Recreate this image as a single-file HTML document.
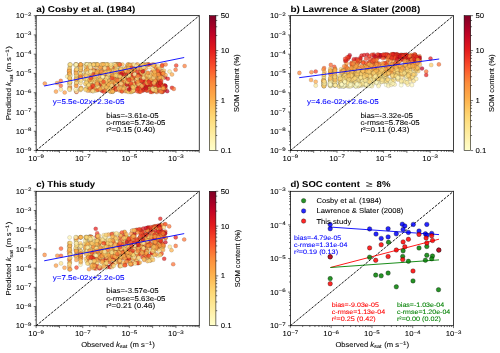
<!DOCTYPE html><html><head><meta charset="utf-8"><style>html,body{margin:0;padding:0;background:#fff;width:500px;height:353px;overflow:hidden}svg{display:block;will-change:transform}text{font-family:"Liberation Sans",sans-serif;text-rendering:geometricPrecision}</style></head><body><svg width="500" height="353" viewBox="0 0 500 353" font-family="Liberation Sans, sans-serif"><rect width="500" height="353" fill="#fff"/><defs><clipPath id="c0"><rect x="36.15" y="15.65" width="163.1" height="134.9"/></clipPath></defs><g clip-path="url(#c0)" stroke="#000" stroke-opacity="0.5" stroke-width="0.22" fill-opacity="0.72"><circle cx="80.5" cy="70.3" r="2.05" fill="rgb(254,187,86)"/><circle cx="147.9" cy="81.6" r="2.05" fill="rgb(244,62,37)"/><circle cx="157.6" cy="83.8" r="2.05" fill="rgb(220,21,29)"/><circle cx="111.6" cy="79.7" r="2.05" fill="rgb(255,241,170)"/><circle cx="119.6" cy="64.5" r="2.05" fill="rgb(254,209,109)"/><circle cx="105.2" cy="88.5" r="2.05" fill="rgb(232,37,31)"/><circle cx="113.1" cy="72.7" r="2.05" fill="rgb(254,208,108)"/><circle cx="80.5" cy="68.2" r="2.05" fill="rgb(255,247,184)"/><circle cx="119.6" cy="75.4" r="2.05" fill="rgb(254,215,116)"/><circle cx="106.9" cy="74.2" r="2.05" fill="rgb(254,186,84)"/><circle cx="165.3" cy="86.6" r="2.05" fill="rgb(252,84,43)"/><circle cx="110.1" cy="90.7" r="2.05" fill="rgb(253,149,63)"/><circle cx="69.8" cy="70.9" r="2.05" fill="rgb(254,223,130)"/><circle cx="150.4" cy="75.9" r="2.05" fill="rgb(237,47,33)"/><circle cx="88.1" cy="78.2" r="2.05" fill="rgb(254,192,91)"/><circle cx="92.8" cy="91.1" r="2.05" fill="rgb(253,155,66)"/><circle cx="134.3" cy="70.0" r="2.05" fill="rgb(252,82,43)"/><circle cx="143.1" cy="90.6" r="2.05" fill="rgb(241,55,36)"/><circle cx="91.5" cy="78.2" r="2.05" fill="rgb(253,171,73)"/><circle cx="105.5" cy="78.1" r="2.05" fill="rgb(254,208,108)"/><circle cx="154.1" cy="78.5" r="2.05" fill="rgb(254,182,80)"/><circle cx="155.6" cy="85.0" r="2.05" fill="rgb(254,233,151)"/><circle cx="132.2" cy="69.0" r="2.05" fill="rgb(252,106,50)"/><circle cx="108.9" cy="82.2" r="2.05" fill="rgb(254,216,117)"/><circle cx="159.5" cy="82.1" r="2.05" fill="rgb(254,216,117)"/><circle cx="109.4" cy="73.2" r="2.05" fill="rgb(254,184,83)"/><circle cx="101.7" cy="90.5" r="2.05" fill="rgb(255,239,166)"/><circle cx="139.7" cy="90.2" r="2.05" fill="rgb(233,39,31)"/><circle cx="80.7" cy="74.6" r="2.05" fill="rgb(254,193,92)"/><circle cx="154.8" cy="84.0" r="2.05" fill="rgb(252,80,42)"/><circle cx="118.1" cy="71.5" r="2.05" fill="rgb(253,169,72)"/><circle cx="100.4" cy="75.4" r="2.05" fill="rgb(253,171,73)"/><circle cx="85.5" cy="71.1" r="2.05" fill="rgb(254,206,107)"/><circle cx="148.4" cy="75.7" r="2.05" fill="rgb(221,22,29)"/><circle cx="121.9" cy="83.0" r="2.05" fill="rgb(253,172,73)"/><circle cx="152.3" cy="77.8" r="2.05" fill="rgb(254,182,80)"/><circle cx="108.5" cy="86.6" r="2.05" fill="rgb(253,153,65)"/><circle cx="155.4" cy="66.8" r="2.05" fill="rgb(253,172,73)"/><circle cx="136.9" cy="84.5" r="2.05" fill="rgb(254,204,104)"/><circle cx="142.3" cy="81.5" r="2.05" fill="rgb(253,147,62)"/><circle cx="147.5" cy="64.5" r="2.05" fill="rgb(254,187,86)"/><circle cx="121.7" cy="69.5" r="2.05" fill="rgb(253,172,73)"/><circle cx="69.8" cy="67.0" r="2.05" fill="rgb(254,221,128)"/><circle cx="102.1" cy="90.8" r="2.05" fill="rgb(218,20,30)"/><circle cx="80.5" cy="90.0" r="2.05" fill="rgb(254,204,104)"/><circle cx="93.2" cy="81.1" r="2.05" fill="rgb(254,234,154)"/><circle cx="128.4" cy="64.5" r="2.05" fill="rgb(254,183,82)"/><circle cx="100.3" cy="85.8" r="2.05" fill="rgb(253,141,60)"/><circle cx="118.2" cy="65.7" r="2.05" fill="rgb(255,246,183)"/><circle cx="93.2" cy="71.3" r="2.05" fill="rgb(254,203,103)"/><circle cx="104.0" cy="69.6" r="2.05" fill="rgb(254,213,113)"/><circle cx="119.6" cy="84.6" r="2.05" fill="rgb(254,222,129)"/><circle cx="153.3" cy="71.6" r="2.05" fill="rgb(252,118,53)"/><circle cx="138.3" cy="73.0" r="2.05" fill="rgb(253,156,66)"/><circle cx="163.9" cy="70.7" r="2.05" fill="rgb(254,189,88)"/><circle cx="137.5" cy="87.3" r="2.05" fill="rgb(235,44,32)"/><circle cx="126.4" cy="76.1" r="2.05" fill="rgb(254,208,108)"/><circle cx="127.2" cy="66.4" r="2.05" fill="rgb(253,157,67)"/><circle cx="129.5" cy="74.9" r="2.05" fill="rgb(254,189,88)"/><circle cx="110.0" cy="88.1" r="2.05" fill="rgb(253,154,65)"/><circle cx="89.9" cy="85.5" r="2.05" fill="rgb(254,221,126)"/><circle cx="97.5" cy="74.7" r="2.05" fill="rgb(255,247,184)"/><circle cx="69.8" cy="78.3" r="2.05" fill="rgb(253,175,74)"/><circle cx="161.1" cy="82.0" r="2.05" fill="rgb(252,130,56)"/><circle cx="147.8" cy="84.0" r="2.05" fill="rgb(242,59,36)"/><circle cx="155.0" cy="76.5" r="2.05" fill="rgb(253,156,66)"/><circle cx="164.7" cy="89.9" r="2.05" fill="rgb(252,100,48)"/><circle cx="125.5" cy="82.7" r="2.05" fill="rgb(254,188,87)"/><circle cx="110.0" cy="73.2" r="2.05" fill="rgb(254,216,117)"/><circle cx="94.6" cy="87.0" r="2.05" fill="rgb(254,199,99)"/><circle cx="88.2" cy="88.5" r="2.05" fill="rgb(254,191,90)"/><circle cx="128.4" cy="75.8" r="2.05" fill="rgb(253,174,74)"/><circle cx="80.9" cy="70.5" r="2.05" fill="rgb(253,170,72)"/><circle cx="105.2" cy="67.7" r="2.05" fill="rgb(253,146,62)"/><circle cx="98.7" cy="74.4" r="2.05" fill="rgb(254,211,112)"/><circle cx="80.7" cy="77.8" r="2.05" fill="rgb(253,163,69)"/><circle cx="113.8" cy="64.5" r="2.05" fill="rgb(254,229,144)"/><circle cx="156.4" cy="81.1" r="2.05" fill="rgb(232,37,31)"/><circle cx="109.9" cy="77.8" r="2.05" fill="rgb(254,230,146)"/><circle cx="91.4" cy="74.0" r="2.05" fill="rgb(255,247,184)"/><circle cx="86.1" cy="84.1" r="2.05" fill="rgb(254,200,100)"/><circle cx="115.2" cy="78.5" r="2.05" fill="rgb(253,165,70)"/><circle cx="109.7" cy="70.8" r="2.05" fill="rgb(254,179,78)"/><circle cx="94.0" cy="91.0" r="2.05" fill="rgb(255,245,180)"/><circle cx="147.3" cy="64.5" r="2.05" fill="rgb(255,238,163)"/><circle cx="80.3" cy="74.2" r="2.05" fill="rgb(254,228,142)"/><circle cx="108.7" cy="75.5" r="2.05" fill="rgb(254,181,79)"/><circle cx="86.6" cy="75.6" r="2.05" fill="rgb(254,225,134)"/><circle cx="138.3" cy="77.5" r="2.05" fill="rgb(253,174,74)"/><circle cx="150.8" cy="82.6" r="2.05" fill="rgb(239,52,35)"/><circle cx="101.4" cy="79.2" r="2.05" fill="rgb(253,154,65)"/><circle cx="137.9" cy="87.6" r="2.05" fill="rgb(162,0,38)"/><circle cx="163.6" cy="85.1" r="2.05" fill="rgb(253,141,60)"/><circle cx="144.0" cy="88.3" r="2.05" fill="rgb(244,62,37)"/><circle cx="94.6" cy="64.5" r="2.05" fill="rgb(254,216,117)"/><circle cx="150.7" cy="88.5" r="2.05" fill="rgb(254,215,116)"/><circle cx="134.8" cy="78.2" r="2.05" fill="rgb(253,167,71)"/><circle cx="124.7" cy="86.2" r="2.05" fill="rgb(207,12,33)"/><circle cx="80.4" cy="69.1" r="2.05" fill="rgb(255,239,165)"/><circle cx="124.7" cy="82.3" r="2.05" fill="rgb(255,242,173)"/><circle cx="98.1" cy="90.0" r="2.05" fill="rgb(252,130,56)"/><circle cx="103.8" cy="83.9" r="2.05" fill="rgb(254,215,116)"/><circle cx="145.8" cy="87.6" r="2.05" fill="rgb(204,10,33)"/><circle cx="127.6" cy="81.2" r="2.05" fill="rgb(253,169,72)"/><circle cx="109.5" cy="74.0" r="2.05" fill="rgb(254,222,129)"/><circle cx="75.9" cy="71.2" r="2.05" fill="rgb(255,244,179)"/><circle cx="155.8" cy="87.6" r="2.05" fill="rgb(253,157,67)"/><circle cx="137.6" cy="83.1" r="2.05" fill="rgb(254,235,157)"/><circle cx="126.7" cy="74.1" r="2.05" fill="rgb(254,228,142)"/><circle cx="112.8" cy="85.5" r="2.05" fill="rgb(254,226,137)"/><circle cx="161.0" cy="71.2" r="2.05" fill="rgb(246,67,39)"/><circle cx="111.4" cy="78.2" r="2.05" fill="rgb(252,136,58)"/><circle cx="91.9" cy="70.4" r="2.05" fill="rgb(255,240,168)"/><circle cx="113.9" cy="76.5" r="2.05" fill="rgb(254,197,96)"/><circle cx="80.8" cy="77.6" r="2.05" fill="rgb(254,178,76)"/><circle cx="108.7" cy="79.1" r="2.05" fill="rgb(254,234,154)"/><circle cx="147.0" cy="82.3" r="2.05" fill="rgb(254,189,88)"/><circle cx="97.1" cy="78.1" r="2.05" fill="rgb(253,177,75)"/><circle cx="119.6" cy="72.3" r="2.05" fill="rgb(254,208,108)"/><circle cx="80.2" cy="76.2" r="2.05" fill="rgb(252,112,51)"/><circle cx="70.3" cy="65.1" r="2.05" fill="rgb(254,219,122)"/><circle cx="69.7" cy="77.2" r="2.05" fill="rgb(254,218,120)"/><circle cx="118.7" cy="76.5" r="2.05" fill="rgb(253,169,72)"/><circle cx="152.5" cy="64.5" r="2.05" fill="rgb(252,118,53)"/><circle cx="119.4" cy="83.7" r="2.05" fill="rgb(253,142,60)"/><circle cx="86.1" cy="64.5" r="2.05" fill="rgb(254,232,150)"/><circle cx="89.0" cy="90.1" r="2.05" fill="rgb(253,157,67)"/><circle cx="111.2" cy="77.1" r="2.05" fill="rgb(254,193,92)"/><circle cx="116.9" cy="89.6" r="2.05" fill="rgb(252,94,46)"/><circle cx="113.6" cy="68.9" r="2.05" fill="rgb(252,100,48)"/><circle cx="149.0" cy="64.5" r="2.05" fill="rgb(254,187,86)"/><circle cx="121.2" cy="74.3" r="2.05" fill="rgb(254,203,103)"/><circle cx="140.6" cy="76.3" r="2.05" fill="rgb(227,28,28)"/><circle cx="143.1" cy="78.4" r="2.05" fill="rgb(253,177,75)"/><circle cx="157.7" cy="74.3" r="2.05" fill="rgb(255,239,165)"/><circle cx="70.1" cy="82.7" r="2.05" fill="rgb(254,218,121)"/><circle cx="101.6" cy="85.1" r="2.05" fill="rgb(255,247,184)"/><circle cx="127.8" cy="66.1" r="2.05" fill="rgb(253,168,71)"/><circle cx="76.0" cy="74.9" r="2.05" fill="rgb(255,247,184)"/><circle cx="133.0" cy="81.5" r="2.05" fill="rgb(252,88,45)"/><circle cx="136.0" cy="85.4" r="2.05" fill="rgb(254,218,120)"/><circle cx="130.5" cy="89.0" r="2.05" fill="rgb(228,29,28)"/><circle cx="102.5" cy="88.6" r="2.05" fill="rgb(253,162,69)"/><circle cx="136.9" cy="64.5" r="2.05" fill="rgb(252,122,54)"/><circle cx="152.2" cy="92.0" r="2.05" fill="rgb(252,122,54)"/><circle cx="85.9" cy="68.2" r="2.05" fill="rgb(255,240,168)"/><circle cx="86.3" cy="64.5" r="2.05" fill="rgb(255,247,184)"/><circle cx="160.7" cy="89.7" r="2.05" fill="rgb(253,174,74)"/><circle cx="93.9" cy="70.8" r="2.05" fill="rgb(254,235,157)"/><circle cx="107.3" cy="83.0" r="2.05" fill="rgb(227,26,28)"/><circle cx="153.3" cy="73.9" r="2.05" fill="rgb(253,176,75)"/><circle cx="94.7" cy="83.4" r="2.05" fill="rgb(254,181,79)"/><circle cx="128.8" cy="81.0" r="2.05" fill="rgb(254,226,137)"/><circle cx="113.1" cy="79.3" r="2.05" fill="rgb(254,231,147)"/><circle cx="114.0" cy="76.7" r="2.05" fill="rgb(254,192,91)"/><circle cx="122.0" cy="77.7" r="2.05" fill="rgb(252,126,55)"/><circle cx="152.6" cy="78.1" r="2.05" fill="rgb(254,179,78)"/><circle cx="76.0" cy="73.1" r="2.05" fill="rgb(255,247,184)"/><circle cx="151.1" cy="85.0" r="2.05" fill="rgb(252,126,55)"/><circle cx="105.6" cy="74.0" r="2.05" fill="rgb(253,145,61)"/><circle cx="141.6" cy="77.6" r="2.05" fill="rgb(253,163,69)"/><circle cx="160.7" cy="75.0" r="2.05" fill="rgb(254,179,78)"/><circle cx="104.4" cy="64.5" r="2.05" fill="rgb(253,153,65)"/><circle cx="90.9" cy="75.2" r="2.05" fill="rgb(255,247,184)"/><circle cx="85.6" cy="88.7" r="2.05" fill="rgb(254,191,90)"/><circle cx="99.0" cy="85.6" r="2.05" fill="rgb(254,208,108)"/><circle cx="109.4" cy="80.5" r="2.05" fill="rgb(252,128,56)"/><circle cx="162.4" cy="71.6" r="2.05" fill="rgb(254,206,107)"/><circle cx="149.2" cy="67.0" r="2.05" fill="rgb(254,228,141)"/><circle cx="133.7" cy="74.9" r="2.05" fill="rgb(254,193,92)"/><circle cx="96.6" cy="74.8" r="2.05" fill="rgb(252,130,56)"/><circle cx="138.0" cy="89.3" r="2.05" fill="rgb(254,204,104)"/><circle cx="152.2" cy="84.6" r="2.05" fill="rgb(255,237,161)"/><circle cx="124.0" cy="68.6" r="2.05" fill="rgb(254,229,144)"/><circle cx="161.2" cy="74.3" r="2.05" fill="rgb(247,68,39)"/><circle cx="123.1" cy="85.1" r="2.05" fill="rgb(253,168,71)"/><circle cx="105.8" cy="77.4" r="2.05" fill="rgb(254,222,129)"/><circle cx="87.3" cy="76.8" r="2.05" fill="rgb(254,214,115)"/><circle cx="109.1" cy="77.8" r="2.05" fill="rgb(254,235,157)"/><circle cx="91.6" cy="84.8" r="2.05" fill="rgb(252,136,58)"/><circle cx="131.9" cy="90.5" r="2.05" fill="rgb(254,200,100)"/><circle cx="76.6" cy="82.6" r="2.05" fill="rgb(254,213,113)"/><circle cx="97.1" cy="64.5" r="2.05" fill="rgb(253,158,67)"/><circle cx="114.9" cy="65.3" r="2.05" fill="rgb(254,189,88)"/><circle cx="80.5" cy="64.5" r="2.05" fill="rgb(254,194,93)"/><circle cx="124.9" cy="85.1" r="2.05" fill="rgb(252,80,42)"/><circle cx="152.5" cy="87.7" r="2.05" fill="rgb(240,54,35)"/><circle cx="88.2" cy="74.3" r="2.05" fill="rgb(253,156,66)"/><circle cx="101.3" cy="67.2" r="2.05" fill="rgb(253,169,72)"/><circle cx="156.9" cy="92.0" r="2.05" fill="rgb(252,116,52)"/><circle cx="106.3" cy="90.7" r="2.05" fill="rgb(254,187,86)"/><circle cx="143.8" cy="79.1" r="2.05" fill="rgb(254,197,96)"/><circle cx="120.1" cy="69.6" r="2.05" fill="rgb(253,163,69)"/><circle cx="76.5" cy="81.8" r="2.05" fill="rgb(255,247,184)"/><circle cx="147.2" cy="79.9" r="2.05" fill="rgb(254,215,116)"/><circle cx="125.1" cy="82.0" r="2.05" fill="rgb(254,192,91)"/><circle cx="127.9" cy="89.0" r="2.05" fill="rgb(253,143,61)"/><circle cx="98.6" cy="89.3" r="2.05" fill="rgb(253,175,74)"/><circle cx="130.1" cy="78.2" r="2.05" fill="rgb(232,37,31)"/><circle cx="64.7" cy="92.5" r="2.05" fill="rgb(253,157,67)"/><circle cx="137.6" cy="75.0" r="2.05" fill="rgb(254,182,80)"/><circle cx="114.7" cy="67.9" r="2.05" fill="rgb(252,102,48)"/><circle cx="130.1" cy="79.5" r="2.05" fill="rgb(254,218,121)"/><circle cx="131.6" cy="70.5" r="2.05" fill="rgb(253,171,73)"/><circle cx="88.9" cy="80.6" r="2.05" fill="rgb(253,145,61)"/><circle cx="131.0" cy="84.2" r="2.05" fill="rgb(254,225,134)"/><circle cx="95.9" cy="72.8" r="2.05" fill="rgb(253,158,67)"/><circle cx="141.0" cy="82.5" r="2.05" fill="rgb(254,181,79)"/><circle cx="76.5" cy="65.1" r="2.05" fill="rgb(254,192,91)"/><circle cx="110.0" cy="85.4" r="2.05" fill="rgb(223,23,28)"/><circle cx="97.8" cy="73.4" r="2.05" fill="rgb(252,104,49)"/><circle cx="91.0" cy="80.2" r="2.05" fill="rgb(254,191,90)"/><circle cx="106.1" cy="83.0" r="2.05" fill="rgb(223,23,28)"/><circle cx="69.6" cy="84.0" r="2.05" fill="rgb(255,247,184)"/><circle cx="127.8" cy="65.2" r="2.05" fill="rgb(254,223,130)"/><circle cx="184.6" cy="66.0" r="2.05" fill="rgb(252,122,54)"/><circle cx="95.4" cy="65.1" r="2.05" fill="rgb(253,164,70)"/><circle cx="96.7" cy="87.5" r="2.05" fill="rgb(254,193,92)"/><circle cx="114.8" cy="88.1" r="2.05" fill="rgb(253,176,75)"/><circle cx="101.0" cy="84.7" r="2.05" fill="rgb(255,238,163)"/><circle cx="75.9" cy="64.5" r="2.05" fill="rgb(254,213,113)"/><circle cx="104.0" cy="91.8" r="2.05" fill="rgb(242,57,36)"/><circle cx="97.0" cy="72.6" r="2.05" fill="rgb(252,118,53)"/><circle cx="158.0" cy="89.9" r="2.05" fill="rgb(253,169,72)"/><circle cx="81.0" cy="87.7" r="2.05" fill="rgb(253,162,69)"/><circle cx="125.1" cy="83.8" r="2.05" fill="rgb(255,237,161)"/><circle cx="155.8" cy="91.3" r="2.05" fill="rgb(254,186,84)"/><circle cx="143.8" cy="80.5" r="2.05" fill="rgb(253,162,69)"/><circle cx="125.1" cy="69.6" r="2.05" fill="rgb(253,157,67)"/><circle cx="133.0" cy="91.0" r="2.05" fill="rgb(250,75,41)"/><circle cx="76.1" cy="70.7" r="2.05" fill="rgb(253,161,68)"/><circle cx="124.6" cy="85.8" r="2.05" fill="rgb(254,203,103)"/><circle cx="127.7" cy="81.1" r="2.05" fill="rgb(254,204,104)"/><circle cx="135.8" cy="76.6" r="2.05" fill="rgb(253,170,72)"/><circle cx="147.0" cy="84.4" r="2.05" fill="rgb(255,247,184)"/><circle cx="100.3" cy="87.1" r="2.05" fill="rgb(253,146,62)"/><circle cx="80.5" cy="73.4" r="2.05" fill="rgb(254,230,145)"/><circle cx="153.0" cy="78.1" r="2.05" fill="rgb(254,205,105)"/><circle cx="69.8" cy="86.8" r="2.05" fill="rgb(252,80,42)"/><circle cx="169.6" cy="71.5" r="2.05" fill="rgb(254,227,140)"/><circle cx="113.2" cy="90.8" r="2.05" fill="rgb(255,247,184)"/><circle cx="150.1" cy="87.4" r="2.05" fill="rgb(253,154,65)"/><circle cx="109.0" cy="80.7" r="2.05" fill="rgb(254,217,118)"/><circle cx="89.9" cy="73.2" r="2.05" fill="rgb(255,245,181)"/><circle cx="91.4" cy="64.8" r="2.05" fill="rgb(254,228,141)"/><circle cx="94.2" cy="81.9" r="2.05" fill="rgb(253,176,75)"/><circle cx="80.6" cy="82.9" r="2.05" fill="rgb(254,219,124)"/><circle cx="129.1" cy="85.3" r="2.05" fill="rgb(253,176,75)"/><circle cx="69.8" cy="76.7" r="2.05" fill="rgb(254,225,136)"/><circle cx="75.8" cy="64.5" r="2.05" fill="rgb(254,189,88)"/><circle cx="95.9" cy="78.1" r="2.05" fill="rgb(254,199,99)"/><circle cx="107.6" cy="84.5" r="2.05" fill="rgb(253,162,69)"/><circle cx="120.1" cy="80.4" r="2.05" fill="rgb(252,114,52)"/><circle cx="159.1" cy="83.6" r="2.05" fill="rgb(254,182,80)"/><circle cx="146.1" cy="79.7" r="2.05" fill="rgb(240,54,35)"/><circle cx="113.7" cy="88.7" r="2.05" fill="rgb(254,230,146)"/><circle cx="96.5" cy="66.7" r="2.05" fill="rgb(253,177,75)"/><circle cx="157.0" cy="89.7" r="2.05" fill="rgb(211,15,32)"/><circle cx="94.3" cy="78.4" r="2.05" fill="rgb(254,222,129)"/><circle cx="121.7" cy="83.6" r="2.05" fill="rgb(254,209,109)"/><circle cx="104.0" cy="64.5" r="2.05" fill="rgb(254,220,125)"/><circle cx="161.9" cy="67.1" r="2.05" fill="rgb(254,229,144)"/><circle cx="98.9" cy="80.7" r="2.05" fill="rgb(255,241,170)"/><circle cx="157.1" cy="87.9" r="2.05" fill="rgb(252,134,58)"/><circle cx="101.3" cy="74.7" r="2.05" fill="rgb(253,145,61)"/><circle cx="146.0" cy="87.4" r="2.05" fill="rgb(253,157,67)"/><circle cx="97.8" cy="85.0" r="2.05" fill="rgb(252,138,59)"/><circle cx="85.1" cy="79.4" r="2.05" fill="rgb(254,210,111)"/><circle cx="109.2" cy="68.7" r="2.05" fill="rgb(253,153,65)"/><circle cx="152.2" cy="71.8" r="2.05" fill="rgb(249,73,40)"/><circle cx="122.8" cy="78.6" r="2.05" fill="rgb(252,78,42)"/><circle cx="80.3" cy="69.7" r="2.05" fill="rgb(254,188,87)"/><circle cx="89.9" cy="82.6" r="2.05" fill="rgb(254,226,138)"/><circle cx="154.5" cy="65.5" r="2.05" fill="rgb(253,164,70)"/><circle cx="69.5" cy="75.1" r="2.05" fill="rgb(254,206,107)"/><circle cx="93.2" cy="69.5" r="2.05" fill="rgb(253,158,67)"/><circle cx="69.2" cy="83.0" r="2.05" fill="rgb(254,223,130)"/><circle cx="115.1" cy="84.2" r="2.05" fill="rgb(254,182,80)"/><circle cx="139.8" cy="77.9" r="2.05" fill="rgb(252,120,54)"/><circle cx="107.1" cy="65.8" r="2.05" fill="rgb(254,230,146)"/><circle cx="95.6" cy="75.8" r="2.05" fill="rgb(254,199,99)"/><circle cx="101.9" cy="76.3" r="2.05" fill="rgb(253,157,67)"/><circle cx="87.2" cy="86.4" r="2.05" fill="rgb(254,226,138)"/><circle cx="124.3" cy="69.6" r="2.05" fill="rgb(254,236,159)"/><circle cx="125.8" cy="88.6" r="2.05" fill="rgb(187,0,38)"/><circle cx="146.1" cy="77.7" r="2.05" fill="rgb(254,184,83)"/><circle cx="160.4" cy="88.4" r="2.05" fill="rgb(233,39,31)"/><circle cx="140.9" cy="82.6" r="2.05" fill="rgb(253,162,69)"/><circle cx="139.0" cy="91.8" r="2.05" fill="rgb(252,106,50)"/><circle cx="129.5" cy="73.9" r="2.05" fill="rgb(252,102,48)"/><circle cx="130.9" cy="80.6" r="2.05" fill="rgb(254,192,91)"/><circle cx="105.2" cy="90.2" r="2.05" fill="rgb(252,112,51)"/><circle cx="91.2" cy="75.9" r="2.05" fill="rgb(255,247,184)"/><circle cx="121.2" cy="84.5" r="2.05" fill="rgb(254,193,92)"/><circle cx="144.9" cy="78.8" r="2.05" fill="rgb(252,82,43)"/><circle cx="117.3" cy="64.5" r="2.05" fill="rgb(254,233,151)"/><circle cx="158.1" cy="78.2" r="2.05" fill="rgb(253,156,66)"/><circle cx="89.4" cy="74.9" r="2.05" fill="rgb(254,199,99)"/><circle cx="138.6" cy="80.4" r="2.05" fill="rgb(252,104,49)"/><circle cx="130.8" cy="77.0" r="2.05" fill="rgb(254,193,92)"/><circle cx="97.6" cy="79.8" r="2.05" fill="rgb(255,242,172)"/><circle cx="122.1" cy="70.2" r="2.05" fill="rgb(254,233,153)"/><circle cx="100.8" cy="80.3" r="2.05" fill="rgb(254,224,133)"/><circle cx="175.6" cy="69.7" r="2.05" fill="rgb(252,112,51)"/><circle cx="98.4" cy="71.8" r="2.05" fill="rgb(254,187,86)"/><circle cx="97.4" cy="73.8" r="2.05" fill="rgb(254,219,122)"/><circle cx="60.8" cy="85.7" r="2.05" fill="rgb(252,94,46)"/><circle cx="76.5" cy="79.8" r="2.05" fill="rgb(253,168,71)"/><circle cx="156.2" cy="81.9" r="2.05" fill="rgb(253,167,71)"/><circle cx="116.3" cy="66.8" r="2.05" fill="rgb(254,219,122)"/><circle cx="75.8" cy="64.5" r="2.05" fill="rgb(254,218,120)"/><circle cx="80.1" cy="65.6" r="2.05" fill="rgb(252,80,42)"/><circle cx="138.4" cy="81.7" r="2.05" fill="rgb(253,172,73)"/><circle cx="105.9" cy="73.5" r="2.05" fill="rgb(254,186,84)"/><circle cx="93.7" cy="77.4" r="2.05" fill="rgb(254,221,128)"/><circle cx="129.6" cy="64.5" r="2.05" fill="rgb(255,242,172)"/><circle cx="101.7" cy="64.5" r="2.05" fill="rgb(253,146,62)"/><circle cx="125.0" cy="73.9" r="2.05" fill="rgb(253,157,67)"/><circle cx="84.8" cy="74.3" r="2.05" fill="rgb(254,226,137)"/><circle cx="101.3" cy="79.9" r="2.05" fill="rgb(254,231,147)"/><circle cx="131.3" cy="85.4" r="2.05" fill="rgb(253,157,67)"/><circle cx="116.4" cy="72.0" r="2.05" fill="rgb(254,193,92)"/><circle cx="134.3" cy="76.7" r="2.05" fill="rgb(208,13,32)"/><circle cx="76.6" cy="78.7" r="2.05" fill="rgb(253,156,66)"/><circle cx="109.2" cy="80.2" r="2.05" fill="rgb(252,80,42)"/><circle cx="69.5" cy="69.6" r="2.05" fill="rgb(253,171,73)"/><circle cx="76.5" cy="64.5" r="2.05" fill="rgb(253,152,64)"/><circle cx="112.0" cy="82.5" r="2.05" fill="rgb(254,225,136)"/><circle cx="115.0" cy="90.0" r="2.05" fill="rgb(254,216,117)"/><circle cx="134.0" cy="88.0" r="2.05" fill="rgb(254,220,125)"/><circle cx="161.1" cy="85.2" r="2.05" fill="rgb(246,65,38)"/><circle cx="91.1" cy="79.1" r="2.05" fill="rgb(254,189,88)"/><circle cx="102.6" cy="84.4" r="2.05" fill="rgb(253,175,74)"/><circle cx="139.3" cy="87.4" r="2.05" fill="rgb(253,145,61)"/><circle cx="117.3" cy="71.2" r="2.05" fill="rgb(254,197,96)"/><circle cx="90.6" cy="90.8" r="2.05" fill="rgb(254,188,87)"/><circle cx="76.1" cy="91.3" r="2.05" fill="rgb(254,208,108)"/><circle cx="161.0" cy="74.6" r="2.05" fill="rgb(252,130,56)"/><circle cx="107.1" cy="64.5" r="2.05" fill="rgb(254,234,154)"/><circle cx="129.9" cy="78.4" r="2.05" fill="rgb(254,181,79)"/><circle cx="123.6" cy="79.3" r="2.05" fill="rgb(254,230,146)"/><circle cx="87.2" cy="83.0" r="2.05" fill="rgb(255,243,176)"/><circle cx="108.6" cy="80.6" r="2.05" fill="rgb(254,199,99)"/><circle cx="139.9" cy="91.5" r="2.05" fill="rgb(252,82,43)"/><circle cx="91.8" cy="73.0" r="2.05" fill="rgb(255,247,184)"/><circle cx="87.7" cy="90.7" r="2.05" fill="rgb(254,178,76)"/><circle cx="103.8" cy="85.5" r="2.05" fill="rgb(254,227,140)"/><circle cx="116.4" cy="81.5" r="2.05" fill="rgb(253,165,70)"/><circle cx="102.7" cy="72.0" r="2.05" fill="rgb(252,114,52)"/><circle cx="69.4" cy="68.7" r="2.05" fill="rgb(254,208,108)"/><circle cx="103.8" cy="64.5" r="2.05" fill="rgb(254,233,151)"/><circle cx="140.1" cy="77.3" r="2.05" fill="rgb(254,234,154)"/><circle cx="126.5" cy="84.0" r="2.05" fill="rgb(253,152,64)"/><circle cx="147.5" cy="87.0" r="2.05" fill="rgb(253,170,72)"/><circle cx="153.0" cy="90.6" r="2.05" fill="rgb(253,150,64)"/><circle cx="124.6" cy="72.6" r="2.05" fill="rgb(252,138,59)"/><circle cx="133.2" cy="75.6" r="2.05" fill="rgb(240,54,35)"/><circle cx="163.6" cy="90.1" r="2.05" fill="rgb(253,162,69)"/><circle cx="144.2" cy="89.0" r="2.05" fill="rgb(233,39,31)"/><circle cx="96.2" cy="90.5" r="2.05" fill="rgb(254,181,79)"/><circle cx="106.6" cy="73.2" r="2.05" fill="rgb(254,204,104)"/><circle cx="137.2" cy="83.5" r="2.05" fill="rgb(253,143,61)"/><circle cx="111.7" cy="82.9" r="2.05" fill="rgb(253,167,71)"/><circle cx="142.8" cy="82.6" r="2.05" fill="rgb(254,214,115)"/><circle cx="107.4" cy="64.5" r="2.05" fill="rgb(254,214,115)"/><circle cx="130.1" cy="74.2" r="2.05" fill="rgb(254,200,100)"/><circle cx="110.6" cy="72.1" r="2.05" fill="rgb(252,140,59)"/><circle cx="155.6" cy="82.3" r="2.05" fill="rgb(252,98,47)"/><circle cx="160.6" cy="90.2" r="2.05" fill="rgb(252,118,53)"/><circle cx="152.2" cy="84.5" r="2.05" fill="rgb(254,186,84)"/><circle cx="144.0" cy="69.8" r="2.05" fill="rgb(253,158,67)"/><circle cx="75.8" cy="64.5" r="2.05" fill="rgb(255,247,184)"/><circle cx="160.5" cy="84.0" r="2.05" fill="rgb(211,15,32)"/><circle cx="147.4" cy="73.4" r="2.05" fill="rgb(252,82,43)"/><circle cx="130.3" cy="80.5" r="2.05" fill="rgb(255,247,184)"/><circle cx="143.9" cy="64.5" r="2.05" fill="rgb(254,222,129)"/><circle cx="87.8" cy="70.3" r="2.05" fill="rgb(255,247,184)"/><circle cx="112.5" cy="76.4" r="2.05" fill="rgb(253,161,68)"/><circle cx="118.7" cy="84.4" r="2.05" fill="rgb(254,218,121)"/><circle cx="125.3" cy="91.2" r="2.05" fill="rgb(253,157,67)"/><circle cx="107.8" cy="77.4" r="2.05" fill="rgb(255,237,161)"/><circle cx="102.0" cy="76.4" r="2.05" fill="rgb(251,76,41)"/><circle cx="81.0" cy="66.9" r="2.05" fill="rgb(253,149,63)"/><circle cx="69.9" cy="89.8" r="2.05" fill="rgb(254,221,126)"/><circle cx="147.0" cy="79.2" r="2.05" fill="rgb(254,203,103)"/><circle cx="142.5" cy="76.9" r="2.05" fill="rgb(254,189,88)"/><circle cx="96.6" cy="64.5" r="2.05" fill="rgb(254,211,112)"/><circle cx="149.7" cy="81.2" r="2.05" fill="rgb(254,216,117)"/><circle cx="160.9" cy="85.8" r="2.05" fill="rgb(252,106,50)"/><circle cx="80.0" cy="65.7" r="2.05" fill="rgb(253,172,73)"/><circle cx="76.3" cy="83.7" r="2.05" fill="rgb(253,157,67)"/><circle cx="89.5" cy="79.6" r="2.05" fill="rgb(253,176,75)"/><circle cx="112.4" cy="87.9" r="2.05" fill="rgb(253,141,60)"/><circle cx="110.0" cy="66.8" r="2.05" fill="rgb(254,195,95)"/><circle cx="76.5" cy="92.0" r="2.05" fill="rgb(250,75,41)"/><circle cx="158.2" cy="79.5" r="2.05" fill="rgb(215,18,31)"/><circle cx="129.9" cy="87.0" r="2.05" fill="rgb(227,26,28)"/><circle cx="142.9" cy="84.9" r="2.05" fill="rgb(247,68,39)"/><circle cx="161.6" cy="73.0" r="2.05" fill="rgb(253,152,64)"/><circle cx="147.5" cy="77.4" r="2.05" fill="rgb(253,169,72)"/><circle cx="154.0" cy="91.0" r="2.05" fill="rgb(238,50,34)"/><circle cx="137.6" cy="83.4" r="2.05" fill="rgb(252,82,43)"/><circle cx="150.3" cy="83.8" r="2.05" fill="rgb(246,67,39)"/><circle cx="140.6" cy="82.0" r="2.05" fill="rgb(224,24,28)"/><circle cx="162.3" cy="65.1" r="2.05" fill="rgb(252,96,47)"/><circle cx="131.6" cy="77.2" r="2.05" fill="rgb(254,191,90)"/><circle cx="115.1" cy="85.1" r="2.05" fill="rgb(254,205,105)"/><circle cx="148.2" cy="88.0" r="2.05" fill="rgb(253,172,73)"/><circle cx="144.6" cy="80.5" r="2.05" fill="rgb(253,152,64)"/><circle cx="94.2" cy="83.4" r="2.05" fill="rgb(254,194,93)"/><circle cx="119.6" cy="77.3" r="2.05" fill="rgb(242,59,36)"/><circle cx="152.6" cy="77.6" r="2.05" fill="rgb(254,188,87)"/><circle cx="142.6" cy="89.9" r="2.05" fill="rgb(231,36,30)"/><circle cx="85.1" cy="64.5" r="2.05" fill="rgb(255,239,166)"/><circle cx="126.0" cy="74.1" r="2.05" fill="rgb(254,203,103)"/><circle cx="127.5" cy="73.0" r="2.05" fill="rgb(254,227,140)"/><circle cx="113.8" cy="78.3" r="2.05" fill="rgb(253,165,70)"/><circle cx="94.5" cy="79.6" r="2.05" fill="rgb(254,214,115)"/><circle cx="164.9" cy="77.4" r="2.05" fill="rgb(204,10,33)"/><circle cx="127.9" cy="75.2" r="2.05" fill="rgb(254,228,141)"/><circle cx="127.8" cy="64.5" r="2.05" fill="rgb(254,179,78)"/><circle cx="76.4" cy="78.7" r="2.05" fill="rgb(254,231,149)"/><circle cx="140.4" cy="67.0" r="2.05" fill="rgb(254,235,155)"/><circle cx="115.4" cy="64.5" r="2.05" fill="rgb(253,156,66)"/><circle cx="110.6" cy="71.0" r="2.05" fill="rgb(254,183,82)"/><circle cx="86.9" cy="72.0" r="2.05" fill="rgb(254,231,147)"/><circle cx="86.8" cy="82.7" r="2.05" fill="rgb(254,206,107)"/><circle cx="120.9" cy="69.6" r="2.05" fill="rgb(253,165,70)"/><circle cx="139.4" cy="89.0" r="2.05" fill="rgb(254,183,82)"/><circle cx="99.9" cy="76.2" r="2.05" fill="rgb(252,138,59)"/><circle cx="147.7" cy="86.6" r="2.05" fill="rgb(253,175,74)"/><circle cx="159.9" cy="83.5" r="2.05" fill="rgb(249,73,40)"/><circle cx="93.8" cy="83.6" r="2.05" fill="rgb(254,192,91)"/><circle cx="97.1" cy="83.8" r="2.05" fill="rgb(254,235,155)"/><circle cx="118.7" cy="82.3" r="2.05" fill="rgb(254,179,78)"/><circle cx="139.0" cy="80.4" r="2.05" fill="rgb(231,34,30)"/><circle cx="90.2" cy="64.5" r="2.05" fill="rgb(254,181,79)"/><circle cx="158.5" cy="85.8" r="2.05" fill="rgb(235,44,32)"/><circle cx="118.6" cy="75.4" r="2.05" fill="rgb(254,232,150)"/><circle cx="95.4" cy="70.4" r="2.05" fill="rgb(254,218,121)"/><circle cx="122.2" cy="72.6" r="2.05" fill="rgb(253,164,70)"/><circle cx="160.1" cy="73.9" r="2.05" fill="rgb(230,32,29)"/><circle cx="111.9" cy="72.6" r="2.05" fill="rgb(254,235,157)"/><circle cx="119.2" cy="79.6" r="2.05" fill="rgb(251,76,41)"/><circle cx="87.9" cy="72.0" r="2.05" fill="rgb(254,230,145)"/><circle cx="117.5" cy="77.7" r="2.05" fill="rgb(254,232,150)"/><circle cx="105.0" cy="82.4" r="2.05" fill="rgb(253,167,71)"/><circle cx="131.0" cy="71.5" r="2.05" fill="rgb(220,21,29)"/><circle cx="147.1" cy="79.1" r="2.05" fill="rgb(253,170,72)"/><circle cx="103.2" cy="87.4" r="2.05" fill="rgb(254,218,120)"/><circle cx="131.0" cy="90.7" r="2.05" fill="rgb(254,205,105)"/><circle cx="95.9" cy="80.6" r="2.05" fill="rgb(254,226,138)"/><circle cx="157.5" cy="86.7" r="2.05" fill="rgb(254,191,90)"/><circle cx="143.3" cy="79.3" r="2.05" fill="rgb(255,242,172)"/><circle cx="99.9" cy="68.4" r="2.05" fill="rgb(254,178,76)"/><circle cx="139.8" cy="88.1" r="2.05" fill="rgb(254,193,92)"/><circle cx="150.7" cy="74.7" r="2.05" fill="rgb(252,88,45)"/><circle cx="138.9" cy="75.3" r="2.05" fill="rgb(253,177,75)"/><circle cx="80.8" cy="88.2" r="2.05" fill="rgb(254,181,79)"/><circle cx="117.1" cy="83.6" r="2.05" fill="rgb(254,226,137)"/><circle cx="130.4" cy="88.3" r="2.05" fill="rgb(254,214,115)"/><circle cx="151.2" cy="90.2" r="2.05" fill="rgb(234,41,32)"/><circle cx="132.3" cy="78.3" r="2.05" fill="rgb(254,199,99)"/><circle cx="75.9" cy="85.6" r="2.05" fill="rgb(254,220,125)"/><circle cx="148.7" cy="64.5" r="2.05" fill="rgb(230,32,29)"/><circle cx="114.9" cy="80.2" r="2.05" fill="rgb(254,198,97)"/><circle cx="162.7" cy="78.3" r="2.05" fill="rgb(254,206,107)"/><circle cx="152.3" cy="81.3" r="2.05" fill="rgb(254,216,117)"/><circle cx="117.0" cy="64.5" r="2.05" fill="rgb(253,148,63)"/><circle cx="156.9" cy="84.9" r="2.05" fill="rgb(254,226,138)"/><circle cx="136.2" cy="75.5" r="2.05" fill="rgb(238,49,34)"/><circle cx="80.3" cy="74.1" r="2.05" fill="rgb(254,208,108)"/><circle cx="85.6" cy="66.0" r="2.05" fill="rgb(254,222,129)"/><circle cx="100.4" cy="71.5" r="2.05" fill="rgb(253,164,70)"/><circle cx="159.3" cy="80.5" r="2.05" fill="rgb(236,45,33)"/><circle cx="145.4" cy="89.6" r="2.05" fill="rgb(252,116,52)"/><circle cx="142.0" cy="87.6" r="2.05" fill="rgb(235,44,32)"/><circle cx="113.4" cy="82.8" r="2.05" fill="rgb(253,172,73)"/><circle cx="150.7" cy="82.7" r="2.05" fill="rgb(253,165,70)"/><circle cx="104.7" cy="75.4" r="2.05" fill="rgb(254,220,125)"/><circle cx="134.2" cy="68.3" r="2.05" fill="rgb(223,23,28)"/><circle cx="107.1" cy="76.1" r="2.05" fill="rgb(254,234,154)"/><circle cx="146.0" cy="73.9" r="2.05" fill="rgb(253,154,65)"/><circle cx="89.1" cy="70.1" r="2.05" fill="rgb(254,184,83)"/><circle cx="90.8" cy="88.6" r="2.05" fill="rgb(254,218,120)"/><circle cx="123.6" cy="81.0" r="2.05" fill="rgb(248,70,39)"/><circle cx="153.0" cy="69.6" r="2.05" fill="rgb(254,216,117)"/><circle cx="146.3" cy="64.5" r="2.05" fill="rgb(253,160,68)"/><circle cx="142.3" cy="66.1" r="2.05" fill="rgb(253,152,64)"/><circle cx="142.8" cy="68.4" r="2.05" fill="rgb(203,9,34)"/><circle cx="108.8" cy="73.2" r="2.05" fill="rgb(252,92,46)"/><circle cx="133.5" cy="83.7" r="2.05" fill="rgb(253,169,72)"/><circle cx="137.7" cy="88.8" r="2.05" fill="rgb(238,49,34)"/><circle cx="129.7" cy="86.0" r="2.05" fill="rgb(252,86,44)"/><circle cx="69.8" cy="73.9" r="2.05" fill="rgb(254,233,153)"/><circle cx="145.7" cy="79.8" r="2.05" fill="rgb(253,163,69)"/><circle cx="141.4" cy="70.4" r="2.05" fill="rgb(253,157,67)"/><circle cx="119.7" cy="77.1" r="2.05" fill="rgb(253,168,71)"/><circle cx="44.8" cy="83.6" r="2.05" fill="rgb(252,140,59)"/><circle cx="158.1" cy="79.1" r="2.05" fill="rgb(252,132,57)"/><circle cx="80.9" cy="79.8" r="2.05" fill="rgb(254,223,132)"/><circle cx="141.0" cy="80.0" r="2.05" fill="rgb(252,110,51)"/><circle cx="96.3" cy="64.5" r="2.05" fill="rgb(255,243,175)"/><circle cx="142.5" cy="71.7" r="2.05" fill="rgb(252,108,50)"/><circle cx="111.6" cy="78.7" r="2.05" fill="rgb(255,247,184)"/><circle cx="138.1" cy="74.8" r="2.05" fill="rgb(254,189,88)"/><circle cx="105.0" cy="69.8" r="2.05" fill="rgb(255,247,184)"/><circle cx="104.5" cy="86.2" r="2.05" fill="rgb(254,195,95)"/><circle cx="151.9" cy="88.5" r="2.05" fill="rgb(252,128,56)"/><circle cx="105.5" cy="82.7" r="2.05" fill="rgb(254,179,78)"/><circle cx="147.0" cy="90.6" r="2.05" fill="rgb(252,88,45)"/><circle cx="154.4" cy="90.3" r="2.05" fill="rgb(249,73,40)"/><circle cx="104.1" cy="64.5" r="2.05" fill="rgb(254,232,150)"/><circle cx="113.0" cy="64.5" r="2.05" fill="rgb(254,232,150)"/><circle cx="131.9" cy="71.0" r="2.05" fill="rgb(255,247,184)"/><circle cx="135.2" cy="76.7" r="2.05" fill="rgb(253,158,67)"/><circle cx="107.1" cy="64.9" r="2.05" fill="rgb(254,189,88)"/><circle cx="121.9" cy="83.8" r="2.05" fill="rgb(254,197,96)"/><circle cx="90.2" cy="64.5" r="2.05" fill="rgb(254,209,109)"/><circle cx="154.7" cy="78.7" r="2.05" fill="rgb(253,176,75)"/><circle cx="99.6" cy="84.6" r="2.05" fill="rgb(222,22,29)"/><circle cx="94.4" cy="84.7" r="2.05" fill="rgb(240,54,35)"/><circle cx="115.5" cy="64.5" r="2.05" fill="rgb(253,177,75)"/><circle cx="128.6" cy="78.5" r="2.05" fill="rgb(254,191,90)"/><circle cx="132.8" cy="72.8" r="2.05" fill="rgb(252,100,48)"/><circle cx="155.3" cy="84.0" r="2.05" fill="rgb(221,22,29)"/><circle cx="142.9" cy="81.0" r="2.05" fill="rgb(244,62,37)"/><circle cx="157.1" cy="70.7" r="2.05" fill="rgb(253,155,66)"/><circle cx="119.6" cy="80.0" r="2.05" fill="rgb(192,2,37)"/><circle cx="107.9" cy="64.5" r="2.05" fill="rgb(254,200,100)"/><circle cx="112.9" cy="91.6" r="2.05" fill="rgb(254,178,76)"/><circle cx="155.6" cy="86.6" r="2.05" fill="rgb(253,176,75)"/><circle cx="118.7" cy="81.8" r="2.05" fill="rgb(223,23,28)"/><circle cx="133.3" cy="80.7" r="2.05" fill="rgb(253,145,61)"/><circle cx="97.3" cy="79.1" r="2.05" fill="rgb(253,176,75)"/><circle cx="104.8" cy="73.8" r="2.05" fill="rgb(254,211,112)"/><circle cx="97.4" cy="89.6" r="2.05" fill="rgb(252,86,44)"/><circle cx="115.4" cy="85.1" r="2.05" fill="rgb(244,62,37)"/><circle cx="115.1" cy="83.2" r="2.05" fill="rgb(254,179,78)"/><circle cx="97.1" cy="77.7" r="2.05" fill="rgb(255,242,172)"/><circle cx="154.1" cy="64.5" r="2.05" fill="rgb(254,187,86)"/><circle cx="138.5" cy="81.3" r="2.05" fill="rgb(252,134,58)"/><circle cx="126.9" cy="71.4" r="2.05" fill="rgb(254,225,134)"/><circle cx="110.5" cy="85.5" r="2.05" fill="rgb(254,197,96)"/><circle cx="118.6" cy="85.9" r="2.05" fill="rgb(252,88,45)"/><circle cx="146.8" cy="85.8" r="2.05" fill="rgb(234,41,32)"/><circle cx="139.9" cy="74.7" r="2.05" fill="rgb(235,42,32)"/><circle cx="88.3" cy="67.0" r="2.05" fill="rgb(254,218,121)"/><circle cx="88.6" cy="78.1" r="2.05" fill="rgb(255,240,168)"/><circle cx="69.9" cy="74.6" r="2.05" fill="rgb(254,224,133)"/><circle cx="86.9" cy="69.6" r="2.05" fill="rgb(254,211,112)"/><circle cx="154.0" cy="79.9" r="2.05" fill="rgb(254,178,76)"/><circle cx="113.1" cy="82.6" r="2.05" fill="rgb(252,96,47)"/><circle cx="131.3" cy="77.4" r="2.05" fill="rgb(254,182,80)"/><circle cx="172.0" cy="87.7" r="2.05" fill="rgb(228,29,28)"/><circle cx="134.5" cy="86.7" r="2.05" fill="rgb(254,225,134)"/><circle cx="127.8" cy="76.4" r="2.05" fill="rgb(254,232,150)"/><circle cx="106.9" cy="88.0" r="2.05" fill="rgb(254,194,93)"/><circle cx="103.8" cy="82.2" r="2.05" fill="rgb(253,162,69)"/><circle cx="123.5" cy="77.8" r="2.05" fill="rgb(254,194,93)"/><circle cx="101.9" cy="82.9" r="2.05" fill="rgb(252,132,57)"/><circle cx="156.1" cy="74.6" r="2.05" fill="rgb(250,75,41)"/><circle cx="111.1" cy="91.4" r="2.05" fill="rgb(253,160,68)"/><circle cx="154.9" cy="83.8" r="2.05" fill="rgb(253,170,72)"/><circle cx="153.0" cy="76.0" r="2.05" fill="rgb(246,67,39)"/><circle cx="86.0" cy="79.0" r="2.05" fill="rgb(254,217,118)"/><circle cx="80.9" cy="64.5" r="2.05" fill="rgb(254,221,128)"/><circle cx="127.3" cy="91.0" r="2.05" fill="rgb(253,149,63)"/><circle cx="91.2" cy="68.6" r="2.05" fill="rgb(252,120,54)"/><circle cx="156.0" cy="67.2" r="2.05" fill="rgb(252,128,56)"/><circle cx="136.4" cy="82.9" r="2.05" fill="rgb(231,36,30)"/><circle cx="101.6" cy="75.0" r="2.05" fill="rgb(255,247,184)"/><circle cx="123.3" cy="87.6" r="2.05" fill="rgb(254,194,93)"/><circle cx="76.3" cy="73.7" r="2.05" fill="rgb(255,247,184)"/><circle cx="116.4" cy="70.0" r="2.05" fill="rgb(254,230,146)"/><circle cx="95.9" cy="64.5" r="2.05" fill="rgb(254,219,122)"/><circle cx="105.8" cy="78.9" r="2.05" fill="rgb(255,243,176)"/><circle cx="104.4" cy="74.7" r="2.05" fill="rgb(254,217,118)"/><circle cx="131.1" cy="84.4" r="2.05" fill="rgb(250,75,41)"/><circle cx="97.7" cy="86.4" r="2.05" fill="rgb(253,172,73)"/><circle cx="145.5" cy="82.2" r="2.05" fill="rgb(253,168,71)"/><circle cx="133.0" cy="91.0" r="2.05" fill="rgb(252,120,54)"/><circle cx="144.3" cy="64.6" r="2.05" fill="rgb(253,168,71)"/><circle cx="102.3" cy="64.5" r="2.05" fill="rgb(253,152,64)"/><circle cx="132.0" cy="70.1" r="2.05" fill="rgb(254,204,104)"/><circle cx="95.4" cy="71.1" r="2.05" fill="rgb(203,9,34)"/><circle cx="113.7" cy="76.9" r="2.05" fill="rgb(253,164,70)"/><circle cx="89.5" cy="64.5" r="2.05" fill="rgb(254,219,122)"/><circle cx="91.0" cy="80.1" r="2.05" fill="rgb(234,41,32)"/><circle cx="110.3" cy="74.0" r="2.05" fill="rgb(253,170,72)"/><circle cx="114.2" cy="83.8" r="2.05" fill="rgb(252,130,56)"/><circle cx="152.4" cy="87.7" r="2.05" fill="rgb(254,235,157)"/><circle cx="114.5" cy="74.0" r="2.05" fill="rgb(253,160,68)"/><circle cx="161.2" cy="77.6" r="2.05" fill="rgb(254,200,100)"/><circle cx="158.0" cy="69.8" r="2.05" fill="rgb(252,140,59)"/><circle cx="139.8" cy="84.2" r="2.05" fill="rgb(254,224,133)"/><circle cx="156.2" cy="75.7" r="2.05" fill="rgb(253,170,72)"/><circle cx="136.9" cy="80.1" r="2.05" fill="rgb(254,215,116)"/><circle cx="144.4" cy="84.5" r="2.05" fill="rgb(235,44,32)"/><circle cx="94.8" cy="75.4" r="2.05" fill="rgb(254,214,115)"/><circle cx="122.6" cy="72.0" r="2.05" fill="rgb(244,62,37)"/><circle cx="143.1" cy="67.4" r="2.05" fill="rgb(254,194,93)"/><circle cx="94.7" cy="72.7" r="2.05" fill="rgb(254,181,79)"/><circle cx="112.2" cy="70.0" r="2.05" fill="rgb(253,164,70)"/><circle cx="132.2" cy="81.6" r="2.05" fill="rgb(254,235,157)"/><circle cx="80.3" cy="89.2" r="2.05" fill="rgb(254,189,88)"/><circle cx="147.8" cy="84.8" r="2.05" fill="rgb(210,14,32)"/><circle cx="86.0" cy="71.9" r="2.05" fill="rgb(254,233,151)"/><circle cx="147.0" cy="89.5" r="2.05" fill="rgb(232,37,31)"/><circle cx="113.1" cy="80.4" r="2.05" fill="rgb(254,198,97)"/><circle cx="76.1" cy="78.0" r="2.05" fill="rgb(254,215,116)"/><circle cx="163.4" cy="73.3" r="2.05" fill="rgb(252,136,58)"/><circle cx="132.1" cy="72.7" r="2.05" fill="rgb(254,202,101)"/><circle cx="88.2" cy="73.2" r="2.05" fill="rgb(254,194,93)"/><circle cx="69.3" cy="71.6" r="2.05" fill="rgb(252,118,53)"/><circle cx="124.5" cy="81.3" r="2.05" fill="rgb(253,167,71)"/><circle cx="92.6" cy="71.7" r="2.05" fill="rgb(254,204,104)"/><circle cx="69.7" cy="71.1" r="2.05" fill="rgb(254,215,116)"/><circle cx="92.0" cy="74.8" r="2.05" fill="rgb(255,247,184)"/><circle cx="99.2" cy="79.8" r="2.05" fill="rgb(254,194,93)"/><circle cx="93.5" cy="75.7" r="2.05" fill="rgb(239,52,35)"/><circle cx="91.7" cy="81.1" r="2.05" fill="rgb(254,225,134)"/><circle cx="94.2" cy="82.1" r="2.05" fill="rgb(254,231,147)"/><circle cx="148.5" cy="90.3" r="2.05" fill="rgb(253,162,69)"/><circle cx="123.8" cy="83.4" r="2.05" fill="rgb(253,150,64)"/><circle cx="133.6" cy="84.4" r="2.05" fill="rgb(254,188,87)"/><circle cx="112.8" cy="77.6" r="2.05" fill="rgb(254,183,82)"/><circle cx="159.3" cy="83.8" r="2.05" fill="rgb(217,19,30)"/><circle cx="116.2" cy="69.7" r="2.05" fill="rgb(255,240,169)"/><circle cx="85.5" cy="89.7" r="2.05" fill="rgb(254,217,118)"/><circle cx="97.1" cy="73.7" r="2.05" fill="rgb(247,68,39)"/><circle cx="162.8" cy="91.4" r="2.05" fill="rgb(252,126,55)"/><circle cx="165.6" cy="64.5" r="2.05" fill="rgb(252,124,55)"/><circle cx="95.0" cy="87.8" r="2.05" fill="rgb(254,179,78)"/><circle cx="87.1" cy="64.5" r="2.05" fill="rgb(254,221,128)"/><circle cx="76.5" cy="91.5" r="2.05" fill="rgb(255,247,184)"/><circle cx="129.8" cy="83.4" r="2.05" fill="rgb(254,195,95)"/><circle cx="87.2" cy="64.5" r="2.05" fill="rgb(254,232,150)"/><circle cx="153.9" cy="84.3" r="2.05" fill="rgb(254,221,126)"/><circle cx="112.1" cy="84.2" r="2.05" fill="rgb(254,210,111)"/><circle cx="107.5" cy="72.8" r="2.05" fill="rgb(254,187,86)"/><circle cx="131.1" cy="89.5" r="2.05" fill="rgb(245,63,38)"/><circle cx="132.5" cy="64.5" r="2.05" fill="rgb(254,183,82)"/><circle cx="69.2" cy="74.2" r="2.05" fill="rgb(253,175,74)"/><circle cx="126.6" cy="73.2" r="2.05" fill="rgb(226,25,28)"/><circle cx="134.8" cy="89.1" r="2.05" fill="rgb(254,192,91)"/><circle cx="115.8" cy="89.4" r="2.05" fill="rgb(248,70,39)"/><circle cx="120.5" cy="69.7" r="2.05" fill="rgb(254,217,118)"/><circle cx="117.7" cy="64.5" r="2.05" fill="rgb(238,49,34)"/><circle cx="112.2" cy="84.6" r="2.05" fill="rgb(252,86,44)"/><circle cx="158.5" cy="74.5" r="2.05" fill="rgb(238,49,34)"/><circle cx="143.9" cy="74.8" r="2.05" fill="rgb(254,204,104)"/><circle cx="165.1" cy="85.6" r="2.05" fill="rgb(205,11,33)"/><circle cx="136.3" cy="77.9" r="2.05" fill="rgb(252,128,56)"/><circle cx="86.8" cy="73.9" r="2.05" fill="rgb(254,217,118)"/><circle cx="116.3" cy="66.7" r="2.05" fill="rgb(255,247,184)"/><circle cx="69.7" cy="85.3" r="2.05" fill="rgb(255,247,184)"/><circle cx="69.4" cy="74.1" r="2.05" fill="rgb(254,191,90)"/><circle cx="155.0" cy="90.8" r="2.05" fill="rgb(253,142,60)"/><circle cx="119.7" cy="74.1" r="2.05" fill="rgb(243,60,37)"/><circle cx="120.5" cy="86.4" r="2.05" fill="rgb(254,234,154)"/><circle cx="137.9" cy="64.5" r="2.05" fill="rgb(254,200,100)"/><circle cx="76.3" cy="78.4" r="2.05" fill="rgb(254,227,140)"/><circle cx="96.4" cy="71.9" r="2.05" fill="rgb(254,221,128)"/><circle cx="140.1" cy="76.2" r="2.05" fill="rgb(252,80,42)"/><circle cx="137.2" cy="78.6" r="2.05" fill="rgb(252,138,59)"/><circle cx="148.5" cy="76.6" r="2.05" fill="rgb(254,216,117)"/><circle cx="162.0" cy="65.9" r="2.05" fill="rgb(252,88,45)"/><circle cx="153.5" cy="90.1" r="2.05" fill="rgb(254,195,95)"/><circle cx="131.2" cy="88.5" r="2.05" fill="rgb(247,68,39)"/><circle cx="97.1" cy="64.5" r="2.05" fill="rgb(254,216,117)"/><circle cx="132.0" cy="86.0" r="2.05" fill="rgb(253,145,61)"/><circle cx="122.2" cy="91.2" r="2.05" fill="rgb(255,244,177)"/><circle cx="102.5" cy="75.0" r="2.05" fill="rgb(252,138,59)"/><circle cx="125.3" cy="79.8" r="2.05" fill="rgb(252,98,47)"/><circle cx="119.6" cy="90.5" r="2.05" fill="rgb(253,148,63)"/><circle cx="155.2" cy="88.5" r="2.05" fill="rgb(254,203,103)"/><circle cx="101.8" cy="82.0" r="2.05" fill="rgb(254,203,103)"/><circle cx="76.5" cy="82.7" r="2.05" fill="rgb(254,229,144)"/><circle cx="152.9" cy="74.0" r="2.05" fill="rgb(253,150,64)"/><circle cx="76.3" cy="75.2" r="2.05" fill="rgb(254,210,111)"/><circle cx="140.4" cy="70.6" r="2.05" fill="rgb(254,191,90)"/><circle cx="117.0" cy="75.4" r="2.05" fill="rgb(254,221,126)"/><circle cx="95.0" cy="77.0" r="2.05" fill="rgb(254,236,159)"/><circle cx="109.2" cy="70.6" r="2.05" fill="rgb(253,174,74)"/><circle cx="158.6" cy="86.9" r="2.05" fill="rgb(254,208,108)"/><circle cx="172.0" cy="74.5" r="2.05" fill="rgb(253,168,71)"/><circle cx="104.6" cy="80.8" r="2.05" fill="rgb(254,210,111)"/><circle cx="69.7" cy="82.6" r="2.05" fill="rgb(254,206,107)"/><circle cx="106.0" cy="77.4" r="2.05" fill="rgb(228,29,28)"/><circle cx="106.3" cy="72.3" r="2.05" fill="rgb(254,217,118)"/><circle cx="143.3" cy="80.4" r="2.05" fill="rgb(222,22,29)"/><circle cx="123.5" cy="75.3" r="2.05" fill="rgb(236,45,33)"/><circle cx="108.5" cy="88.7" r="2.05" fill="rgb(253,160,68)"/><circle cx="153.4" cy="65.5" r="2.05" fill="rgb(254,202,101)"/><circle cx="121.9" cy="91.5" r="2.05" fill="rgb(252,84,43)"/><circle cx="104.4" cy="69.0" r="2.05" fill="rgb(252,122,54)"/><circle cx="86.9" cy="64.5" r="2.05" fill="rgb(254,223,132)"/><circle cx="92.3" cy="90.0" r="2.05" fill="rgb(252,134,58)"/><circle cx="147.0" cy="72.9" r="2.05" fill="rgb(254,225,136)"/><circle cx="108.2" cy="74.3" r="2.05" fill="rgb(255,239,165)"/><circle cx="118.7" cy="83.0" r="2.05" fill="rgb(254,228,142)"/><circle cx="154.5" cy="83.1" r="2.05" fill="rgb(237,47,33)"/><circle cx="98.7" cy="75.6" r="2.05" fill="rgb(252,116,52)"/><circle cx="141.7" cy="73.3" r="2.05" fill="rgb(254,202,101)"/><circle cx="130.5" cy="92.0" r="2.05" fill="rgb(254,200,100)"/><circle cx="93.8" cy="71.0" r="2.05" fill="rgb(254,203,103)"/><circle cx="108.0" cy="72.0" r="2.05" fill="rgb(254,218,120)"/><circle cx="134.9" cy="70.1" r="2.05" fill="rgb(253,155,66)"/><circle cx="129.0" cy="87.6" r="2.05" fill="rgb(226,25,28)"/><circle cx="107.1" cy="77.5" r="2.05" fill="rgb(254,221,128)"/><circle cx="113.0" cy="90.0" r="2.05" fill="rgb(218,20,30)"/><circle cx="121.7" cy="90.6" r="2.05" fill="rgb(252,88,45)"/><circle cx="93.7" cy="75.4" r="2.05" fill="rgb(253,170,72)"/><circle cx="86.9" cy="69.1" r="2.05" fill="rgb(254,236,158)"/><circle cx="161.8" cy="92.0" r="2.05" fill="rgb(253,169,72)"/><circle cx="133.9" cy="74.2" r="2.05" fill="rgb(252,92,46)"/><circle cx="89.5" cy="64.5" r="2.05" fill="rgb(255,246,183)"/><circle cx="156.0" cy="79.1" r="2.05" fill="rgb(253,168,71)"/><circle cx="118.7" cy="88.4" r="2.05" fill="rgb(254,209,109)"/><circle cx="157.8" cy="85.3" r="2.05" fill="rgb(237,47,33)"/><circle cx="126.7" cy="87.4" r="2.05" fill="rgb(255,237,161)"/><circle cx="165.6" cy="75.1" r="2.05" fill="rgb(253,170,72)"/><circle cx="76.4" cy="68.8" r="2.05" fill="rgb(254,230,145)"/><circle cx="93.4" cy="64.5" r="2.05" fill="rgb(254,216,117)"/><circle cx="133.2" cy="76.0" r="2.05" fill="rgb(211,15,32)"/><circle cx="140.5" cy="69.2" r="2.05" fill="rgb(242,57,36)"/><circle cx="119.1" cy="64.5" r="2.05" fill="rgb(253,141,60)"/><circle cx="115.4" cy="72.9" r="2.05" fill="rgb(254,211,112)"/><circle cx="70.1" cy="88.0" r="2.05" fill="rgb(253,153,65)"/><circle cx="80.6" cy="76.5" r="2.05" fill="rgb(252,122,54)"/><circle cx="126.9" cy="90.8" r="2.05" fill="rgb(254,203,103)"/><circle cx="149.5" cy="81.4" r="2.05" fill="rgb(235,44,32)"/><circle cx="163.5" cy="88.8" r="2.05" fill="rgb(251,76,41)"/><circle cx="98.0" cy="64.5" r="2.05" fill="rgb(254,186,84)"/><circle cx="118.8" cy="64.5" r="2.05" fill="rgb(254,221,126)"/><circle cx="137.2" cy="71.9" r="2.05" fill="rgb(242,57,36)"/><circle cx="130.7" cy="68.3" r="2.05" fill="rgb(254,188,87)"/><circle cx="97.9" cy="86.7" r="2.05" fill="rgb(254,233,151)"/><circle cx="85.2" cy="83.7" r="2.05" fill="rgb(254,213,113)"/><circle cx="90.8" cy="81.7" r="2.05" fill="rgb(254,223,132)"/><circle cx="100.5" cy="67.1" r="2.05" fill="rgb(253,153,65)"/><circle cx="119.2" cy="64.5" r="2.05" fill="rgb(254,214,115)"/><circle cx="165.5" cy="88.5" r="2.05" fill="rgb(252,108,50)"/><circle cx="138.9" cy="86.2" r="2.05" fill="rgb(242,59,36)"/><circle cx="156.5" cy="71.8" r="2.05" fill="rgb(253,153,65)"/><circle cx="133.3" cy="90.9" r="2.05" fill="rgb(254,193,92)"/><circle cx="96.8" cy="82.1" r="2.05" fill="rgb(254,178,76)"/><circle cx="134.3" cy="74.6" r="2.05" fill="rgb(255,242,173)"/><circle cx="93.1" cy="89.4" r="2.05" fill="rgb(253,146,62)"/><circle cx="75.6" cy="65.5" r="2.05" fill="rgb(254,235,155)"/><circle cx="146.2" cy="76.0" r="2.05" fill="rgb(253,156,66)"/><circle cx="161.6" cy="85.5" r="2.05" fill="rgb(252,80,42)"/><circle cx="147.0" cy="90.3" r="2.05" fill="rgb(254,208,108)"/><circle cx="93.0" cy="87.2" r="2.05" fill="rgb(254,200,100)"/><circle cx="159.3" cy="78.0" r="2.05" fill="rgb(254,231,147)"/><circle cx="131.6" cy="91.6" r="2.05" fill="rgb(254,204,104)"/><circle cx="155.8" cy="90.7" r="2.05" fill="rgb(254,209,109)"/><circle cx="80.8" cy="78.9" r="2.05" fill="rgb(253,170,72)"/><circle cx="105.1" cy="72.4" r="2.05" fill="rgb(255,247,184)"/><circle cx="80.9" cy="80.3" r="2.05" fill="rgb(255,239,166)"/><circle cx="134.1" cy="64.7" r="2.05" fill="rgb(254,236,159)"/><circle cx="115.5" cy="64.5" r="2.05" fill="rgb(254,181,79)"/><circle cx="67.3" cy="76.5" r="2.05" fill="rgb(254,233,153)"/><circle cx="125.6" cy="84.8" r="2.05" fill="rgb(254,205,105)"/><circle cx="159.1" cy="86.4" r="2.05" fill="rgb(221,22,29)"/><circle cx="95.1" cy="77.7" r="2.05" fill="rgb(255,247,184)"/><circle cx="105.3" cy="72.4" r="2.05" fill="rgb(253,176,75)"/><circle cx="88.2" cy="72.8" r="2.05" fill="rgb(253,170,72)"/><circle cx="159.7" cy="77.9" r="2.05" fill="rgb(253,156,66)"/><circle cx="151.1" cy="73.3" r="2.05" fill="rgb(254,227,140)"/><circle cx="138.2" cy="83.9" r="2.05" fill="rgb(254,214,115)"/><circle cx="160.1" cy="89.4" r="2.05" fill="rgb(254,220,125)"/><circle cx="159.8" cy="91.2" r="2.05" fill="rgb(252,88,45)"/><circle cx="112.5" cy="91.8" r="2.05" fill="rgb(254,209,109)"/><circle cx="145.6" cy="68.6" r="2.05" fill="rgb(253,157,67)"/><circle cx="124.6" cy="78.0" r="2.05" fill="rgb(252,106,50)"/><circle cx="69.3" cy="88.5" r="2.05" fill="rgb(254,203,103)"/><circle cx="132.4" cy="77.6" r="2.05" fill="rgb(253,168,71)"/><circle cx="108.5" cy="85.3" r="2.05" fill="rgb(253,171,73)"/><circle cx="138.6" cy="68.2" r="2.05" fill="rgb(253,153,65)"/><circle cx="120.6" cy="88.4" r="2.05" fill="rgb(253,167,71)"/><circle cx="147.7" cy="84.4" r="2.05" fill="rgb(236,45,33)"/><circle cx="119.8" cy="80.1" r="2.05" fill="rgb(254,221,128)"/><circle cx="125.0" cy="85.9" r="2.05" fill="rgb(254,187,86)"/><circle cx="111.2" cy="83.1" r="2.05" fill="rgb(254,199,99)"/><circle cx="114.7" cy="64.5" r="2.05" fill="rgb(255,247,184)"/><circle cx="81.2" cy="88.9" r="2.05" fill="rgb(254,224,133)"/><circle cx="141.4" cy="80.9" r="2.05" fill="rgb(248,70,39)"/><circle cx="70.1" cy="64.5" r="2.05" fill="rgb(254,222,129)"/><circle cx="158.1" cy="66.2" r="2.05" fill="rgb(254,219,124)"/><circle cx="147.5" cy="75.0" r="2.05" fill="rgb(254,211,112)"/><circle cx="110.9" cy="66.9" r="2.05" fill="rgb(254,218,120)"/><circle cx="113.8" cy="70.9" r="2.05" fill="rgb(254,234,154)"/><circle cx="100.1" cy="89.1" r="2.05" fill="rgb(253,170,72)"/><circle cx="88.5" cy="84.8" r="2.05" fill="rgb(253,171,73)"/><circle cx="69.3" cy="89.5" r="2.05" fill="rgb(254,236,158)"/><circle cx="150.9" cy="85.1" r="2.05" fill="rgb(229,31,29)"/><circle cx="91.9" cy="85.5" r="2.05" fill="rgb(254,179,78)"/><circle cx="90.8" cy="77.2" r="2.05" fill="rgb(254,198,97)"/><circle cx="87.2" cy="64.5" r="2.05" fill="rgb(255,247,184)"/><circle cx="109.7" cy="87.1" r="2.05" fill="rgb(254,184,83)"/><circle cx="126.5" cy="71.3" r="2.05" fill="rgb(253,141,60)"/><circle cx="69.8" cy="78.7" r="2.05" fill="rgb(254,179,78)"/><circle cx="124.5" cy="80.6" r="2.05" fill="rgb(254,206,107)"/><circle cx="102.0" cy="80.1" r="2.05" fill="rgb(254,186,84)"/><circle cx="106.7" cy="87.3" r="2.05" fill="rgb(254,194,93)"/><circle cx="132.5" cy="87.1" r="2.05" fill="rgb(254,221,126)"/><circle cx="157.4" cy="72.3" r="2.05" fill="rgb(252,130,56)"/><circle cx="113.9" cy="78.5" r="2.05" fill="rgb(252,108,50)"/><circle cx="80.5" cy="64.5" r="2.05" fill="rgb(254,179,78)"/><circle cx="76.0" cy="70.1" r="2.05" fill="rgb(253,170,72)"/><circle cx="70.4" cy="75.6" r="2.05" fill="rgb(255,247,184)"/><circle cx="110.9" cy="64.5" r="2.05" fill="rgb(254,224,133)"/><circle cx="142.5" cy="71.0" r="2.05" fill="rgb(253,156,66)"/><circle cx="129.5" cy="75.0" r="2.05" fill="rgb(254,226,137)"/><circle cx="159.2" cy="68.8" r="2.05" fill="rgb(254,186,84)"/><circle cx="102.5" cy="74.3" r="2.05" fill="rgb(254,191,90)"/><circle cx="161.1" cy="81.0" r="2.05" fill="rgb(244,62,37)"/><circle cx="76.4" cy="86.0" r="2.05" fill="rgb(253,141,60)"/><circle cx="128.3" cy="91.9" r="2.05" fill="rgb(254,204,104)"/><circle cx="92.1" cy="76.2" r="2.05" fill="rgb(254,205,105)"/><circle cx="106.3" cy="82.2" r="2.05" fill="rgb(254,205,105)"/><circle cx="151.2" cy="79.3" r="2.05" fill="rgb(253,171,73)"/><circle cx="129.6" cy="65.0" r="2.05" fill="rgb(254,194,93)"/><circle cx="154.6" cy="84.8" r="2.05" fill="rgb(237,47,33)"/><circle cx="76.7" cy="69.6" r="2.05" fill="rgb(254,221,126)"/><circle cx="155.0" cy="79.9" r="2.05" fill="rgb(252,134,58)"/><circle cx="165.4" cy="86.1" r="2.05" fill="rgb(209,13,32)"/><circle cx="88.6" cy="76.1" r="2.05" fill="rgb(253,164,70)"/><circle cx="112.7" cy="75.9" r="2.05" fill="rgb(253,161,68)"/><circle cx="110.5" cy="91.8" r="2.05" fill="rgb(254,179,78)"/><circle cx="120.0" cy="80.7" r="2.05" fill="rgb(254,182,80)"/><circle cx="69.6" cy="64.6" r="2.05" fill="rgb(254,230,145)"/><circle cx="91.7" cy="87.2" r="2.05" fill="rgb(224,24,28)"/><circle cx="101.7" cy="64.6" r="2.05" fill="rgb(254,220,125)"/><circle cx="147.2" cy="83.2" r="2.05" fill="rgb(253,176,75)"/><circle cx="86.9" cy="67.0" r="2.05" fill="rgb(254,220,125)"/><circle cx="112.3" cy="87.6" r="2.05" fill="rgb(253,145,61)"/><circle cx="160.4" cy="83.3" r="2.05" fill="rgb(230,32,29)"/><circle cx="115.8" cy="65.7" r="2.05" fill="rgb(253,176,75)"/><circle cx="153.1" cy="74.4" r="2.05" fill="rgb(254,178,76)"/><circle cx="98.0" cy="71.9" r="2.05" fill="rgb(253,169,72)"/><circle cx="90.4" cy="79.3" r="2.05" fill="rgb(254,197,96)"/><circle cx="86.3" cy="70.4" r="2.05" fill="rgb(254,183,82)"/><circle cx="103.0" cy="76.8" r="2.05" fill="rgb(254,194,93)"/><circle cx="106.6" cy="77.8" r="2.05" fill="rgb(254,223,130)"/><circle cx="70.4" cy="64.5" r="2.05" fill="rgb(254,226,138)"/><circle cx="162.6" cy="91.8" r="2.05" fill="rgb(231,36,30)"/><circle cx="85.3" cy="75.2" r="2.05" fill="rgb(253,172,73)"/><circle cx="131.6" cy="91.7" r="2.05" fill="rgb(254,213,113)"/><circle cx="121.4" cy="74.3" r="2.05" fill="rgb(207,12,33)"/><circle cx="88.6" cy="86.1" r="2.05" fill="rgb(254,200,100)"/><circle cx="115.2" cy="82.8" r="2.05" fill="rgb(253,168,71)"/><circle cx="126.0" cy="68.6" r="2.05" fill="rgb(254,186,84)"/><circle cx="135.2" cy="75.6" r="2.05" fill="rgb(254,230,146)"/><circle cx="94.8" cy="74.5" r="2.05" fill="rgb(232,37,31)"/><circle cx="105.6" cy="80.1" r="2.05" fill="rgb(254,218,121)"/><circle cx="97.4" cy="71.4" r="2.05" fill="rgb(254,178,76)"/><circle cx="92.3" cy="74.0" r="2.05" fill="rgb(252,94,46)"/><circle cx="75.6" cy="89.5" r="2.05" fill="rgb(255,247,184)"/><circle cx="122.4" cy="64.5" r="2.05" fill="rgb(254,189,88)"/><circle cx="137.0" cy="78.6" r="2.05" fill="rgb(254,227,140)"/><circle cx="69.0" cy="71.1" r="2.05" fill="rgb(253,163,69)"/><circle cx="131.2" cy="90.5" r="2.05" fill="rgb(253,152,64)"/><circle cx="115.0" cy="86.5" r="2.05" fill="rgb(241,55,36)"/><circle cx="57.1" cy="83.0" r="2.05" fill="rgb(253,157,67)"/><circle cx="140.7" cy="91.6" r="2.05" fill="rgb(252,80,42)"/><circle cx="156.0" cy="72.9" r="2.05" fill="rgb(253,168,71)"/><circle cx="125.9" cy="70.7" r="2.05" fill="rgb(254,200,100)"/><circle cx="80.7" cy="67.7" r="2.05" fill="rgb(254,205,105)"/><circle cx="96.3" cy="84.6" r="2.05" fill="rgb(254,235,155)"/><circle cx="88.8" cy="77.5" r="2.05" fill="rgb(255,242,172)"/><circle cx="128.8" cy="67.8" r="2.05" fill="rgb(253,172,73)"/><circle cx="121.0" cy="68.8" r="2.05" fill="rgb(254,204,104)"/><circle cx="115.6" cy="75.5" r="2.05" fill="rgb(254,210,111)"/><circle cx="101.7" cy="71.9" r="2.05" fill="rgb(253,148,63)"/><circle cx="102.1" cy="76.1" r="2.05" fill="rgb(254,188,87)"/><circle cx="155.3" cy="81.0" r="2.05" fill="rgb(252,116,52)"/><circle cx="116.8" cy="79.7" r="2.05" fill="rgb(254,187,86)"/><circle cx="93.6" cy="64.5" r="2.05" fill="rgb(253,163,69)"/><circle cx="92.1" cy="80.0" r="2.05" fill="rgb(254,188,87)"/><circle cx="120.8" cy="77.3" r="2.05" fill="rgb(254,187,86)"/><circle cx="157.7" cy="71.0" r="2.05" fill="rgb(252,86,44)"/><circle cx="87.4" cy="76.6" r="2.05" fill="rgb(255,238,162)"/><circle cx="141.9" cy="86.0" r="2.05" fill="rgb(254,193,92)"/><circle cx="133.5" cy="90.5" r="2.05" fill="rgb(254,219,124)"/><circle cx="160.1" cy="77.0" r="2.05" fill="rgb(253,167,71)"/><circle cx="118.0" cy="80.0" r="2.05" fill="rgb(252,88,45)"/><circle cx="137.1" cy="91.2" r="2.05" fill="rgb(250,75,41)"/><circle cx="150.6" cy="91.9" r="2.05" fill="rgb(240,54,35)"/><circle cx="56.0" cy="91.6" r="2.05" fill="rgb(253,157,67)"/><circle cx="89.9" cy="87.7" r="2.05" fill="rgb(252,116,52)"/><circle cx="129.0" cy="65.7" r="2.05" fill="rgb(254,198,97)"/><circle cx="116.4" cy="84.7" r="2.05" fill="rgb(254,233,151)"/><circle cx="115.3" cy="70.1" r="2.05" fill="rgb(254,197,96)"/><circle cx="92.8" cy="91.0" r="2.05" fill="rgb(254,235,157)"/><circle cx="88.1" cy="67.2" r="2.05" fill="rgb(253,150,64)"/><circle cx="108.5" cy="90.2" r="2.05" fill="rgb(254,225,136)"/><circle cx="87.9" cy="69.8" r="2.05" fill="rgb(254,179,78)"/><circle cx="99.5" cy="76.8" r="2.05" fill="rgb(254,211,112)"/><circle cx="90.1" cy="66.4" r="2.05" fill="rgb(255,244,179)"/><circle cx="142.8" cy="64.5" r="2.05" fill="rgb(254,202,101)"/><circle cx="161.1" cy="91.8" r="2.05" fill="rgb(253,143,61)"/><circle cx="60.8" cy="80.9" r="2.05" fill="rgb(252,112,51)"/><circle cx="93.1" cy="85.9" r="2.05" fill="rgb(244,62,37)"/><circle cx="88.5" cy="84.9" r="2.05" fill="rgb(254,224,133)"/><circle cx="93.6" cy="64.8" r="2.05" fill="rgb(254,219,122)"/><circle cx="86.6" cy="82.1" r="2.05" fill="rgb(254,216,117)"/><circle cx="122.1" cy="80.7" r="2.05" fill="rgb(252,128,56)"/><circle cx="146.4" cy="90.3" r="2.05" fill="rgb(242,57,36)"/><circle cx="96.2" cy="75.8" r="2.05" fill="rgb(255,247,184)"/><circle cx="141.4" cy="68.7" r="2.05" fill="rgb(254,205,105)"/><circle cx="150.6" cy="83.1" r="2.05" fill="rgb(252,138,59)"/><circle cx="121.1" cy="79.4" r="2.05" fill="rgb(253,162,69)"/><circle cx="130.5" cy="69.9" r="2.05" fill="rgb(254,205,105)"/><circle cx="100.6" cy="79.6" r="2.05" fill="rgb(254,194,93)"/><circle cx="106.1" cy="64.5" r="2.05" fill="rgb(254,214,115)"/><circle cx="103.4" cy="64.5" r="2.05" fill="rgb(254,183,82)"/><circle cx="123.8" cy="78.0" r="2.05" fill="rgb(254,217,118)"/><circle cx="122.3" cy="84.5" r="2.05" fill="rgb(252,126,55)"/><circle cx="134.1" cy="70.6" r="2.05" fill="rgb(252,128,56)"/><circle cx="142.2" cy="64.5" r="2.05" fill="rgb(254,198,97)"/><circle cx="87.4" cy="79.1" r="2.05" fill="rgb(254,230,146)"/><circle cx="110.1" cy="83.6" r="2.05" fill="rgb(253,177,75)"/><circle cx="70.0" cy="82.1" r="2.05" fill="rgb(254,218,120)"/><circle cx="163.5" cy="87.5" r="2.05" fill="rgb(253,150,64)"/><circle cx="132.8" cy="74.6" r="2.05" fill="rgb(239,52,35)"/><circle cx="134.3" cy="76.0" r="2.05" fill="rgb(252,86,44)"/><circle cx="103.7" cy="84.4" r="2.05" fill="rgb(254,189,88)"/><circle cx="131.0" cy="83.2" r="2.05" fill="rgb(246,65,38)"/><circle cx="143.7" cy="67.2" r="2.05" fill="rgb(255,238,163)"/><circle cx="102.8" cy="76.3" r="2.05" fill="rgb(254,236,159)"/><circle cx="119.9" cy="76.3" r="2.05" fill="rgb(254,209,109)"/><circle cx="103.9" cy="73.6" r="2.05" fill="rgb(254,188,87)"/><circle cx="155.0" cy="81.1" r="2.05" fill="rgb(253,167,71)"/><circle cx="129.0" cy="89.5" r="2.05" fill="rgb(202,9,34)"/><circle cx="89.8" cy="65.2" r="2.05" fill="rgb(254,218,121)"/><circle cx="126.5" cy="84.0" r="2.05" fill="rgb(254,189,88)"/><circle cx="134.7" cy="74.2" r="2.05" fill="rgb(255,244,177)"/><circle cx="131.6" cy="79.0" r="2.05" fill="rgb(252,128,56)"/><circle cx="128.5" cy="71.7" r="2.05" fill="rgb(252,134,58)"/><circle cx="80.7" cy="64.5" r="2.05" fill="rgb(253,165,70)"/><circle cx="87.4" cy="73.0" r="2.05" fill="rgb(255,247,184)"/><circle cx="136.4" cy="66.2" r="2.05" fill="rgb(255,243,176)"/><circle cx="146.0" cy="88.5" r="2.05" fill="rgb(208,13,32)"/><circle cx="96.6" cy="72.8" r="2.05" fill="rgb(253,167,71)"/><circle cx="110.0" cy="88.7" r="2.05" fill="rgb(254,208,108)"/><circle cx="119.9" cy="83.6" r="2.05" fill="rgb(252,98,47)"/><circle cx="126.8" cy="84.5" r="2.05" fill="rgb(197,5,35)"/><circle cx="130.2" cy="65.3" r="2.05" fill="rgb(253,169,72)"/><circle cx="69.7" cy="73.7" r="2.05" fill="rgb(253,172,73)"/><circle cx="60.8" cy="89.5" r="2.05" fill="rgb(254,227,140)"/><circle cx="138.7" cy="76.3" r="2.05" fill="rgb(255,239,165)"/><circle cx="131.3" cy="67.9" r="2.05" fill="rgb(244,62,37)"/><circle cx="128.7" cy="68.2" r="2.05" fill="rgb(254,191,90)"/><circle cx="94.6" cy="78.9" r="2.05" fill="rgb(254,208,108)"/><circle cx="150.1" cy="76.0" r="2.05" fill="rgb(254,219,122)"/><circle cx="114.7" cy="71.6" r="2.05" fill="rgb(254,188,87)"/><circle cx="76.2" cy="64.5" r="2.05" fill="rgb(255,247,184)"/><circle cx="97.1" cy="84.2" r="2.05" fill="rgb(254,204,104)"/><circle cx="153.6" cy="77.6" r="2.05" fill="rgb(254,230,146)"/><circle cx="89.9" cy="73.5" r="2.05" fill="rgb(254,208,108)"/><circle cx="155.0" cy="75.1" r="2.05" fill="rgb(253,177,75)"/><circle cx="108.7" cy="84.7" r="2.05" fill="rgb(254,179,78)"/><circle cx="173.8" cy="88.9" r="2.05" fill="rgb(252,112,51)"/><circle cx="134.1" cy="68.9" r="2.05" fill="rgb(254,178,76)"/><circle cx="138.6" cy="75.2" r="2.05" fill="rgb(226,25,28)"/><circle cx="141.6" cy="72.5" r="2.05" fill="rgb(253,169,72)"/><circle cx="107.7" cy="68.4" r="2.05" fill="rgb(252,118,53)"/><circle cx="123.7" cy="88.8" r="2.05" fill="rgb(254,189,88)"/><circle cx="176.2" cy="65.5" r="2.05" fill="rgb(243,60,37)"/><circle cx="69.6" cy="78.1" r="2.05" fill="rgb(254,202,101)"/><circle cx="142.7" cy="71.5" r="2.05" fill="rgb(215,18,31)"/><circle cx="119.2" cy="80.4" r="2.05" fill="rgb(254,203,103)"/><circle cx="104.8" cy="68.0" r="2.05" fill="rgb(255,242,172)"/><circle cx="102.8" cy="77.0" r="2.05" fill="rgb(255,247,184)"/><circle cx="90.6" cy="71.6" r="2.05" fill="rgb(255,247,184)"/><circle cx="137.8" cy="81.8" r="2.05" fill="rgb(253,141,60)"/><circle cx="121.0" cy="83.6" r="2.05" fill="rgb(254,230,145)"/><circle cx="90.5" cy="67.7" r="2.05" fill="rgb(255,237,161)"/><circle cx="86.1" cy="75.8" r="2.05" fill="rgb(254,205,105)"/><circle cx="117.2" cy="80.4" r="2.05" fill="rgb(252,120,54)"/><circle cx="137.8" cy="76.2" r="2.05" fill="rgb(253,147,62)"/><circle cx="163.1" cy="73.5" r="2.05" fill="rgb(253,145,61)"/><circle cx="167.8" cy="78.7" r="2.05" fill="rgb(228,29,28)"/><circle cx="97.1" cy="83.5" r="2.05" fill="rgb(253,141,60)"/><circle cx="89.5" cy="80.1" r="2.05" fill="rgb(253,160,68)"/><circle cx="158.5" cy="74.6" r="2.05" fill="rgb(253,163,69)"/><circle cx="111.9" cy="78.2" r="2.05" fill="rgb(245,63,38)"/><circle cx="152.0" cy="83.0" r="2.05" fill="rgb(229,31,29)"/><circle cx="148.1" cy="72.8" r="2.05" fill="rgb(253,145,61)"/><circle cx="152.8" cy="89.6" r="2.05" fill="rgb(254,226,137)"/><circle cx="103.6" cy="81.8" r="2.05" fill="rgb(249,73,40)"/><circle cx="128.7" cy="79.6" r="2.05" fill="rgb(252,92,46)"/><circle cx="154.5" cy="71.9" r="2.05" fill="rgb(254,189,88)"/><circle cx="76.0" cy="73.0" r="2.05" fill="rgb(253,164,70)"/><circle cx="167.2" cy="91.2" r="2.05" fill="rgb(190,0,37)"/><circle cx="94.6" cy="77.0" r="2.05" fill="rgb(253,174,74)"/><circle cx="137.4" cy="89.3" r="2.05" fill="rgb(242,57,36)"/><circle cx="128.0" cy="81.3" r="2.05" fill="rgb(254,210,111)"/><circle cx="127.5" cy="82.3" r="2.05" fill="rgb(254,188,87)"/><circle cx="119.9" cy="64.5" r="2.05" fill="rgb(248,70,39)"/><circle cx="90.8" cy="78.1" r="2.05" fill="rgb(242,59,36)"/><circle cx="112.6" cy="91.3" r="2.05" fill="rgb(254,184,83)"/><circle cx="133.3" cy="87.6" r="2.05" fill="rgb(254,192,91)"/><circle cx="143.6" cy="78.0" r="2.05" fill="rgb(254,233,153)"/><circle cx="153.9" cy="83.0" r="2.05" fill="rgb(254,206,107)"/><circle cx="111.8" cy="85.7" r="2.05" fill="rgb(254,233,151)"/><circle cx="129.1" cy="80.1" r="2.05" fill="rgb(245,63,38)"/><circle cx="76.2" cy="79.4" r="2.05" fill="rgb(253,168,71)"/><circle cx="148.8" cy="81.8" r="2.05" fill="rgb(240,54,35)"/><circle cx="163.1" cy="88.5" r="2.05" fill="rgb(253,174,74)"/></g><line x1="36.15" y1="150.55" x2="199.25" y2="15.65" stroke="#000" stroke-width="0.9" stroke-dasharray="2.7 1.2"/><line x1="44.2" y1="86.0" x2="184.2" y2="57.5" stroke="#0000ff" stroke-width="0.9"/><text x="52.75" y="104.15" font-size="7.11" textLength="71.65" lengthAdjust="spacingAndGlyphs" fill="#0000ff" stroke="#0000ff" stroke-width="0.07">y=5.5e-02x+2.3e-05</text><text x="106.15" y="117.60" font-size="7.11" textLength="52.50" lengthAdjust="spacingAndGlyphs" fill="#000" stroke="#000" stroke-width="0.07">bias=-3.61e-05</text><text x="106.15" y="124.93" font-size="7.11" textLength="59.35" lengthAdjust="spacingAndGlyphs" fill="#000" stroke="#000" stroke-width="0.07">c-rmse=5.73e-05</text><text x="106.15" y="132.26" font-size="7.11" textLength="48.97" lengthAdjust="spacingAndGlyphs" fill="#000" stroke="#000" stroke-width="0.07">r²=0.15 (0.40)</text><rect x="36.15" y="15.65" width="163.1" height="134.9" fill="none" stroke="#000" stroke-width="0.75"/><path d="M36.15 150.55v2.38M43.16 150.55v1.36M47.27 150.55v1.36M50.18 150.55v1.36M52.44 150.55v1.36M54.28 150.55v1.36M55.84 150.55v1.36M57.19 150.55v1.36M58.38 150.55v1.36M59.45 150.55v2.38M66.46 150.55v1.36M70.57 150.55v1.36M73.48 150.55v1.36M75.74 150.55v1.36M77.58 150.55v1.36M79.14 150.55v1.36M80.49 150.55v1.36M81.68 150.55v1.36M82.75 150.55v2.38M89.76 150.55v1.36M93.87 150.55v1.36M96.78 150.55v1.36M99.04 150.55v1.36M100.88 150.55v1.36M102.44 150.55v1.36M103.79 150.55v1.36M104.98 150.55v1.36M106.05 150.55v2.38M113.06 150.55v1.36M117.17 150.55v1.36M120.08 150.55v1.36M122.34 150.55v1.36M124.18 150.55v1.36M125.74 150.55v1.36M127.09 150.55v1.36M128.28 150.55v1.36M129.35 150.55v2.38M136.36 150.55v1.36M140.47 150.55v1.36M143.38 150.55v1.36M145.64 150.55v1.36M147.48 150.55v1.36M149.04 150.55v1.36M150.39 150.55v1.36M151.58 150.55v1.36M152.65 150.55v2.38M159.66 150.55v1.36M163.77 150.55v1.36M166.68 150.55v1.36M168.94 150.55v1.36M170.78 150.55v1.36M172.34 150.55v1.36M173.69 150.55v1.36M174.88 150.55v1.36M175.95 150.55v2.38M182.96 150.55v1.36M187.07 150.55v1.36M189.98 150.55v1.36M192.24 150.55v1.36M194.08 150.55v1.36M195.64 150.55v1.36M196.99 150.55v1.36M198.18 150.55v1.36M199.25 150.55v2.38M36.15 150.55h-2.38M36.15 144.75h-1.36M36.15 141.36h-1.36M36.15 138.95h-1.36M36.15 137.08h-1.36M36.15 135.55h-1.36M36.15 134.26h-1.36M36.15 133.15h-1.36M36.15 132.16h-1.36M36.15 131.28h-2.38M36.15 125.48h-1.36M36.15 122.08h-1.36M36.15 119.68h-1.36M36.15 117.81h-1.36M36.15 116.28h-1.36M36.15 114.99h-1.36M36.15 113.87h-1.36M36.15 112.89h-1.36M36.15 112.01h-2.38M36.15 106.21h-1.36M36.15 102.81h-1.36M36.15 100.40h-1.36M36.15 98.54h-1.36M36.15 97.01h-1.36M36.15 95.72h-1.36M36.15 94.60h-1.36M36.15 93.62h-1.36M36.15 92.74h-2.38M36.15 86.93h-1.36M36.15 83.54h-1.36M36.15 81.13h-1.36M36.15 79.27h-1.36M36.15 77.74h-1.36M36.15 76.45h-1.36M36.15 75.33h-1.36M36.15 74.35h-1.36M36.15 73.46h-2.38M36.15 67.66h-1.36M36.15 64.27h-1.36M36.15 61.86h-1.36M36.15 59.99h-1.36M36.15 58.47h-1.36M36.15 57.18h-1.36M36.15 56.06h-1.36M36.15 55.07h-1.36M36.15 54.19h-2.38M36.15 48.39h-1.36M36.15 45.00h-1.36M36.15 42.59h-1.36M36.15 40.72h-1.36M36.15 39.20h-1.36M36.15 37.91h-1.36M36.15 36.79h-1.36M36.15 35.80h-1.36M36.15 34.92h-2.38M36.15 29.12h-1.36M36.15 25.73h-1.36M36.15 23.32h-1.36M36.15 21.45h-1.36M36.15 19.93h-1.36M36.15 18.64h-1.36M36.15 17.52h-1.36M36.15 16.53h-1.36M36.15 15.65h-2.38" stroke="#000" stroke-width="0.55" fill="none"/><text x="28.32" y="160.95" font-size="7.11" textLength="8.65" lengthAdjust="spacingAndGlyphs" fill="#000" stroke="#000" stroke-width="0.07">10</text><text x="36.97" y="158.35" font-size="4.97" textLength="7.02" lengthAdjust="spacingAndGlyphs" fill="#000" stroke="#000" stroke-width="0.07">−9</text><text x="74.92" y="160.95" font-size="7.11" textLength="8.65" lengthAdjust="spacingAndGlyphs" fill="#000" stroke="#000" stroke-width="0.07">10</text><text x="83.57" y="158.35" font-size="4.97" textLength="7.02" lengthAdjust="spacingAndGlyphs" fill="#000" stroke="#000" stroke-width="0.07">−7</text><text x="121.52" y="160.95" font-size="7.11" textLength="8.65" lengthAdjust="spacingAndGlyphs" fill="#000" stroke="#000" stroke-width="0.07">10</text><text x="130.17" y="158.35" font-size="4.97" textLength="7.02" lengthAdjust="spacingAndGlyphs" fill="#000" stroke="#000" stroke-width="0.07">−5</text><text x="168.12" y="160.95" font-size="7.11" textLength="8.65" lengthAdjust="spacingAndGlyphs" fill="#000" stroke="#000" stroke-width="0.07">10</text><text x="176.77" y="158.35" font-size="4.97" textLength="7.02" lengthAdjust="spacingAndGlyphs" fill="#000" stroke="#000" stroke-width="0.07">−3</text><text x="15.72" y="153.15" font-size="7.11" textLength="8.65" lengthAdjust="spacingAndGlyphs" fill="#000" stroke="#000" stroke-width="0.07">10</text><text x="24.37" y="150.55" font-size="4.97" textLength="7.02" lengthAdjust="spacingAndGlyphs" fill="#000" stroke="#000" stroke-width="0.07">−9</text><text x="15.72" y="133.88" font-size="7.11" textLength="8.65" lengthAdjust="spacingAndGlyphs" fill="#000" stroke="#000" stroke-width="0.07">10</text><text x="24.37" y="131.28" font-size="4.97" textLength="7.02" lengthAdjust="spacingAndGlyphs" fill="#000" stroke="#000" stroke-width="0.07">−8</text><text x="15.72" y="114.61" font-size="7.11" textLength="8.65" lengthAdjust="spacingAndGlyphs" fill="#000" stroke="#000" stroke-width="0.07">10</text><text x="24.37" y="112.01" font-size="4.97" textLength="7.02" lengthAdjust="spacingAndGlyphs" fill="#000" stroke="#000" stroke-width="0.07">−7</text><text x="15.72" y="95.34" font-size="7.11" textLength="8.65" lengthAdjust="spacingAndGlyphs" fill="#000" stroke="#000" stroke-width="0.07">10</text><text x="24.37" y="92.74" font-size="4.97" textLength="7.02" lengthAdjust="spacingAndGlyphs" fill="#000" stroke="#000" stroke-width="0.07">−6</text><text x="15.72" y="76.06" font-size="7.11" textLength="8.65" lengthAdjust="spacingAndGlyphs" fill="#000" stroke="#000" stroke-width="0.07">10</text><text x="24.37" y="73.46" font-size="4.97" textLength="7.02" lengthAdjust="spacingAndGlyphs" fill="#000" stroke="#000" stroke-width="0.07">−5</text><text x="15.72" y="56.79" font-size="7.11" textLength="8.65" lengthAdjust="spacingAndGlyphs" fill="#000" stroke="#000" stroke-width="0.07">10</text><text x="24.37" y="54.19" font-size="4.97" textLength="7.02" lengthAdjust="spacingAndGlyphs" fill="#000" stroke="#000" stroke-width="0.07">−4</text><text x="15.72" y="37.52" font-size="7.11" textLength="8.65" lengthAdjust="spacingAndGlyphs" fill="#000" stroke="#000" stroke-width="0.07">10</text><text x="24.37" y="34.92" font-size="4.97" textLength="7.02" lengthAdjust="spacingAndGlyphs" fill="#000" stroke="#000" stroke-width="0.07">−3</text><text x="15.72" y="18.25" font-size="7.11" textLength="8.65" lengthAdjust="spacingAndGlyphs" fill="#000" stroke="#000" stroke-width="0.07">10</text><text x="24.37" y="15.65" font-size="4.97" textLength="7.02" lengthAdjust="spacingAndGlyphs" fill="#000" stroke="#000" stroke-width="0.07">−2</text><text x="36.15" y="11.57" font-size="8.53" textLength="99.22" lengthAdjust="spacingAndGlyphs" fill="#000" stroke="#000" stroke-width="0.03" font-weight="bold">a) Cosby et al. (1984)</text><defs><linearGradient id="g20915" x1="0" y1="0" x2="0" y2="1"><stop offset="0.000" stop-color="rgb(128,0,38)"/><stop offset="0.050" stop-color="rgb(150,0,38)"/><stop offset="0.100" stop-color="rgb(175,0,38)"/><stop offset="0.150" stop-color="rgb(196,4,36)"/><stop offset="0.200" stop-color="rgb(211,15,32)"/><stop offset="0.250" stop-color="rgb(226,25,28)"/><stop offset="0.300" stop-color="rgb(236,45,33)"/><stop offset="0.350" stop-color="rgb(246,67,39)"/><stop offset="0.400" stop-color="rgb(252,90,45)"/><stop offset="0.450" stop-color="rgb(252,116,52)"/><stop offset="0.500" stop-color="rgb(252,140,59)"/><stop offset="0.550" stop-color="rgb(253,155,66)"/><stop offset="0.600" stop-color="rgb(253,170,72)"/><stop offset="0.650" stop-color="rgb(254,186,84)"/><stop offset="0.700" stop-color="rgb(254,202,101)"/><stop offset="0.750" stop-color="rgb(254,216,117)"/><stop offset="0.800" stop-color="rgb(254,225,134)"/><stop offset="0.850" stop-color="rgb(254,233,151)"/><stop offset="0.900" stop-color="rgb(255,240,169)"/><stop offset="0.950" stop-color="rgb(255,248,187)"/><stop offset="1.000" stop-color="rgb(255,255,204)"/></linearGradient></defs><rect x="209.3" y="15.65" width="6.6" height="134.9" fill="url(#g20915)" stroke="#000" stroke-width="0.55"/><path d="M215.90 150.55h2.38M215.90 100.57h2.38M215.90 50.59h2.38M215.90 15.65h2.38M215.90 135.50h1.36M215.90 126.70h1.36M215.90 120.46h1.36M215.90 115.61h1.36M215.90 111.66h1.36M215.90 108.31h1.36M215.90 105.41h1.36M215.90 102.86h1.36M215.90 85.52h1.36M215.90 76.72h1.36M215.90 70.48h1.36M215.90 65.63h1.36M215.90 61.67h1.36M215.90 58.33h1.36M215.90 55.43h1.36M215.90 52.87h1.36M215.90 35.54h1.36M215.90 26.74h1.36M215.90 20.49h1.36" stroke="#000" stroke-width="0.55" fill="none"/><text x="220.66" y="153.05" font-size="7.11" textLength="10.81" lengthAdjust="spacingAndGlyphs" fill="#000" stroke="#000" stroke-width="0.07">0.1</text><text x="220.66" y="103.07" font-size="7.11" textLength="4.33" lengthAdjust="spacingAndGlyphs" fill="#000" stroke="#000" stroke-width="0.07">1</text><text x="220.66" y="53.09" font-size="7.11" textLength="8.65" lengthAdjust="spacingAndGlyphs" fill="#000" stroke="#000" stroke-width="0.07">10</text><text x="220.66" y="18.15" font-size="7.11" textLength="8.65" lengthAdjust="spacingAndGlyphs" fill="#000" stroke="#000" stroke-width="0.07">50</text><text x="210.67" y="83.10" font-size="7.11" textLength="57.66" lengthAdjust="spacingAndGlyphs" fill="#000" stroke="#000" stroke-width="0.07" transform="rotate(-90 239.50 83.10)">SOM content (%)</text><g transform="translate(11.2 83.10000000000001) rotate(-90)"><text x="-36.95" y="0.00" font-size="7.11" textLength="31.92" lengthAdjust="spacingAndGlyphs" fill="#000" stroke="#000" stroke-width="0.07">Predicted</text><text x="-2.87" y="0.00" font-size="7.11" textLength="3.94" lengthAdjust="spacingAndGlyphs" fill="#000" stroke="#000" stroke-width="0.07" font-style="italic">k</text><text x="1.07" y="1.40" font-size="4.97" textLength="7.26" lengthAdjust="spacingAndGlyphs" fill="#000" stroke="#000" stroke-width="0.07">sat</text><text x="11.10" y="0.00" font-size="7.11" textLength="14.98" lengthAdjust="spacingAndGlyphs" fill="#000" stroke="#000" stroke-width="0.07">(m s</text><text x="26.68" y="-2.10" font-size="4.97" textLength="7.02" lengthAdjust="spacingAndGlyphs" fill="#000" stroke="#000" stroke-width="0.07">−1</text><text x="34.30" y="0.00" font-size="7.11" textLength="2.65" lengthAdjust="spacingAndGlyphs" fill="#000" stroke="#000" stroke-width="0.07">)</text></g><defs><clipPath id="c1"><rect x="290.4" y="15.65" width="163.1" height="134.9"/></clipPath></defs><g clip-path="url(#c1)" stroke="#000" stroke-opacity="0.5" stroke-width="0.22" fill-opacity="0.72"><circle cx="334.8" cy="71.5" r="2.05" fill="rgb(254,204,104)"/><circle cx="402.1" cy="55.7" r="2.05" fill="rgb(244,62,37)"/><circle cx="411.9" cy="60.5" r="2.05" fill="rgb(220,21,29)"/><circle cx="365.9" cy="84.7" r="2.05" fill="rgb(255,249,190)"/><circle cx="373.9" cy="79.2" r="2.05" fill="rgb(254,221,128)"/><circle cx="359.5" cy="61.0" r="2.05" fill="rgb(232,37,31)"/><circle cx="367.4" cy="74.5" r="2.05" fill="rgb(254,221,126)"/><circle cx="334.7" cy="81.8" r="2.05" fill="rgb(255,255,204)"/><circle cx="373.8" cy="73.8" r="2.05" fill="rgb(254,225,134)"/><circle cx="361.2" cy="79.8" r="2.05" fill="rgb(254,203,103)"/><circle cx="419.5" cy="56.2" r="2.05" fill="rgb(252,112,51)"/><circle cx="364.4" cy="66.6" r="2.05" fill="rgb(253,165,70)"/><circle cx="324.0" cy="81.8" r="2.05" fill="rgb(254,231,149)"/><circle cx="404.7" cy="56.8" r="2.05" fill="rgb(237,47,33)"/><circle cx="342.4" cy="77.2" r="2.05" fill="rgb(254,210,111)"/><circle cx="347.0" cy="71.2" r="2.05" fill="rgb(253,171,73)"/><circle cx="388.5" cy="59.4" r="2.05" fill="rgb(252,82,43)"/><circle cx="397.4" cy="57.0" r="2.05" fill="rgb(241,55,36)"/><circle cx="345.8" cy="75.6" r="2.05" fill="rgb(254,188,87)"/><circle cx="359.8" cy="74.2" r="2.05" fill="rgb(254,221,126)"/><circle cx="408.4" cy="68.9" r="2.05" fill="rgb(254,200,100)"/><circle cx="409.8" cy="81.2" r="2.05" fill="rgb(255,241,170)"/><circle cx="386.5" cy="64.0" r="2.05" fill="rgb(252,136,58)"/><circle cx="363.2" cy="77.6" r="2.05" fill="rgb(254,225,136)"/><circle cx="413.7" cy="80.9" r="2.05" fill="rgb(254,226,137)"/><circle cx="363.6" cy="74.9" r="2.05" fill="rgb(254,202,101)"/><circle cx="355.9" cy="86.0" r="2.05" fill="rgb(255,248,187)"/><circle cx="393.9" cy="54.4" r="2.05" fill="rgb(233,39,31)"/><circle cx="335.0" cy="76.9" r="2.05" fill="rgb(254,211,112)"/><circle cx="409.0" cy="58.5" r="2.05" fill="rgb(252,108,50)"/><circle cx="372.3" cy="69.7" r="2.05" fill="rgb(254,186,84)"/><circle cx="354.7" cy="70.9" r="2.05" fill="rgb(254,188,87)"/><circle cx="339.8" cy="81.4" r="2.05" fill="rgb(254,220,125)"/><circle cx="402.6" cy="55.0" r="2.05" fill="rgb(221,22,29)"/><circle cx="376.2" cy="70.2" r="2.05" fill="rgb(254,189,88)"/><circle cx="406.6" cy="70.6" r="2.05" fill="rgb(254,199,99)"/><circle cx="362.7" cy="69.7" r="2.05" fill="rgb(253,169,72)"/><circle cx="409.7" cy="65.6" r="2.05" fill="rgb(254,189,88)"/><circle cx="391.2" cy="70.7" r="2.05" fill="rgb(254,219,122)"/><circle cx="396.6" cy="57.5" r="2.05" fill="rgb(253,163,69)"/><circle cx="401.8" cy="70.6" r="2.05" fill="rgb(254,205,105)"/><circle cx="375.9" cy="69.1" r="2.05" fill="rgb(254,189,88)"/><circle cx="324.0" cy="84.1" r="2.05" fill="rgb(254,231,147)"/><circle cx="356.3" cy="59.0" r="2.05" fill="rgb(218,20,30)"/><circle cx="334.8" cy="76.8" r="2.05" fill="rgb(254,219,124)"/><circle cx="347.5" cy="83.8" r="2.05" fill="rgb(255,242,173)"/><circle cx="382.7" cy="67.0" r="2.05" fill="rgb(254,200,100)"/><circle cx="354.6" cy="70.2" r="2.05" fill="rgb(253,157,67)"/><circle cx="372.4" cy="84.4" r="2.05" fill="rgb(255,255,204)"/><circle cx="347.5" cy="81.2" r="2.05" fill="rgb(254,219,122)"/><circle cx="358.3" cy="75.7" r="2.05" fill="rgb(254,223,132)"/><circle cx="373.8" cy="79.6" r="2.05" fill="rgb(254,231,149)"/><circle cx="407.6" cy="60.3" r="2.05" fill="rgb(253,145,61)"/><circle cx="392.5" cy="64.1" r="2.05" fill="rgb(253,172,73)"/><circle cx="418.2" cy="71.1" r="2.05" fill="rgb(254,206,107)"/><circle cx="391.7" cy="58.6" r="2.05" fill="rgb(235,44,32)"/><circle cx="380.7" cy="74.1" r="2.05" fill="rgb(254,221,126)"/><circle cx="381.5" cy="70.0" r="2.05" fill="rgb(253,175,74)"/><circle cx="383.8" cy="72.7" r="2.05" fill="rgb(254,206,107)"/><circle cx="364.2" cy="70.7" r="2.05" fill="rgb(253,170,72)"/><circle cx="344.2" cy="80.7" r="2.05" fill="rgb(254,230,146)"/><circle cx="351.8" cy="81.6" r="2.05" fill="rgb(255,255,204)"/><circle cx="324.1" cy="84.9" r="2.05" fill="rgb(254,192,91)"/><circle cx="415.4" cy="60.6" r="2.05" fill="rgb(253,150,64)"/><circle cx="402.0" cy="55.1" r="2.05" fill="rgb(242,59,36)"/><circle cx="409.3" cy="66.1" r="2.05" fill="rgb(253,174,74)"/><circle cx="418.9" cy="57.3" r="2.05" fill="rgb(252,128,56)"/><circle cx="379.8" cy="73.9" r="2.05" fill="rgb(254,205,105)"/><circle cx="364.2" cy="78.5" r="2.05" fill="rgb(254,226,137)"/><circle cx="348.9" cy="80.7" r="2.05" fill="rgb(254,216,117)"/><circle cx="342.4" cy="78.4" r="2.05" fill="rgb(254,208,108)"/><circle cx="382.7" cy="68.7" r="2.05" fill="rgb(254,191,90)"/><circle cx="335.2" cy="74.8" r="2.05" fill="rgb(254,188,87)"/><circle cx="359.4" cy="61.5" r="2.05" fill="rgb(253,162,69)"/><circle cx="353.0" cy="74.1" r="2.05" fill="rgb(254,223,132)"/><circle cx="335.0" cy="69.2" r="2.05" fill="rgb(254,179,78)"/><circle cx="368.0" cy="82.0" r="2.05" fill="rgb(255,238,162)"/><circle cx="410.7" cy="56.5" r="2.05" fill="rgb(232,37,31)"/><circle cx="364.1" cy="81.2" r="2.05" fill="rgb(255,239,165)"/><circle cx="345.6" cy="85.3" r="2.05" fill="rgb(255,255,204)"/><circle cx="340.3" cy="77.0" r="2.05" fill="rgb(254,217,118)"/><circle cx="369.4" cy="74.5" r="2.05" fill="rgb(254,182,80)"/><circle cx="363.9" cy="75.8" r="2.05" fill="rgb(254,197,96)"/><circle cx="348.3" cy="84.6" r="2.05" fill="rgb(255,253,199)"/><circle cx="401.5" cy="82.2" r="2.05" fill="rgb(255,246,183)"/><circle cx="334.6" cy="85.5" r="2.05" fill="rgb(255,237,161)"/><circle cx="362.9" cy="73.3" r="2.05" fill="rgb(254,198,97)"/><circle cx="340.8" cy="84.3" r="2.05" fill="rgb(254,233,153)"/><circle cx="392.6" cy="65.5" r="2.05" fill="rgb(254,191,90)"/><circle cx="405.0" cy="59.3" r="2.05" fill="rgb(239,52,35)"/><circle cx="355.7" cy="68.5" r="2.05" fill="rgb(253,170,72)"/><circle cx="392.1" cy="56.9" r="2.05" fill="rgb(162,0,38)"/><circle cx="417.9" cy="61.0" r="2.05" fill="rgb(253,158,67)"/><circle cx="398.3" cy="55.4" r="2.05" fill="rgb(244,62,37)"/><circle cx="348.8" cy="77.9" r="2.05" fill="rgb(254,225,136)"/><circle cx="405.0" cy="75.1" r="2.05" fill="rgb(254,225,134)"/><circle cx="389.1" cy="68.2" r="2.05" fill="rgb(254,183,82)"/><circle cx="379.0" cy="54.9" r="2.05" fill="rgb(207,12,33)"/><circle cx="334.7" cy="82.9" r="2.05" fill="rgb(255,247,184)"/><circle cx="378.9" cy="84.5" r="2.05" fill="rgb(255,250,192)"/><circle cx="352.4" cy="65.2" r="2.05" fill="rgb(253,150,64)"/><circle cx="358.0" cy="75.1" r="2.05" fill="rgb(254,225,134)"/><circle cx="400.0" cy="57.2" r="2.05" fill="rgb(204,10,33)"/><circle cx="381.8" cy="75.7" r="2.05" fill="rgb(254,186,84)"/><circle cx="363.7" cy="80.7" r="2.05" fill="rgb(254,231,147)"/><circle cx="330.2" cy="83.6" r="2.05" fill="rgb(255,252,198)"/><circle cx="410.0" cy="66.8" r="2.05" fill="rgb(253,175,74)"/><circle cx="391.8" cy="81.5" r="2.05" fill="rgb(255,243,176)"/><circle cx="380.9" cy="77.7" r="2.05" fill="rgb(255,237,161)"/><circle cx="367.1" cy="81.3" r="2.05" fill="rgb(254,235,155)"/><circle cx="415.2" cy="55.4" r="2.05" fill="rgb(246,67,39)"/><circle cx="365.7" cy="66.8" r="2.05" fill="rgb(253,154,65)"/><circle cx="346.1" cy="84.2" r="2.05" fill="rgb(255,248,187)"/><circle cx="368.2" cy="80.8" r="2.05" fill="rgb(254,214,115)"/><circle cx="335.0" cy="71.2" r="2.05" fill="rgb(254,195,95)"/><circle cx="363.0" cy="82.4" r="2.05" fill="rgb(255,243,175)"/><circle cx="401.2" cy="70.2" r="2.05" fill="rgb(254,206,107)"/><circle cx="351.3" cy="75.8" r="2.05" fill="rgb(254,195,95)"/><circle cx="373.9" cy="74.0" r="2.05" fill="rgb(254,221,126)"/><circle cx="334.4" cy="70.8" r="2.05" fill="rgb(252,140,59)"/><circle cx="324.5" cy="82.8" r="2.05" fill="rgb(254,228,141)"/><circle cx="323.9" cy="86.1" r="2.05" fill="rgb(254,227,140)"/><circle cx="372.9" cy="65.8" r="2.05" fill="rgb(254,186,84)"/><circle cx="406.8" cy="65.3" r="2.05" fill="rgb(253,143,61)"/><circle cx="373.6" cy="65.3" r="2.05" fill="rgb(253,158,67)"/><circle cx="340.4" cy="83.9" r="2.05" fill="rgb(255,240,169)"/><circle cx="343.3" cy="70.8" r="2.05" fill="rgb(253,175,74)"/><circle cx="365.4" cy="81.2" r="2.05" fill="rgb(254,210,111)"/><circle cx="371.2" cy="66.3" r="2.05" fill="rgb(252,122,54)"/><circle cx="367.9" cy="64.7" r="2.05" fill="rgb(252,128,56)"/><circle cx="403.2" cy="74.6" r="2.05" fill="rgb(254,205,105)"/><circle cx="375.5" cy="76.9" r="2.05" fill="rgb(254,218,121)"/><circle cx="394.9" cy="56.8" r="2.05" fill="rgb(227,28,28)"/><circle cx="397.4" cy="75.7" r="2.05" fill="rgb(254,194,93)"/><circle cx="411.9" cy="85.0" r="2.05" fill="rgb(255,247,184)"/><circle cx="324.3" cy="84.1" r="2.05" fill="rgb(254,227,140)"/><circle cx="355.8" cy="86.4" r="2.05" fill="rgb(255,255,204)"/><circle cx="382.1" cy="73.0" r="2.05" fill="rgb(254,184,83)"/><circle cx="330.2" cy="84.8" r="2.05" fill="rgb(255,255,204)"/><circle cx="387.2" cy="62.9" r="2.05" fill="rgb(252,88,45)"/><circle cx="390.3" cy="80.2" r="2.05" fill="rgb(254,226,138)"/><circle cx="384.7" cy="55.5" r="2.05" fill="rgb(228,29,28)"/><circle cx="356.7" cy="71.0" r="2.05" fill="rgb(254,178,76)"/><circle cx="391.2" cy="64.5" r="2.05" fill="rgb(253,147,62)"/><circle cx="406.4" cy="61.3" r="2.05" fill="rgb(253,146,62)"/><circle cx="340.1" cy="85.7" r="2.05" fill="rgb(255,248,187)"/><circle cx="340.6" cy="83.3" r="2.05" fill="rgb(255,255,204)"/><circle cx="414.9" cy="66.2" r="2.05" fill="rgb(254,191,90)"/><circle cx="348.2" cy="85.5" r="2.05" fill="rgb(255,243,176)"/><circle cx="361.6" cy="55.6" r="2.05" fill="rgb(227,26,28)"/><circle cx="407.5" cy="70.6" r="2.05" fill="rgb(254,194,93)"/><circle cx="348.9" cy="71.5" r="2.05" fill="rgb(254,199,99)"/><circle cx="383.0" cy="80.5" r="2.05" fill="rgb(254,235,157)"/><circle cx="367.4" cy="81.7" r="2.05" fill="rgb(255,239,166)"/><circle cx="368.3" cy="74.5" r="2.05" fill="rgb(254,209,109)"/><circle cx="376.3" cy="63.1" r="2.05" fill="rgb(253,148,63)"/><circle cx="406.8" cy="71.2" r="2.05" fill="rgb(254,197,96)"/><circle cx="330.2" cy="83.4" r="2.05" fill="rgb(255,255,204)"/><circle cx="405.4" cy="65.8" r="2.05" fill="rgb(253,148,63)"/><circle cx="359.9" cy="66.2" r="2.05" fill="rgb(253,161,68)"/><circle cx="395.8" cy="73.8" r="2.05" fill="rgb(254,179,78)"/><circle cx="415.0" cy="70.8" r="2.05" fill="rgb(254,197,96)"/><circle cx="358.7" cy="70.6" r="2.05" fill="rgb(253,169,72)"/><circle cx="345.1" cy="85.6" r="2.05" fill="rgb(255,255,204)"/><circle cx="339.8" cy="77.9" r="2.05" fill="rgb(254,208,108)"/><circle cx="353.3" cy="76.1" r="2.05" fill="rgb(254,221,128)"/><circle cx="363.7" cy="67.7" r="2.05" fill="rgb(253,149,63)"/><circle cx="416.6" cy="69.9" r="2.05" fill="rgb(254,220,125)"/><circle cx="403.5" cy="80.7" r="2.05" fill="rgb(254,236,159)"/><circle cx="388.0" cy="70.0" r="2.05" fill="rgb(254,211,112)"/><circle cx="350.9" cy="70.7" r="2.05" fill="rgb(253,150,64)"/><circle cx="392.2" cy="69.6" r="2.05" fill="rgb(254,219,122)"/><circle cx="406.5" cy="78.6" r="2.05" fill="rgb(255,245,181)"/><circle cx="378.2" cy="80.0" r="2.05" fill="rgb(255,238,163)"/><circle cx="415.4" cy="55.1" r="2.05" fill="rgb(247,68,39)"/><circle cx="377.4" cy="71.8" r="2.05" fill="rgb(254,184,83)"/><circle cx="360.0" cy="75.9" r="2.05" fill="rgb(254,231,149)"/><circle cx="341.6" cy="83.1" r="2.05" fill="rgb(254,224,133)"/><circle cx="363.4" cy="84.9" r="2.05" fill="rgb(255,243,176)"/><circle cx="345.9" cy="66.2" r="2.05" fill="rgb(253,154,65)"/><circle cx="386.1" cy="73.1" r="2.05" fill="rgb(254,217,118)"/><circle cx="330.9" cy="85.6" r="2.05" fill="rgb(254,223,132)"/><circle cx="351.3" cy="73.8" r="2.05" fill="rgb(253,175,74)"/><circle cx="369.1" cy="77.3" r="2.05" fill="rgb(254,206,107)"/><circle cx="334.8" cy="79.2" r="2.05" fill="rgb(254,211,112)"/><circle cx="379.2" cy="55.6" r="2.05" fill="rgb(252,108,50)"/><circle cx="406.8" cy="55.6" r="2.05" fill="rgb(240,54,35)"/><circle cx="342.5" cy="72.8" r="2.05" fill="rgb(253,172,73)"/><circle cx="355.6" cy="68.4" r="2.05" fill="rgb(254,186,84)"/><circle cx="411.2" cy="59.6" r="2.05" fill="rgb(253,142,60)"/><circle cx="360.6" cy="75.2" r="2.05" fill="rgb(254,204,104)"/><circle cx="398.0" cy="73.8" r="2.05" fill="rgb(254,214,115)"/><circle cx="374.4" cy="69.2" r="2.05" fill="rgb(254,181,79)"/><circle cx="330.8" cy="84.0" r="2.05" fill="rgb(255,255,204)"/><circle cx="401.5" cy="77.3" r="2.05" fill="rgb(254,225,134)"/><circle cx="379.4" cy="72.4" r="2.05" fill="rgb(254,209,109)"/><circle cx="382.1" cy="70.4" r="2.05" fill="rgb(253,160,68)"/><circle cx="352.9" cy="75.4" r="2.05" fill="rgb(254,192,91)"/><circle cx="384.3" cy="57.3" r="2.05" fill="rgb(232,37,31)"/><circle cx="391.8" cy="74.2" r="2.05" fill="rgb(254,199,99)"/><circle cx="368.9" cy="62.8" r="2.05" fill="rgb(252,130,56)"/><circle cx="384.4" cy="76.0" r="2.05" fill="rgb(254,227,140)"/><circle cx="385.8" cy="68.8" r="2.05" fill="rgb(254,188,87)"/><circle cx="343.2" cy="71.9" r="2.05" fill="rgb(253,162,69)"/><circle cx="385.2" cy="81.0" r="2.05" fill="rgb(254,233,153)"/><circle cx="350.1" cy="71.9" r="2.05" fill="rgb(253,175,74)"/><circle cx="395.2" cy="70.2" r="2.05" fill="rgb(254,198,97)"/><circle cx="330.7" cy="72.2" r="2.05" fill="rgb(254,210,111)"/><circle cx="364.2" cy="55.1" r="2.05" fill="rgb(223,23,28)"/><circle cx="352.0" cy="65.6" r="2.05" fill="rgb(252,132,57)"/><circle cx="345.3" cy="75.7" r="2.05" fill="rgb(254,208,108)"/><circle cx="360.4" cy="58.9" r="2.05" fill="rgb(223,23,28)"/><circle cx="323.8" cy="76.1" r="2.05" fill="rgb(255,255,204)"/><circle cx="382.0" cy="73.3" r="2.05" fill="rgb(254,231,149)"/><circle cx="349.6" cy="71.0" r="2.05" fill="rgb(254,181,79)"/><circle cx="351.0" cy="82.1" r="2.05" fill="rgb(254,211,112)"/><circle cx="430.5" cy="58.6" r="2.05" fill="rgb(228,29,28)"/><circle cx="369.0" cy="80.9" r="2.05" fill="rgb(254,193,92)"/><circle cx="355.2" cy="84.5" r="2.05" fill="rgb(255,246,183)"/><circle cx="330.2" cy="85.8" r="2.05" fill="rgb(254,223,132)"/><circle cx="358.3" cy="62.6" r="2.05" fill="rgb(242,57,36)"/><circle cx="351.3" cy="68.9" r="2.05" fill="rgb(253,143,61)"/><circle cx="412.3" cy="66.5" r="2.05" fill="rgb(254,187,86)"/><circle cx="335.2" cy="76.4" r="2.05" fill="rgb(254,178,76)"/><circle cx="379.4" cy="81.0" r="2.05" fill="rgb(255,245,180)"/><circle cx="410.0" cy="78.8" r="2.05" fill="rgb(254,203,103)"/><circle cx="398.1" cy="68.3" r="2.05" fill="rgb(254,178,76)"/><circle cx="379.3" cy="72.9" r="2.05" fill="rgb(253,175,74)"/><circle cx="387.3" cy="55.4" r="2.05" fill="rgb(252,102,48)"/><circle cx="330.3" cy="72.9" r="2.05" fill="rgb(253,177,75)"/><circle cx="378.8" cy="77.1" r="2.05" fill="rgb(254,218,121)"/><circle cx="381.9" cy="76.7" r="2.05" fill="rgb(254,219,122)"/><circle cx="390.1" cy="71.5" r="2.05" fill="rgb(254,187,86)"/><circle cx="401.2" cy="85.1" r="2.05" fill="rgb(255,255,204)"/><circle cx="354.5" cy="69.8" r="2.05" fill="rgb(253,163,69)"/><circle cx="334.7" cy="85.0" r="2.05" fill="rgb(255,238,163)"/><circle cx="407.2" cy="73.3" r="2.05" fill="rgb(254,220,125)"/><circle cx="324.1" cy="68.1" r="2.05" fill="rgb(252,110,51)"/><circle cx="367.4" cy="80.0" r="2.05" fill="rgb(255,255,204)"/><circle cx="404.4" cy="64.9" r="2.05" fill="rgb(253,170,72)"/><circle cx="363.3" cy="77.4" r="2.05" fill="rgb(254,226,137)"/><circle cx="344.1" cy="82.6" r="2.05" fill="rgb(255,254,202)"/><circle cx="345.6" cy="79.6" r="2.05" fill="rgb(254,236,159)"/><circle cx="348.4" cy="73.5" r="2.05" fill="rgb(254,194,93)"/><circle cx="334.9" cy="85.2" r="2.05" fill="rgb(254,229,144)"/><circle cx="383.4" cy="68.7" r="2.05" fill="rgb(254,194,93)"/><circle cx="324.0" cy="84.7" r="2.05" fill="rgb(254,234,154)"/><circle cx="330.1" cy="80.5" r="2.05" fill="rgb(254,208,108)"/><circle cx="350.1" cy="80.0" r="2.05" fill="rgb(254,216,117)"/><circle cx="361.9" cy="72.8" r="2.05" fill="rgb(254,178,76)"/><circle cx="374.4" cy="68.7" r="2.05" fill="rgb(253,142,60)"/><circle cx="413.4" cy="68.1" r="2.05" fill="rgb(254,199,99)"/><circle cx="400.3" cy="55.0" r="2.05" fill="rgb(240,54,35)"/><circle cx="368.0" cy="84.1" r="2.05" fill="rgb(255,239,165)"/><circle cx="350.7" cy="73.9" r="2.05" fill="rgb(254,194,93)"/><circle cx="411.2" cy="57.1" r="2.05" fill="rgb(211,15,32)"/><circle cx="426.2" cy="71.5" r="2.05" fill="rgb(252,112,51)"/><circle cx="348.6" cy="79.0" r="2.05" fill="rgb(254,231,147)"/><circle cx="376.0" cy="76.0" r="2.05" fill="rgb(254,221,128)"/><circle cx="358.2" cy="86.1" r="2.05" fill="rgb(254,229,144)"/><circle cx="416.2" cy="78.9" r="2.05" fill="rgb(255,238,162)"/><circle cx="353.2" cy="85.0" r="2.05" fill="rgb(255,249,190)"/><circle cx="411.4" cy="54.9" r="2.05" fill="rgb(253,153,65)"/><circle cx="355.5" cy="76.6" r="2.05" fill="rgb(253,161,68)"/><circle cx="400.2" cy="67.6" r="2.05" fill="rgb(253,174,74)"/><circle cx="352.0" cy="69.7" r="2.05" fill="rgb(253,155,66)"/><circle cx="339.4" cy="86.3" r="2.05" fill="rgb(254,222,129)"/><circle cx="363.5" cy="62.2" r="2.05" fill="rgb(253,169,72)"/><circle cx="406.4" cy="54.8" r="2.05" fill="rgb(249,73,40)"/><circle cx="377.0" cy="56.6" r="2.05" fill="rgb(252,108,50)"/><circle cx="334.5" cy="77.3" r="2.05" fill="rgb(254,205,105)"/><circle cx="344.2" cy="86.2" r="2.05" fill="rgb(254,235,157)"/><circle cx="408.8" cy="67.2" r="2.05" fill="rgb(254,181,79)"/><circle cx="323.8" cy="78.6" r="2.05" fill="rgb(254,221,126)"/><circle cx="347.5" cy="69.3" r="2.05" fill="rgb(253,176,75)"/><circle cx="323.5" cy="83.9" r="2.05" fill="rgb(254,231,149)"/><circle cx="369.3" cy="73.7" r="2.05" fill="rgb(254,199,99)"/><circle cx="394.1" cy="66.5" r="2.05" fill="rgb(253,145,61)"/><circle cx="361.4" cy="79.4" r="2.05" fill="rgb(255,239,165)"/><circle cx="349.8" cy="74.0" r="2.05" fill="rgb(254,216,117)"/><circle cx="356.2" cy="73.0" r="2.05" fill="rgb(253,174,74)"/><circle cx="341.5" cy="85.9" r="2.05" fill="rgb(254,235,157)"/><circle cx="378.5" cy="86.0" r="2.05" fill="rgb(255,244,179)"/><circle cx="380.0" cy="56.9" r="2.05" fill="rgb(187,0,38)"/><circle cx="400.4" cy="74.0" r="2.05" fill="rgb(254,203,103)"/><circle cx="414.6" cy="54.3" r="2.05" fill="rgb(233,39,31)"/><circle cx="395.1" cy="68.2" r="2.05" fill="rgb(254,178,76)"/><circle cx="393.3" cy="65.1" r="2.05" fill="rgb(252,134,58)"/><circle cx="383.8" cy="64.3" r="2.05" fill="rgb(252,130,56)"/><circle cx="385.1" cy="74.9" r="2.05" fill="rgb(254,209,109)"/><circle cx="359.5" cy="60.5" r="2.05" fill="rgb(252,140,59)"/><circle cx="345.4" cy="82.2" r="2.05" fill="rgb(255,255,204)"/><circle cx="375.4" cy="77.5" r="2.05" fill="rgb(254,211,112)"/><circle cx="399.2" cy="56.2" r="2.05" fill="rgb(252,110,51)"/><circle cx="371.6" cy="75.0" r="2.05" fill="rgb(255,241,170)"/><circle cx="412.3" cy="65.0" r="2.05" fill="rgb(253,172,73)"/><circle cx="343.6" cy="75.3" r="2.05" fill="rgb(254,216,117)"/><circle cx="392.9" cy="58.1" r="2.05" fill="rgb(252,134,58)"/><circle cx="385.0" cy="73.9" r="2.05" fill="rgb(254,210,111)"/><circle cx="351.9" cy="84.1" r="2.05" fill="rgb(255,250,192)"/><circle cx="376.3" cy="82.9" r="2.05" fill="rgb(255,242,172)"/><circle cx="355.1" cy="81.8" r="2.05" fill="rgb(254,233,151)"/><circle cx="352.6" cy="75.2" r="2.05" fill="rgb(254,204,104)"/><circle cx="299.4" cy="72.9" r="2.05" fill="rgb(252,132,57)"/><circle cx="351.7" cy="80.9" r="2.05" fill="rgb(254,228,141)"/><circle cx="330.8" cy="80.0" r="2.05" fill="rgb(254,184,83)"/><circle cx="410.5" cy="66.6" r="2.05" fill="rgb(254,184,83)"/><circle cx="370.5" cy="81.6" r="2.05" fill="rgb(254,228,141)"/><circle cx="330.0" cy="85.0" r="2.05" fill="rgb(254,227,140)"/><circle cx="334.3" cy="66.8" r="2.05" fill="rgb(252,80,42)"/><circle cx="392.6" cy="67.0" r="2.05" fill="rgb(254,189,88)"/><circle cx="360.2" cy="76.7" r="2.05" fill="rgb(254,203,103)"/><circle cx="347.9" cy="86.3" r="2.05" fill="rgb(254,230,146)"/><circle cx="383.9" cy="78.2" r="2.05" fill="rgb(255,249,191)"/><circle cx="356.0" cy="64.5" r="2.05" fill="rgb(253,162,69)"/><circle cx="379.2" cy="73.4" r="2.05" fill="rgb(253,174,74)"/><circle cx="339.1" cy="86.4" r="2.05" fill="rgb(254,235,157)"/><circle cx="355.5" cy="85.6" r="2.05" fill="rgb(255,240,168)"/><circle cx="385.6" cy="69.0" r="2.05" fill="rgb(253,174,74)"/><circle cx="370.7" cy="75.4" r="2.05" fill="rgb(254,211,112)"/><circle cx="388.6" cy="55.7" r="2.05" fill="rgb(208,13,32)"/><circle cx="330.9" cy="70.6" r="2.05" fill="rgb(253,172,73)"/><circle cx="363.4" cy="62.5" r="2.05" fill="rgb(252,80,42)"/><circle cx="323.8" cy="80.7" r="2.05" fill="rgb(254,188,87)"/><circle cx="330.8" cy="73.7" r="2.05" fill="rgb(253,169,72)"/><circle cx="366.3" cy="86.0" r="2.05" fill="rgb(254,234,154)"/><circle cx="369.2" cy="81.5" r="2.05" fill="rgb(254,226,137)"/><circle cx="388.3" cy="72.2" r="2.05" fill="rgb(254,229,144)"/><circle cx="415.4" cy="59.5" r="2.05" fill="rgb(246,65,38)"/><circle cx="345.4" cy="76.1" r="2.05" fill="rgb(254,208,108)"/><circle cx="356.8" cy="74.0" r="2.05" fill="rgb(254,192,91)"/><circle cx="393.5" cy="61.8" r="2.05" fill="rgb(253,161,68)"/><circle cx="315.7" cy="81.8" r="2.05" fill="rgb(253,168,71)"/><circle cx="371.5" cy="76.9" r="2.05" fill="rgb(254,215,116)"/><circle cx="344.8" cy="78.6" r="2.05" fill="rgb(254,206,107)"/><circle cx="330.3" cy="79.0" r="2.05" fill="rgb(254,221,126)"/><circle cx="415.3" cy="63.1" r="2.05" fill="rgb(253,152,64)"/><circle cx="361.4" cy="85.6" r="2.05" fill="rgb(255,242,173)"/><circle cx="384.2" cy="72.9" r="2.05" fill="rgb(254,198,97)"/><circle cx="377.9" cy="78.4" r="2.05" fill="rgb(255,239,166)"/><circle cx="341.5" cy="83.7" r="2.05" fill="rgb(255,251,195)"/><circle cx="362.8" cy="76.6" r="2.05" fill="rgb(254,216,117)"/><circle cx="394.2" cy="56.0" r="2.05" fill="rgb(252,82,43)"/><circle cx="311.4" cy="72.2" r="2.05" fill="rgb(252,132,57)"/><circle cx="346.0" cy="84.2" r="2.05" fill="rgb(255,255,204)"/><circle cx="341.9" cy="79.4" r="2.05" fill="rgb(254,195,95)"/><circle cx="358.1" cy="82.3" r="2.05" fill="rgb(254,236,159)"/><circle cx="370.6" cy="73.1" r="2.05" fill="rgb(254,182,80)"/><circle cx="357.0" cy="63.0" r="2.05" fill="rgb(253,141,60)"/><circle cx="323.6" cy="80.2" r="2.05" fill="rgb(254,221,126)"/><circle cx="358.1" cy="80.7" r="2.05" fill="rgb(255,241,170)"/><circle cx="394.4" cy="78.3" r="2.05" fill="rgb(255,242,173)"/><circle cx="380.7" cy="71.2" r="2.05" fill="rgb(253,168,71)"/><circle cx="401.7" cy="72.3" r="2.05" fill="rgb(254,187,86)"/><circle cx="407.3" cy="63.0" r="2.05" fill="rgb(253,167,71)"/><circle cx="378.9" cy="68.0" r="2.05" fill="rgb(253,155,66)"/><circle cx="387.4" cy="56.9" r="2.05" fill="rgb(240,54,35)"/><circle cx="417.9" cy="68.6" r="2.05" fill="rgb(254,178,76)"/><circle cx="398.4" cy="62.5" r="2.05" fill="rgb(233,39,31)"/><circle cx="350.4" cy="71.7" r="2.05" fill="rgb(254,198,97)"/><circle cx="360.9" cy="76.9" r="2.05" fill="rgb(254,219,122)"/><circle cx="391.4" cy="66.1" r="2.05" fill="rgb(253,160,68)"/><circle cx="366.0" cy="67.2" r="2.05" fill="rgb(254,183,82)"/><circle cx="397.1" cy="73.3" r="2.05" fill="rgb(254,224,133)"/><circle cx="361.7" cy="79.9" r="2.05" fill="rgb(254,225,134)"/><circle cx="384.3" cy="76.8" r="2.05" fill="rgb(254,217,118)"/><circle cx="364.9" cy="72.4" r="2.05" fill="rgb(253,156,66)"/><circle cx="409.8" cy="64.2" r="2.05" fill="rgb(252,126,55)"/><circle cx="414.9" cy="54.8" r="2.05" fill="rgb(253,143,61)"/><circle cx="406.4" cy="70.1" r="2.05" fill="rgb(254,203,103)"/><circle cx="398.2" cy="67.6" r="2.05" fill="rgb(253,175,74)"/><circle cx="330.1" cy="82.5" r="2.05" fill="rgb(255,255,204)"/><circle cx="414.7" cy="59.1" r="2.05" fill="rgb(211,15,32)"/><circle cx="401.7" cy="60.1" r="2.05" fill="rgb(252,112,51)"/><circle cx="384.5" cy="80.5" r="2.05" fill="rgb(255,255,204)"/><circle cx="398.2" cy="77.0" r="2.05" fill="rgb(254,231,147)"/><circle cx="342.0" cy="85.7" r="2.05" fill="rgb(255,255,204)"/><circle cx="366.8" cy="70.2" r="2.05" fill="rgb(253,177,75)"/><circle cx="372.9" cy="73.6" r="2.05" fill="rgb(254,227,140)"/><circle cx="379.6" cy="79.0" r="2.05" fill="rgb(253,174,74)"/><circle cx="362.1" cy="84.5" r="2.05" fill="rgb(255,245,180)"/><circle cx="356.3" cy="61.7" r="2.05" fill="rgb(251,76,41)"/><circle cx="335.2" cy="69.0" r="2.05" fill="rgb(253,165,70)"/><circle cx="324.2" cy="85.8" r="2.05" fill="rgb(254,230,146)"/><circle cx="401.3" cy="73.0" r="2.05" fill="rgb(254,218,121)"/><circle cx="396.8" cy="68.1" r="2.05" fill="rgb(254,206,107)"/><circle cx="350.8" cy="77.6" r="2.05" fill="rgb(254,223,130)"/><circle cx="403.9" cy="70.9" r="2.05" fill="rgb(254,225,136)"/><circle cx="415.1" cy="56.8" r="2.05" fill="rgb(252,134,58)"/><circle cx="334.2" cy="76.0" r="2.05" fill="rgb(254,191,90)"/><circle cx="330.5" cy="71.2" r="2.05" fill="rgb(253,174,74)"/><circle cx="343.8" cy="76.6" r="2.05" fill="rgb(254,193,92)"/><circle cx="366.7" cy="65.8" r="2.05" fill="rgb(253,157,67)"/><circle cx="364.2" cy="69.5" r="2.05" fill="rgb(254,213,113)"/><circle cx="330.8" cy="64.9" r="2.05" fill="rgb(252,102,48)"/><circle cx="412.4" cy="58.4" r="2.05" fill="rgb(215,18,31)"/><circle cx="384.1" cy="54.8" r="2.05" fill="rgb(227,26,28)"/><circle cx="397.1" cy="54.3" r="2.05" fill="rgb(247,68,39)"/><circle cx="415.8" cy="63.1" r="2.05" fill="rgb(253,168,71)"/><circle cx="401.8" cy="68.5" r="2.05" fill="rgb(254,187,86)"/><circle cx="408.2" cy="56.8" r="2.05" fill="rgb(238,50,34)"/><circle cx="391.9" cy="56.4" r="2.05" fill="rgb(252,110,51)"/><circle cx="404.6" cy="54.9" r="2.05" fill="rgb(246,67,39)"/><circle cx="394.8" cy="57.0" r="2.05" fill="rgb(224,24,28)"/><circle cx="416.6" cy="59.2" r="2.05" fill="rgb(252,124,55)"/><circle cx="385.9" cy="73.6" r="2.05" fill="rgb(254,209,109)"/><circle cx="369.3" cy="84.5" r="2.05" fill="rgb(254,219,124)"/><circle cx="402.4" cy="67.0" r="2.05" fill="rgb(254,189,88)"/><circle cx="398.9" cy="69.9" r="2.05" fill="rgb(253,168,71)"/><circle cx="348.4" cy="78.2" r="2.05" fill="rgb(254,211,112)"/><circle cx="373.8" cy="54.5" r="2.05" fill="rgb(242,59,36)"/><circle cx="406.8" cy="74.2" r="2.05" fill="rgb(254,206,107)"/><circle cx="396.9" cy="54.7" r="2.05" fill="rgb(231,36,30)"/><circle cx="339.3" cy="81.3" r="2.05" fill="rgb(255,248,187)"/><circle cx="380.3" cy="77.7" r="2.05" fill="rgb(254,218,121)"/><circle cx="381.7" cy="81.9" r="2.05" fill="rgb(254,236,159)"/><circle cx="368.0" cy="70.2" r="2.05" fill="rgb(254,182,80)"/><circle cx="348.8" cy="81.6" r="2.05" fill="rgb(254,224,133)"/><circle cx="419.2" cy="58.9" r="2.05" fill="rgb(204,10,33)"/><circle cx="382.2" cy="79.2" r="2.05" fill="rgb(254,236,159)"/><circle cx="382.1" cy="73.7" r="2.05" fill="rgb(254,197,96)"/><circle cx="330.7" cy="86.0" r="2.05" fill="rgb(255,240,168)"/><circle cx="394.6" cy="84.5" r="2.05" fill="rgb(255,243,175)"/><circle cx="369.6" cy="69.0" r="2.05" fill="rgb(253,172,73)"/><circle cx="364.9" cy="67.1" r="2.05" fill="rgb(254,202,101)"/><circle cx="341.2" cy="83.1" r="2.05" fill="rgb(255,239,166)"/><circle cx="341.0" cy="69.4" r="2.05" fill="rgb(254,221,126)"/><circle cx="375.2" cy="73.7" r="2.05" fill="rgb(254,182,80)"/><circle cx="393.6" cy="71.2" r="2.05" fill="rgb(254,200,100)"/><circle cx="354.1" cy="61.3" r="2.05" fill="rgb(253,155,66)"/><circle cx="401.9" cy="74.2" r="2.05" fill="rgb(254,193,92)"/><circle cx="414.1" cy="56.8" r="2.05" fill="rgb(249,73,40)"/><circle cx="348.0" cy="70.9" r="2.05" fill="rgb(254,210,111)"/><circle cx="351.4" cy="85.6" r="2.05" fill="rgb(255,243,176)"/><circle cx="372.9" cy="75.7" r="2.05" fill="rgb(254,197,96)"/><circle cx="393.3" cy="54.3" r="2.05" fill="rgb(231,34,30)"/><circle cx="344.4" cy="79.6" r="2.05" fill="rgb(254,199,99)"/><circle cx="412.8" cy="58.0" r="2.05" fill="rgb(235,44,32)"/><circle cx="372.9" cy="81.0" r="2.05" fill="rgb(255,240,169)"/><circle cx="349.7" cy="77.0" r="2.05" fill="rgb(254,227,140)"/><circle cx="376.4" cy="72.7" r="2.05" fill="rgb(254,181,79)"/><circle cx="414.4" cy="56.3" r="2.05" fill="rgb(230,32,29)"/><circle cx="366.2" cy="84.8" r="2.05" fill="rgb(255,243,176)"/><circle cx="373.5" cy="64.1" r="2.05" fill="rgb(251,76,41)"/><circle cx="342.1" cy="83.7" r="2.05" fill="rgb(255,238,163)"/><circle cx="315.7" cy="71.5" r="2.05" fill="rgb(243,60,37)"/><circle cx="371.8" cy="86.2" r="2.05" fill="rgb(255,240,169)"/><circle cx="359.2" cy="73.1" r="2.05" fill="rgb(254,183,82)"/><circle cx="385.2" cy="55.1" r="2.05" fill="rgb(220,21,29)"/><circle cx="401.3" cy="67.1" r="2.05" fill="rgb(254,188,87)"/><circle cx="357.4" cy="77.2" r="2.05" fill="rgb(254,227,140)"/><circle cx="385.3" cy="73.1" r="2.05" fill="rgb(254,219,124)"/><circle cx="350.2" cy="80.3" r="2.05" fill="rgb(254,235,157)"/><circle cx="411.7" cy="77.3" r="2.05" fill="rgb(254,208,108)"/><circle cx="397.6" cy="78.8" r="2.05" fill="rgb(255,250,192)"/><circle cx="354.2" cy="78.4" r="2.05" fill="rgb(254,195,95)"/><circle cx="394.0" cy="74.9" r="2.05" fill="rgb(254,210,111)"/><circle cx="405.0" cy="55.7" r="2.05" fill="rgb(252,116,52)"/><circle cx="393.2" cy="76.0" r="2.05" fill="rgb(254,194,93)"/><circle cx="335.1" cy="72.1" r="2.05" fill="rgb(254,198,97)"/><circle cx="371.3" cy="77.1" r="2.05" fill="rgb(254,235,155)"/><circle cx="384.6" cy="81.5" r="2.05" fill="rgb(254,224,133)"/><circle cx="405.4" cy="57.7" r="2.05" fill="rgb(234,41,32)"/><circle cx="386.6" cy="73.6" r="2.05" fill="rgb(254,216,117)"/><circle cx="330.2" cy="83.6" r="2.05" fill="rgb(254,230,145)"/><circle cx="403.0" cy="56.3" r="2.05" fill="rgb(230,32,29)"/><circle cx="369.1" cy="76.7" r="2.05" fill="rgb(254,215,116)"/><circle cx="416.9" cy="67.9" r="2.05" fill="rgb(254,220,125)"/><circle cx="406.5" cy="75.9" r="2.05" fill="rgb(254,225,136)"/><circle cx="371.3" cy="73.2" r="2.05" fill="rgb(253,164,70)"/><circle cx="411.2" cy="71.8" r="2.05" fill="rgb(254,235,157)"/><circle cx="390.5" cy="57.9" r="2.05" fill="rgb(238,49,34)"/><circle cx="334.5" cy="82.9" r="2.05" fill="rgb(254,221,128)"/><circle cx="339.8" cy="84.9" r="2.05" fill="rgb(254,231,149)"/><circle cx="354.7" cy="67.3" r="2.05" fill="rgb(254,181,79)"/><circle cx="413.6" cy="58.6" r="2.05" fill="rgb(236,45,33)"/><circle cx="399.6" cy="61.1" r="2.05" fill="rgb(253,142,60)"/><circle cx="396.2" cy="54.4" r="2.05" fill="rgb(235,44,32)"/><circle cx="367.7" cy="71.4" r="2.05" fill="rgb(254,189,88)"/><circle cx="404.9" cy="62.8" r="2.05" fill="rgb(254,182,80)"/><circle cx="359.0" cy="84.2" r="2.05" fill="rgb(254,229,144)"/><circle cx="388.5" cy="55.5" r="2.05" fill="rgb(223,23,28)"/><circle cx="361.4" cy="83.1" r="2.05" fill="rgb(255,242,173)"/><circle cx="400.2" cy="68.1" r="2.05" fill="rgb(253,171,73)"/><circle cx="343.4" cy="76.7" r="2.05" fill="rgb(254,202,101)"/><circle cx="345.0" cy="83.1" r="2.05" fill="rgb(254,227,140)"/><circle cx="377.8" cy="63.2" r="2.05" fill="rgb(252,96,47)"/><circle cx="407.3" cy="76.5" r="2.05" fill="rgb(254,225,136)"/><circle cx="400.5" cy="67.6" r="2.05" fill="rgb(253,176,75)"/><circle cx="396.6" cy="65.7" r="2.05" fill="rgb(253,168,71)"/><circle cx="397.1" cy="57.6" r="2.05" fill="rgb(203,9,34)"/><circle cx="363.1" cy="62.8" r="2.05" fill="rgb(252,92,46)"/><circle cx="387.7" cy="72.8" r="2.05" fill="rgb(254,186,84)"/><circle cx="392.0" cy="54.7" r="2.05" fill="rgb(238,49,34)"/><circle cx="384.0" cy="63.5" r="2.05" fill="rgb(252,114,52)"/><circle cx="324.0" cy="81.6" r="2.05" fill="rgb(255,242,173)"/><circle cx="400.0" cy="66.8" r="2.05" fill="rgb(254,179,78)"/><circle cx="395.7" cy="65.1" r="2.05" fill="rgb(253,175,74)"/><circle cx="373.9" cy="69.1" r="2.05" fill="rgb(254,184,83)"/><circle cx="412.3" cy="62.3" r="2.05" fill="rgb(253,152,64)"/><circle cx="335.1" cy="82.6" r="2.05" fill="rgb(254,232,150)"/><circle cx="395.3" cy="63.5" r="2.05" fill="rgb(252,138,59)"/><circle cx="350.6" cy="82.1" r="2.05" fill="rgb(255,251,194)"/><circle cx="396.8" cy="62.3" r="2.05" fill="rgb(252,136,58)"/><circle cx="365.9" cy="83.5" r="2.05" fill="rgb(255,255,204)"/><circle cx="392.4" cy="76.5" r="2.05" fill="rgb(254,206,107)"/><circle cx="359.3" cy="82.4" r="2.05" fill="rgb(255,255,204)"/><circle cx="358.8" cy="73.9" r="2.05" fill="rgb(254,213,113)"/><circle cx="406.1" cy="66.0" r="2.05" fill="rgb(253,149,63)"/><circle cx="359.7" cy="74.2" r="2.05" fill="rgb(254,197,96)"/><circle cx="401.2" cy="55.0" r="2.05" fill="rgb(252,118,53)"/><circle cx="408.7" cy="55.7" r="2.05" fill="rgb(252,100,48)"/><circle cx="358.3" cy="86.0" r="2.05" fill="rgb(255,241,170)"/><circle cx="367.3" cy="79.9" r="2.05" fill="rgb(255,241,170)"/><circle cx="386.2" cy="84.8" r="2.05" fill="rgb(255,255,204)"/><circle cx="389.4" cy="67.0" r="2.05" fill="rgb(253,175,74)"/><circle cx="361.3" cy="72.6" r="2.05" fill="rgb(254,206,107)"/><circle cx="376.2" cy="72.1" r="2.05" fill="rgb(254,214,115)"/><circle cx="344.5" cy="75.7" r="2.05" fill="rgb(254,221,128)"/><circle cx="409.0" cy="63.2" r="2.05" fill="rgb(254,194,93)"/><circle cx="353.9" cy="59.2" r="2.05" fill="rgb(222,22,29)"/><circle cx="348.7" cy="57.5" r="2.05" fill="rgb(240,54,35)"/><circle cx="369.7" cy="74.2" r="2.05" fill="rgb(254,194,93)"/><circle cx="382.9" cy="72.2" r="2.05" fill="rgb(254,209,109)"/><circle cx="387.0" cy="67.4" r="2.05" fill="rgb(252,130,56)"/><circle cx="409.5" cy="58.7" r="2.05" fill="rgb(221,22,29)"/><circle cx="397.1" cy="55.6" r="2.05" fill="rgb(244,62,37)"/><circle cx="411.3" cy="63.7" r="2.05" fill="rgb(253,171,73)"/><circle cx="373.9" cy="55.7" r="2.05" fill="rgb(192,2,37)"/><circle cx="362.1" cy="75.2" r="2.05" fill="rgb(254,218,120)"/><circle cx="367.2" cy="72.1" r="2.05" fill="rgb(254,197,96)"/><circle cx="409.9" cy="69.3" r="2.05" fill="rgb(254,193,92)"/><circle cx="372.9" cy="60.4" r="2.05" fill="rgb(223,23,28)"/><circle cx="387.6" cy="59.2" r="2.05" fill="rgb(253,161,68)"/><circle cx="351.6" cy="73.8" r="2.05" fill="rgb(254,193,92)"/><circle cx="359.0" cy="82.7" r="2.05" fill="rgb(254,223,130)"/><circle cx="351.6" cy="62.8" r="2.05" fill="rgb(252,114,52)"/><circle cx="369.7" cy="62.0" r="2.05" fill="rgb(244,62,37)"/><circle cx="369.4" cy="79.9" r="2.05" fill="rgb(254,197,96)"/><circle cx="351.3" cy="85.1" r="2.05" fill="rgb(255,249,191)"/><circle cx="408.4" cy="74.8" r="2.05" fill="rgb(254,204,104)"/><circle cx="392.8" cy="66.4" r="2.05" fill="rgb(253,153,65)"/><circle cx="381.1" cy="77.4" r="2.05" fill="rgb(254,233,153)"/><circle cx="364.8" cy="75.6" r="2.05" fill="rgb(254,214,115)"/><circle cx="372.8" cy="62.3" r="2.05" fill="rgb(252,88,45)"/><circle cx="401.1" cy="55.1" r="2.05" fill="rgb(234,41,32)"/><circle cx="394.2" cy="54.7" r="2.05" fill="rgb(235,42,32)"/><circle cx="342.6" cy="79.9" r="2.05" fill="rgb(254,228,141)"/><circle cx="342.9" cy="84.9" r="2.05" fill="rgb(255,248,187)"/><circle cx="324.2" cy="84.6" r="2.05" fill="rgb(254,233,151)"/><circle cx="341.2" cy="79.4" r="2.05" fill="rgb(254,223,130)"/><circle cx="408.3" cy="74.3" r="2.05" fill="rgb(254,195,95)"/><circle cx="367.4" cy="67.8" r="2.05" fill="rgb(252,126,55)"/><circle cx="385.6" cy="70.5" r="2.05" fill="rgb(254,200,100)"/><circle cx="388.7" cy="81.2" r="2.05" fill="rgb(254,233,153)"/><circle cx="382.1" cy="81.6" r="2.05" fill="rgb(255,240,169)"/><circle cx="361.2" cy="75.9" r="2.05" fill="rgb(254,211,112)"/><circle cx="358.1" cy="74.1" r="2.05" fill="rgb(254,178,76)"/><circle cx="377.8" cy="74.1" r="2.05" fill="rgb(254,211,112)"/><circle cx="356.1" cy="68.6" r="2.05" fill="rgb(253,152,64)"/><circle cx="410.3" cy="56.3" r="2.05" fill="rgb(250,75,41)"/><circle cx="365.4" cy="66.1" r="2.05" fill="rgb(253,177,75)"/><circle cx="409.1" cy="66.3" r="2.05" fill="rgb(254,188,87)"/><circle cx="407.3" cy="56.2" r="2.05" fill="rgb(246,67,39)"/><circle cx="340.2" cy="78.0" r="2.05" fill="rgb(254,226,138)"/><circle cx="335.2" cy="84.9" r="2.05" fill="rgb(254,231,147)"/><circle cx="381.5" cy="69.5" r="2.05" fill="rgb(253,167,71)"/><circle cx="345.4" cy="68.7" r="2.05" fill="rgb(253,145,61)"/><circle cx="410.3" cy="63.6" r="2.05" fill="rgb(253,149,63)"/><circle cx="390.6" cy="55.3" r="2.05" fill="rgb(231,36,30)"/><circle cx="355.8" cy="86.1" r="2.05" fill="rgb(255,255,204)"/><circle cx="377.6" cy="77.8" r="2.05" fill="rgb(254,211,112)"/><circle cx="330.5" cy="83.9" r="2.05" fill="rgb(255,255,204)"/><circle cx="370.6" cy="83.6" r="2.05" fill="rgb(255,239,165)"/><circle cx="350.1" cy="81.6" r="2.05" fill="rgb(254,228,142)"/><circle cx="360.1" cy="85.3" r="2.05" fill="rgb(255,252,197)"/><circle cx="358.7" cy="82.7" r="2.05" fill="rgb(254,226,137)"/><circle cx="385.4" cy="54.9" r="2.05" fill="rgb(250,75,41)"/><circle cx="351.9" cy="76.3" r="2.05" fill="rgb(254,189,88)"/><circle cx="399.7" cy="67.9" r="2.05" fill="rgb(254,184,83)"/><circle cx="387.2" cy="62.8" r="2.05" fill="rgb(253,146,62)"/><circle cx="398.6" cy="65.8" r="2.05" fill="rgb(254,184,83)"/><circle cx="356.5" cy="67.0" r="2.05" fill="rgb(253,168,71)"/><circle cx="386.2" cy="76.7" r="2.05" fill="rgb(254,219,122)"/><circle cx="349.7" cy="55.2" r="2.05" fill="rgb(203,9,34)"/><circle cx="367.9" cy="68.1" r="2.05" fill="rgb(254,181,79)"/><circle cx="343.7" cy="86.2" r="2.05" fill="rgb(254,228,142)"/><circle cx="345.3" cy="61.1" r="2.05" fill="rgb(234,41,32)"/><circle cx="364.5" cy="73.6" r="2.05" fill="rgb(254,187,86)"/><circle cx="368.5" cy="67.0" r="2.05" fill="rgb(253,150,64)"/><circle cx="406.6" cy="76.6" r="2.05" fill="rgb(255,244,177)"/><circle cx="368.8" cy="74.5" r="2.05" fill="rgb(253,176,75)"/><circle cx="415.4" cy="74.4" r="2.05" fill="rgb(254,217,118)"/><circle cx="412.3" cy="58.4" r="2.05" fill="rgb(253,157,67)"/><circle cx="394.0" cy="80.8" r="2.05" fill="rgb(254,233,153)"/><circle cx="410.5" cy="66.3" r="2.05" fill="rgb(254,187,86)"/><circle cx="391.2" cy="67.3" r="2.05" fill="rgb(254,225,134)"/><circle cx="398.7" cy="55.7" r="2.05" fill="rgb(235,44,32)"/><circle cx="349.1" cy="81.2" r="2.05" fill="rgb(254,225,134)"/><circle cx="376.9" cy="58.4" r="2.05" fill="rgb(244,62,37)"/><circle cx="397.4" cy="75.6" r="2.05" fill="rgb(254,211,112)"/><circle cx="348.9" cy="68.8" r="2.05" fill="rgb(254,199,99)"/><circle cx="366.4" cy="75.7" r="2.05" fill="rgb(254,182,80)"/><circle cx="386.5" cy="81.0" r="2.05" fill="rgb(255,243,176)"/><circle cx="334.6" cy="78.3" r="2.05" fill="rgb(254,206,107)"/><circle cx="402.1" cy="59.2" r="2.05" fill="rgb(210,14,32)"/><circle cx="340.3" cy="83.1" r="2.05" fill="rgb(255,241,170)"/><circle cx="401.2" cy="56.8" r="2.05" fill="rgb(232,37,31)"/><circle cx="367.3" cy="72.5" r="2.05" fill="rgb(254,215,116)"/><circle cx="330.4" cy="80.8" r="2.05" fill="rgb(254,225,134)"/><circle cx="417.6" cy="60.9" r="2.05" fill="rgb(253,154,65)"/><circle cx="386.3" cy="74.7" r="2.05" fill="rgb(254,218,120)"/><circle cx="342.4" cy="84.4" r="2.05" fill="rgb(254,211,112)"/><circle cx="323.5" cy="69.5" r="2.05" fill="rgb(253,143,61)"/><circle cx="378.8" cy="70.3" r="2.05" fill="rgb(254,183,82)"/><circle cx="346.9" cy="83.2" r="2.05" fill="rgb(254,219,124)"/><circle cx="323.9" cy="82.7" r="2.05" fill="rgb(254,225,134)"/><circle cx="346.3" cy="79.6" r="2.05" fill="rgb(255,255,204)"/><circle cx="353.4" cy="77.8" r="2.05" fill="rgb(254,211,112)"/><circle cx="347.7" cy="59.1" r="2.05" fill="rgb(239,52,35)"/><circle cx="346.0" cy="81.6" r="2.05" fill="rgb(254,233,153)"/><circle cx="348.4" cy="83.0" r="2.05" fill="rgb(255,240,168)"/><circle cx="402.7" cy="70.6" r="2.05" fill="rgb(254,178,76)"/><circle cx="378.1" cy="67.9" r="2.05" fill="rgb(253,167,71)"/><circle cx="387.9" cy="74.3" r="2.05" fill="rgb(254,205,105)"/><circle cx="367.1" cy="71.1" r="2.05" fill="rgb(254,200,100)"/><circle cx="413.6" cy="59.5" r="2.05" fill="rgb(217,19,30)"/><circle cx="370.4" cy="83.0" r="2.05" fill="rgb(255,248,188)"/><circle cx="339.8" cy="79.2" r="2.05" fill="rgb(254,226,137)"/><circle cx="351.4" cy="63.9" r="2.05" fill="rgb(252,94,46)"/><circle cx="417.0" cy="63.6" r="2.05" fill="rgb(253,148,63)"/><circle cx="419.9" cy="60.6" r="2.05" fill="rgb(253,148,63)"/><circle cx="349.3" cy="73.3" r="2.05" fill="rgb(254,197,96)"/><circle cx="341.3" cy="82.4" r="2.05" fill="rgb(254,230,146)"/><circle cx="330.7" cy="84.9" r="2.05" fill="rgb(255,255,204)"/><circle cx="438.9" cy="64.4" r="2.05" fill="rgb(252,112,51)"/><circle cx="384.0" cy="71.0" r="2.05" fill="rgb(254,213,113)"/><circle cx="341.4" cy="86.0" r="2.05" fill="rgb(255,240,169)"/><circle cx="408.1" cy="74.7" r="2.05" fill="rgb(254,230,145)"/><circle cx="366.4" cy="74.3" r="2.05" fill="rgb(254,222,129)"/><circle cx="361.8" cy="76.2" r="2.05" fill="rgb(254,204,104)"/><circle cx="385.4" cy="54.8" r="2.05" fill="rgb(245,63,38)"/><circle cx="386.8" cy="73.7" r="2.05" fill="rgb(254,202,101)"/><circle cx="323.5" cy="81.0" r="2.05" fill="rgb(254,192,91)"/><circle cx="380.8" cy="55.3" r="2.05" fill="rgb(226,25,28)"/><circle cx="389.0" cy="67.2" r="2.05" fill="rgb(254,209,109)"/><circle cx="370.1" cy="58.9" r="2.05" fill="rgb(248,70,39)"/><circle cx="374.8" cy="77.5" r="2.05" fill="rgb(254,226,137)"/><circle cx="371.9" cy="54.7" r="2.05" fill="rgb(238,49,34)"/><circle cx="366.5" cy="63.2" r="2.05" fill="rgb(252,86,44)"/><circle cx="412.7" cy="55.9" r="2.05" fill="rgb(238,49,34)"/><circle cx="398.1" cy="79.6" r="2.05" fill="rgb(254,219,124)"/><circle cx="419.3" cy="58.3" r="2.05" fill="rgb(205,11,33)"/><circle cx="390.5" cy="60.5" r="2.05" fill="rgb(253,149,63)"/><circle cx="341.0" cy="82.5" r="2.05" fill="rgb(254,226,137)"/><circle cx="370.5" cy="85.4" r="2.05" fill="rgb(255,255,204)"/><circle cx="324.0" cy="86.1" r="2.05" fill="rgb(255,255,204)"/><circle cx="323.6" cy="86.0" r="2.05" fill="rgb(254,208,108)"/><circle cx="409.3" cy="64.8" r="2.05" fill="rgb(253,158,67)"/><circle cx="373.9" cy="58.9" r="2.05" fill="rgb(243,60,37)"/><circle cx="374.8" cy="80.6" r="2.05" fill="rgb(255,243,175)"/><circle cx="392.2" cy="80.7" r="2.05" fill="rgb(254,217,118)"/><circle cx="330.5" cy="82.4" r="2.05" fill="rgb(254,236,159)"/><circle cx="350.7" cy="83.9" r="2.05" fill="rgb(254,230,146)"/><circle cx="394.4" cy="58.4" r="2.05" fill="rgb(252,80,42)"/><circle cx="391.4" cy="72.8" r="2.05" fill="rgb(253,155,66)"/><circle cx="402.7" cy="71.4" r="2.05" fill="rgb(254,226,137)"/><circle cx="416.2" cy="57.0" r="2.05" fill="rgb(252,88,45)"/><circle cx="407.8" cy="67.9" r="2.05" fill="rgb(254,213,113)"/><circle cx="385.5" cy="64.0" r="2.05" fill="rgb(252,96,47)"/><circle cx="351.3" cy="78.0" r="2.05" fill="rgb(254,225,136)"/><circle cx="386.3" cy="65.8" r="2.05" fill="rgb(253,162,69)"/><circle cx="376.4" cy="82.2" r="2.05" fill="rgb(255,252,198)"/><circle cx="356.7" cy="65.1" r="2.05" fill="rgb(253,155,66)"/><circle cx="379.5" cy="63.9" r="2.05" fill="rgb(252,128,56)"/><circle cx="373.8" cy="66.1" r="2.05" fill="rgb(253,165,70)"/><circle cx="409.5" cy="70.3" r="2.05" fill="rgb(254,218,121)"/><circle cx="356.0" cy="82.5" r="2.05" fill="rgb(254,218,121)"/><circle cx="330.8" cy="79.8" r="2.05" fill="rgb(255,238,162)"/><circle cx="407.1" cy="68.0" r="2.05" fill="rgb(253,167,71)"/><circle cx="330.5" cy="76.9" r="2.05" fill="rgb(254,222,129)"/><circle cx="394.6" cy="70.8" r="2.05" fill="rgb(254,209,109)"/><circle cx="371.2" cy="77.4" r="2.05" fill="rgb(254,230,146)"/><circle cx="349.3" cy="86.3" r="2.05" fill="rgb(255,244,179)"/><circle cx="363.5" cy="68.2" r="2.05" fill="rgb(254,191,90)"/><circle cx="412.9" cy="76.2" r="2.05" fill="rgb(254,221,126)"/><circle cx="358.8" cy="79.2" r="2.05" fill="rgb(254,222,129)"/><circle cx="323.9" cy="77.0" r="2.05" fill="rgb(254,220,125)"/><circle cx="360.3" cy="58.0" r="2.05" fill="rgb(228,29,28)"/><circle cx="360.5" cy="76.6" r="2.05" fill="rgb(254,226,137)"/><circle cx="397.6" cy="57.0" r="2.05" fill="rgb(222,22,29)"/><circle cx="377.7" cy="54.6" r="2.05" fill="rgb(236,45,33)"/><circle cx="362.8" cy="72.9" r="2.05" fill="rgb(253,176,75)"/><circle cx="407.6" cy="70.7" r="2.05" fill="rgb(254,218,120)"/><circle cx="376.1" cy="62.7" r="2.05" fill="rgb(252,112,51)"/><circle cx="358.7" cy="68.4" r="2.05" fill="rgb(253,146,62)"/><circle cx="341.1" cy="80.7" r="2.05" fill="rgb(254,232,150)"/><circle cx="346.6" cy="63.4" r="2.05" fill="rgb(253,153,65)"/><circle cx="401.3" cy="80.9" r="2.05" fill="rgb(254,234,154)"/><circle cx="362.4" cy="81.2" r="2.05" fill="rgb(255,247,184)"/><circle cx="373.0" cy="82.1" r="2.05" fill="rgb(255,237,161)"/><circle cx="408.8" cy="56.3" r="2.05" fill="rgb(237,47,33)"/><circle cx="353.0" cy="63.9" r="2.05" fill="rgb(253,143,61)"/><circle cx="396.0" cy="75.9" r="2.05" fill="rgb(254,218,120)"/><circle cx="384.7" cy="73.1" r="2.05" fill="rgb(254,217,118)"/><circle cx="348.1" cy="82.8" r="2.05" fill="rgb(254,218,121)"/><circle cx="362.2" cy="77.9" r="2.05" fill="rgb(254,226,138)"/><circle cx="389.2" cy="72.4" r="2.05" fill="rgb(253,171,73)"/><circle cx="383.2" cy="56.4" r="2.05" fill="rgb(226,25,28)"/><circle cx="361.4" cy="74.5" r="2.05" fill="rgb(254,230,146)"/><circle cx="367.3" cy="54.7" r="2.05" fill="rgb(218,20,30)"/><circle cx="375.9" cy="61.0" r="2.05" fill="rgb(252,88,45)"/><circle cx="347.9" cy="78.2" r="2.05" fill="rgb(254,187,86)"/><circle cx="341.2" cy="84.1" r="2.05" fill="rgb(255,244,177)"/><circle cx="416.1" cy="68.7" r="2.05" fill="rgb(254,186,84)"/><circle cx="388.1" cy="57.1" r="2.05" fill="rgb(252,120,54)"/><circle cx="343.7" cy="86.2" r="2.05" fill="rgb(255,254,202)"/><circle cx="410.2" cy="62.7" r="2.05" fill="rgb(254,184,83)"/><circle cx="372.9" cy="74.7" r="2.05" fill="rgb(254,221,128)"/><circle cx="412.0" cy="59.8" r="2.05" fill="rgb(237,47,33)"/><circle cx="380.9" cy="79.2" r="2.05" fill="rgb(255,245,180)"/><circle cx="419.8" cy="64.6" r="2.05" fill="rgb(254,187,86)"/><circle cx="330.6" cy="84.6" r="2.05" fill="rgb(255,238,163)"/><circle cx="347.7" cy="81.0" r="2.05" fill="rgb(254,225,136)"/><circle cx="387.5" cy="55.0" r="2.05" fill="rgb(211,15,32)"/><circle cx="394.8" cy="55.2" r="2.05" fill="rgb(242,57,36)"/><circle cx="373.4" cy="75.5" r="2.05" fill="rgb(253,157,67)"/><circle cx="369.7" cy="75.8" r="2.05" fill="rgb(254,223,132)"/><circle cx="324.4" cy="72.1" r="2.05" fill="rgb(253,169,72)"/><circle cx="334.8" cy="69.3" r="2.05" fill="rgb(253,146,62)"/><circle cx="381.2" cy="74.4" r="2.05" fill="rgb(254,219,122)"/><circle cx="403.7" cy="55.3" r="2.05" fill="rgb(235,44,32)"/><circle cx="417.7" cy="60.9" r="2.05" fill="rgb(252,104,49)"/><circle cx="352.3" cy="79.7" r="2.05" fill="rgb(254,203,103)"/><circle cx="373.1" cy="80.5" r="2.05" fill="rgb(254,230,146)"/><circle cx="391.4" cy="57.0" r="2.05" fill="rgb(242,57,36)"/><circle cx="385.0" cy="73.2" r="2.05" fill="rgb(254,205,105)"/><circle cx="352.2" cy="85.0" r="2.05" fill="rgb(255,241,170)"/><circle cx="339.4" cy="76.3" r="2.05" fill="rgb(254,223,132)"/><circle cx="345.1" cy="82.1" r="2.05" fill="rgb(254,232,150)"/><circle cx="354.8" cy="69.1" r="2.05" fill="rgb(253,169,72)"/><circle cx="373.5" cy="78.3" r="2.05" fill="rgb(254,224,133)"/><circle cx="419.7" cy="61.0" r="2.05" fill="rgb(252,136,58)"/><circle cx="393.2" cy="55.2" r="2.05" fill="rgb(242,59,36)"/><circle cx="410.8" cy="64.9" r="2.05" fill="rgb(253,170,72)"/><circle cx="387.5" cy="73.2" r="2.05" fill="rgb(254,210,111)"/><circle cx="351.1" cy="76.4" r="2.05" fill="rgb(254,195,95)"/><circle cx="388.6" cy="84.0" r="2.05" fill="rgb(255,250,192)"/><circle cx="347.3" cy="68.7" r="2.05" fill="rgb(253,163,69)"/><circle cx="329.8" cy="84.9" r="2.05" fill="rgb(255,243,176)"/><circle cx="400.5" cy="66.3" r="2.05" fill="rgb(253,174,74)"/><circle cx="415.9" cy="57.7" r="2.05" fill="rgb(252,80,42)"/><circle cx="401.3" cy="69.6" r="2.05" fill="rgb(254,221,128)"/><circle cx="347.3" cy="76.5" r="2.05" fill="rgb(254,217,118)"/><circle cx="413.6" cy="72.8" r="2.05" fill="rgb(255,240,168)"/><circle cx="385.8" cy="69.2" r="2.05" fill="rgb(254,219,124)"/><circle cx="410.1" cy="72.4" r="2.05" fill="rgb(254,221,128)"/><circle cx="335.1" cy="79.9" r="2.05" fill="rgb(254,187,86)"/><circle cx="359.4" cy="84.1" r="2.05" fill="rgb(255,255,204)"/><circle cx="335.1" cy="85.3" r="2.05" fill="rgb(255,247,186)"/><circle cx="388.4" cy="85.8" r="2.05" fill="rgb(255,244,179)"/><circle cx="369.8" cy="72.0" r="2.05" fill="rgb(254,198,97)"/><circle cx="379.8" cy="78.2" r="2.05" fill="rgb(254,220,125)"/><circle cx="413.3" cy="58.9" r="2.05" fill="rgb(221,22,29)"/><circle cx="349.4" cy="85.6" r="2.05" fill="rgb(255,255,204)"/><circle cx="359.5" cy="73.0" r="2.05" fill="rgb(254,193,92)"/><circle cx="342.4" cy="79.1" r="2.05" fill="rgb(254,187,86)"/><circle cx="413.9" cy="64.1" r="2.05" fill="rgb(253,172,73)"/><circle cx="405.3" cy="82.0" r="2.05" fill="rgb(254,236,159)"/><circle cx="392.4" cy="75.3" r="2.05" fill="rgb(254,224,133)"/><circle cx="414.4" cy="74.3" r="2.05" fill="rgb(254,229,144)"/><circle cx="414.0" cy="58.1" r="2.05" fill="rgb(252,88,45)"/><circle cx="366.8" cy="72.2" r="2.05" fill="rgb(254,221,128)"/><circle cx="399.8" cy="70.0" r="2.05" fill="rgb(253,174,74)"/><circle cx="378.9" cy="65.6" r="2.05" fill="rgb(252,136,58)"/><circle cx="323.5" cy="84.1" r="2.05" fill="rgb(254,218,121)"/><circle cx="386.6" cy="71.4" r="2.05" fill="rgb(254,184,83)"/><circle cx="362.8" cy="71.6" r="2.05" fill="rgb(254,189,88)"/><circle cx="392.8" cy="65.4" r="2.05" fill="rgb(253,169,72)"/><circle cx="374.9" cy="72.4" r="2.05" fill="rgb(254,183,82)"/><circle cx="402.0" cy="55.4" r="2.05" fill="rgb(236,45,33)"/><circle cx="374.1" cy="79.1" r="2.05" fill="rgb(254,230,146)"/><circle cx="379.2" cy="73.6" r="2.05" fill="rgb(254,204,104)"/><circle cx="365.5" cy="75.0" r="2.05" fill="rgb(254,216,117)"/><circle cx="368.9" cy="85.9" r="2.05" fill="rgb(255,255,204)"/><circle cx="335.4" cy="85.3" r="2.05" fill="rgb(254,233,151)"/><circle cx="395.6" cy="63.3" r="2.05" fill="rgb(252,96,47)"/><circle cx="324.3" cy="81.3" r="2.05" fill="rgb(254,231,147)"/><circle cx="412.4" cy="77.1" r="2.05" fill="rgb(254,228,142)"/><circle cx="401.8" cy="73.0" r="2.05" fill="rgb(254,223,130)"/><circle cx="365.2" cy="78.7" r="2.05" fill="rgb(254,226,138)"/><circle cx="368.1" cy="81.7" r="2.05" fill="rgb(255,242,173)"/><circle cx="354.4" cy="69.0" r="2.05" fill="rgb(254,187,86)"/><circle cx="342.7" cy="70.3" r="2.05" fill="rgb(254,188,87)"/><circle cx="323.5" cy="84.2" r="2.05" fill="rgb(255,244,179)"/><circle cx="405.2" cy="57.9" r="2.05" fill="rgb(229,31,29)"/><circle cx="346.1" cy="78.3" r="2.05" fill="rgb(254,198,97)"/><circle cx="345.0" cy="75.3" r="2.05" fill="rgb(254,215,116)"/><circle cx="341.5" cy="86.0" r="2.05" fill="rgb(255,255,204)"/><circle cx="363.9" cy="74.7" r="2.05" fill="rgb(254,202,101)"/><circle cx="380.8" cy="70.0" r="2.05" fill="rgb(253,158,67)"/><circle cx="324.0" cy="85.9" r="2.05" fill="rgb(254,198,97)"/><circle cx="378.8" cy="76.6" r="2.05" fill="rgb(254,221,126)"/><circle cx="356.2" cy="72.3" r="2.05" fill="rgb(254,203,103)"/><circle cx="360.9" cy="74.2" r="2.05" fill="rgb(254,211,112)"/><circle cx="386.8" cy="81.3" r="2.05" fill="rgb(254,230,145)"/><circle cx="411.7" cy="60.0" r="2.05" fill="rgb(253,150,64)"/><circle cx="368.1" cy="64.5" r="2.05" fill="rgb(252,136,58)"/><circle cx="334.8" cy="74.3" r="2.05" fill="rgb(254,197,96)"/><circle cx="330.3" cy="68.9" r="2.05" fill="rgb(254,187,86)"/><circle cx="324.6" cy="82.2" r="2.05" fill="rgb(255,255,204)"/><circle cx="365.2" cy="80.5" r="2.05" fill="rgb(254,233,151)"/><circle cx="396.8" cy="69.0" r="2.05" fill="rgb(253,172,73)"/><circle cx="383.8" cy="75.1" r="2.05" fill="rgb(254,235,157)"/><circle cx="413.4" cy="74.5" r="2.05" fill="rgb(254,204,104)"/><circle cx="356.8" cy="75.4" r="2.05" fill="rgb(254,208,108)"/><circle cx="415.3" cy="55.6" r="2.05" fill="rgb(244,62,37)"/><circle cx="431.2" cy="65.0" r="2.05" fill="rgb(254,203,103)"/><circle cx="330.6" cy="74.4" r="2.05" fill="rgb(253,158,67)"/><circle cx="382.5" cy="71.9" r="2.05" fill="rgb(254,219,122)"/><circle cx="346.3" cy="79.6" r="2.05" fill="rgb(254,219,124)"/><circle cx="360.5" cy="78.0" r="2.05" fill="rgb(254,219,124)"/><circle cx="405.5" cy="65.1" r="2.05" fill="rgb(254,188,87)"/><circle cx="383.9" cy="73.7" r="2.05" fill="rgb(254,213,113)"/><circle cx="408.8" cy="57.0" r="2.05" fill="rgb(237,47,33)"/><circle cx="330.9" cy="81.8" r="2.05" fill="rgb(254,230,145)"/><circle cx="409.2" cy="63.3" r="2.05" fill="rgb(253,153,65)"/><circle cx="419.6" cy="57.8" r="2.05" fill="rgb(209,13,32)"/><circle cx="342.9" cy="71.5" r="2.05" fill="rgb(254,182,80)"/><circle cx="366.9" cy="71.2" r="2.05" fill="rgb(253,177,75)"/><circle cx="364.8" cy="76.4" r="2.05" fill="rgb(254,197,96)"/><circle cx="374.2" cy="67.1" r="2.05" fill="rgb(254,199,99)"/><circle cx="323.9" cy="82.7" r="2.05" fill="rgb(255,238,163)"/><circle cx="346.0" cy="60.6" r="2.05" fill="rgb(224,24,28)"/><circle cx="355.9" cy="77.9" r="2.05" fill="rgb(254,229,144)"/><circle cx="401.4" cy="70.6" r="2.05" fill="rgb(254,193,92)"/><circle cx="341.1" cy="84.2" r="2.05" fill="rgb(254,229,144)"/><circle cx="366.6" cy="67.3" r="2.05" fill="rgb(253,161,68)"/><circle cx="414.6" cy="59.3" r="2.05" fill="rgb(230,32,29)"/><circle cx="370.0" cy="70.3" r="2.05" fill="rgb(254,193,92)"/><circle cx="407.4" cy="67.9" r="2.05" fill="rgb(254,197,96)"/><circle cx="352.2" cy="71.1" r="2.05" fill="rgb(254,187,86)"/><circle cx="344.7" cy="78.3" r="2.05" fill="rgb(254,214,115)"/><circle cx="340.6" cy="72.4" r="2.05" fill="rgb(254,200,100)"/><circle cx="357.3" cy="75.4" r="2.05" fill="rgb(254,211,112)"/><circle cx="360.8" cy="77.5" r="2.05" fill="rgb(254,231,149)"/><circle cx="324.6" cy="83.7" r="2.05" fill="rgb(254,236,158)"/><circle cx="416.8" cy="57.2" r="2.05" fill="rgb(231,36,30)"/><circle cx="339.6" cy="79.5" r="2.05" fill="rgb(254,191,90)"/><circle cx="385.9" cy="74.1" r="2.05" fill="rgb(254,223,132)"/><circle cx="375.7" cy="57.2" r="2.05" fill="rgb(207,12,33)"/><circle cx="342.8" cy="78.0" r="2.05" fill="rgb(254,217,118)"/><circle cx="369.4" cy="64.3" r="2.05" fill="rgb(254,184,83)"/><circle cx="380.2" cy="72.6" r="2.05" fill="rgb(254,203,103)"/><circle cx="389.4" cy="80.1" r="2.05" fill="rgb(255,239,166)"/><circle cx="349.0" cy="57.0" r="2.05" fill="rgb(232,37,31)"/><circle cx="359.8" cy="84.5" r="2.05" fill="rgb(254,227,140)"/><circle cx="351.6" cy="72.0" r="2.05" fill="rgb(254,195,95)"/><circle cx="346.5" cy="67.3" r="2.05" fill="rgb(252,122,54)"/><circle cx="329.9" cy="83.2" r="2.05" fill="rgb(255,255,204)"/><circle cx="376.6" cy="71.0" r="2.05" fill="rgb(254,206,107)"/><circle cx="391.2" cy="84.8" r="2.05" fill="rgb(254,236,158)"/><circle cx="323.3" cy="80.7" r="2.05" fill="rgb(254,179,78)"/><circle cx="385.4" cy="74.3" r="2.05" fill="rgb(253,168,71)"/><circle cx="369.2" cy="56.2" r="2.05" fill="rgb(241,55,36)"/><circle cx="395.0" cy="57.9" r="2.05" fill="rgb(252,80,42)"/><circle cx="410.2" cy="66.6" r="2.05" fill="rgb(254,184,83)"/><circle cx="426.2" cy="75.0" r="2.05" fill="rgb(228,29,28)"/><circle cx="380.1" cy="75.5" r="2.05" fill="rgb(254,217,118)"/><circle cx="334.9" cy="76.9" r="2.05" fill="rgb(254,219,124)"/><circle cx="350.6" cy="86.3" r="2.05" fill="rgb(255,243,175)"/><circle cx="343.1" cy="86.1" r="2.05" fill="rgb(255,249,191)"/><circle cx="383.0" cy="65.5" r="2.05" fill="rgb(254,189,88)"/><circle cx="375.3" cy="75.6" r="2.05" fill="rgb(254,219,122)"/><circle cx="369.9" cy="76.3" r="2.05" fill="rgb(254,222,129)"/><circle cx="355.9" cy="66.6" r="2.05" fill="rgb(253,164,70)"/><circle cx="356.4" cy="74.1" r="2.05" fill="rgb(254,205,105)"/><circle cx="409.6" cy="55.7" r="2.05" fill="rgb(253,142,60)"/><circle cx="371.0" cy="65.3" r="2.05" fill="rgb(254,204,104)"/><circle cx="347.9" cy="71.7" r="2.05" fill="rgb(254,181,79)"/><circle cx="346.4" cy="77.2" r="2.05" fill="rgb(254,205,105)"/><circle cx="375.1" cy="74.3" r="2.05" fill="rgb(254,204,104)"/><circle cx="411.9" cy="62.3" r="2.05" fill="rgb(252,114,52)"/><circle cx="341.6" cy="85.0" r="2.05" fill="rgb(255,246,183)"/><circle cx="396.1" cy="69.3" r="2.05" fill="rgb(254,210,111)"/><circle cx="387.7" cy="79.2" r="2.05" fill="rgb(254,228,142)"/><circle cx="414.4" cy="67.2" r="2.05" fill="rgb(254,183,82)"/><circle cx="372.3" cy="60.9" r="2.05" fill="rgb(252,88,45)"/><circle cx="391.4" cy="54.4" r="2.05" fill="rgb(252,102,48)"/><circle cx="404.9" cy="55.7" r="2.05" fill="rgb(240,54,35)"/><circle cx="344.2" cy="66.2" r="2.05" fill="rgb(253,142,60)"/><circle cx="383.2" cy="70.1" r="2.05" fill="rgb(254,216,117)"/><circle cx="370.6" cy="80.0" r="2.05" fill="rgb(255,241,170)"/><circle cx="369.6" cy="81.8" r="2.05" fill="rgb(254,214,115)"/><circle cx="347.0" cy="84.0" r="2.05" fill="rgb(255,243,176)"/><circle cx="342.3" cy="71.0" r="2.05" fill="rgb(253,168,71)"/><circle cx="362.8" cy="83.6" r="2.05" fill="rgb(254,235,155)"/><circle cx="315.7" cy="85.6" r="2.05" fill="rgb(254,233,153)"/><circle cx="342.1" cy="72.2" r="2.05" fill="rgb(254,197,96)"/><circle cx="353.7" cy="79.3" r="2.05" fill="rgb(254,223,132)"/><circle cx="344.4" cy="84.9" r="2.05" fill="rgb(255,252,198)"/><circle cx="397.1" cy="69.9" r="2.05" fill="rgb(254,218,120)"/><circle cx="415.3" cy="65.9" r="2.05" fill="rgb(253,160,68)"/><circle cx="347.3" cy="57.4" r="2.05" fill="rgb(244,62,37)"/><circle cx="342.7" cy="79.6" r="2.05" fill="rgb(254,233,151)"/><circle cx="347.9" cy="82.8" r="2.05" fill="rgb(254,228,141)"/><circle cx="340.9" cy="82.9" r="2.05" fill="rgb(254,225,136)"/><circle cx="376.4" cy="60.0" r="2.05" fill="rgb(253,149,63)"/><circle cx="400.7" cy="57.0" r="2.05" fill="rgb(242,57,36)"/><circle cx="350.4" cy="84.6" r="2.05" fill="rgb(255,255,204)"/><circle cx="395.6" cy="76.0" r="2.05" fill="rgb(254,219,124)"/><circle cx="404.8" cy="60.8" r="2.05" fill="rgb(253,155,66)"/><circle cx="375.3" cy="71.3" r="2.05" fill="rgb(254,178,76)"/><circle cx="384.8" cy="74.4" r="2.05" fill="rgb(254,219,124)"/><circle cx="354.9" cy="78.2" r="2.05" fill="rgb(254,213,113)"/><circle cx="360.3" cy="84.4" r="2.05" fill="rgb(254,224,133)"/><circle cx="357.6" cy="73.7" r="2.05" fill="rgb(254,200,100)"/><circle cx="378.0" cy="78.9" r="2.05" fill="rgb(254,226,137)"/><circle cx="376.6" cy="64.4" r="2.05" fill="rgb(253,148,63)"/><circle cx="388.3" cy="67.6" r="2.05" fill="rgb(253,149,63)"/><circle cx="396.4" cy="76.0" r="2.05" fill="rgb(254,216,117)"/><circle cx="341.7" cy="84.3" r="2.05" fill="rgb(255,239,166)"/><circle cx="364.4" cy="74.9" r="2.05" fill="rgb(254,195,95)"/><circle cx="324.3" cy="81.5" r="2.05" fill="rgb(254,226,138)"/><circle cx="417.8" cy="59.8" r="2.05" fill="rgb(253,167,71)"/><circle cx="387.0" cy="54.4" r="2.05" fill="rgb(239,52,35)"/><circle cx="388.5" cy="56.3" r="2.05" fill="rgb(252,114,52)"/><circle cx="358.0" cy="71.7" r="2.05" fill="rgb(254,206,107)"/><circle cx="385.2" cy="63.1" r="2.05" fill="rgb(246,65,38)"/><circle cx="397.9" cy="78.1" r="2.05" fill="rgb(255,247,184)"/><circle cx="357.0" cy="83.5" r="2.05" fill="rgb(255,244,179)"/><circle cx="374.2" cy="77.1" r="2.05" fill="rgb(254,222,129)"/><circle cx="358.2" cy="70.6" r="2.05" fill="rgb(254,205,105)"/><circle cx="409.2" cy="66.0" r="2.05" fill="rgb(254,183,82)"/><circle cx="383.2" cy="55.6" r="2.05" fill="rgb(202,9,34)"/><circle cx="344.1" cy="79.3" r="2.05" fill="rgb(254,228,141)"/><circle cx="380.7" cy="68.9" r="2.05" fill="rgb(254,208,108)"/><circle cx="388.9" cy="80.0" r="2.05" fill="rgb(255,252,198)"/><circle cx="385.9" cy="69.3" r="2.05" fill="rgb(253,149,63)"/><circle cx="382.8" cy="63.2" r="2.05" fill="rgb(253,154,65)"/><circle cx="335.0" cy="70.6" r="2.05" fill="rgb(254,183,82)"/><circle cx="341.7" cy="84.4" r="2.05" fill="rgb(255,255,204)"/><circle cx="390.6" cy="82.1" r="2.05" fill="rgb(255,251,195)"/><circle cx="400.2" cy="56.3" r="2.05" fill="rgb(208,13,32)"/><circle cx="350.9" cy="74.2" r="2.05" fill="rgb(254,183,82)"/><circle cx="364.2" cy="76.9" r="2.05" fill="rgb(254,221,128)"/><circle cx="374.1" cy="67.4" r="2.05" fill="rgb(252,126,55)"/><circle cx="381.0" cy="55.4" r="2.05" fill="rgb(197,5,35)"/><circle cx="384.4" cy="72.8" r="2.05" fill="rgb(254,186,84)"/><circle cx="324.0" cy="74.7" r="2.05" fill="rgb(254,189,88)"/><circle cx="392.9" cy="83.5" r="2.05" fill="rgb(255,247,184)"/><circle cx="385.6" cy="54.7" r="2.05" fill="rgb(244,62,37)"/><circle cx="383.0" cy="68.9" r="2.05" fill="rgb(254,208,108)"/><circle cx="348.9" cy="79.3" r="2.05" fill="rgb(254,221,126)"/><circle cx="404.4" cy="73.1" r="2.05" fill="rgb(254,228,141)"/><circle cx="368.9" cy="71.9" r="2.05" fill="rgb(254,206,107)"/><circle cx="330.4" cy="84.7" r="2.05" fill="rgb(255,255,204)"/><circle cx="351.4" cy="75.6" r="2.05" fill="rgb(254,219,122)"/><circle cx="407.8" cy="84.6" r="2.05" fill="rgb(255,239,165)"/><circle cx="344.1" cy="80.4" r="2.05" fill="rgb(254,221,126)"/><circle cx="409.2" cy="76.1" r="2.05" fill="rgb(254,194,93)"/><circle cx="363.0" cy="71.1" r="2.05" fill="rgb(254,197,96)"/><circle cx="388.4" cy="73.3" r="2.05" fill="rgb(254,195,95)"/><circle cx="392.8" cy="54.2" r="2.05" fill="rgb(226,25,28)"/><circle cx="395.9" cy="67.3" r="2.05" fill="rgb(254,186,84)"/><circle cx="362.0" cy="66.5" r="2.05" fill="rgb(253,143,61)"/><circle cx="378.0" cy="78.4" r="2.05" fill="rgb(254,208,108)"/><circle cx="323.9" cy="74.4" r="2.05" fill="rgb(254,218,120)"/><circle cx="397.0" cy="59.4" r="2.05" fill="rgb(215,18,31)"/><circle cx="373.5" cy="73.0" r="2.05" fill="rgb(254,218,121)"/><circle cx="359.1" cy="85.0" r="2.05" fill="rgb(255,250,192)"/><circle cx="422.0" cy="68.5" r="2.05" fill="rgb(190,0,37)"/><circle cx="357.1" cy="84.4" r="2.05" fill="rgb(255,255,204)"/><circle cx="344.8" cy="82.0" r="2.05" fill="rgb(255,255,204)"/><circle cx="392.0" cy="64.4" r="2.05" fill="rgb(253,157,67)"/><circle cx="375.3" cy="76.3" r="2.05" fill="rgb(255,238,163)"/><circle cx="344.7" cy="81.7" r="2.05" fill="rgb(255,245,180)"/><circle cx="340.3" cy="78.5" r="2.05" fill="rgb(254,220,125)"/><circle cx="371.5" cy="65.6" r="2.05" fill="rgb(253,145,61)"/><circle cx="392.1" cy="69.6" r="2.05" fill="rgb(253,163,69)"/><circle cx="417.3" cy="63.3" r="2.05" fill="rgb(253,161,68)"/><circle cx="351.4" cy="68.1" r="2.05" fill="rgb(253,157,67)"/><circle cx="343.7" cy="70.7" r="2.05" fill="rgb(253,176,75)"/><circle cx="412.7" cy="65.9" r="2.05" fill="rgb(254,179,78)"/><circle cx="366.1" cy="58.7" r="2.05" fill="rgb(245,63,38)"/><circle cx="406.3" cy="54.7" r="2.05" fill="rgb(229,31,29)"/><circle cx="402.4" cy="68.3" r="2.05" fill="rgb(253,161,68)"/><circle cx="407.0" cy="82.5" r="2.05" fill="rgb(254,235,155)"/><circle cx="357.8" cy="60.0" r="2.05" fill="rgb(249,73,40)"/><circle cx="383.0" cy="58.2" r="2.05" fill="rgb(252,92,46)"/><circle cx="408.8" cy="74.4" r="2.05" fill="rgb(254,206,107)"/><circle cx="330.3" cy="70.8" r="2.05" fill="rgb(254,181,79)"/><circle cx="348.8" cy="75.9" r="2.05" fill="rgb(254,191,90)"/><circle cx="391.7" cy="57.9" r="2.05" fill="rgb(242,57,36)"/><circle cx="382.2" cy="80.0" r="2.05" fill="rgb(254,223,130)"/><circle cx="381.7" cy="70.4" r="2.05" fill="rgb(254,206,107)"/><circle cx="374.1" cy="60.2" r="2.05" fill="rgb(252,96,47)"/><circle cx="345.1" cy="58.9" r="2.05" fill="rgb(242,59,36)"/><circle cx="366.9" cy="75.5" r="2.05" fill="rgb(254,202,101)"/><circle cx="387.6" cy="79.7" r="2.05" fill="rgb(254,209,109)"/><circle cx="397.8" cy="77.4" r="2.05" fill="rgb(255,242,173)"/><circle cx="408.1" cy="75.7" r="2.05" fill="rgb(254,220,125)"/><circle cx="366.1" cy="84.5" r="2.05" fill="rgb(255,241,170)"/><circle cx="383.3" cy="54.5" r="2.05" fill="rgb(245,63,38)"/><circle cx="330.4" cy="78.4" r="2.05" fill="rgb(254,186,84)"/><circle cx="403.0" cy="56.1" r="2.05" fill="rgb(240,54,35)"/><circle cx="311.1" cy="80.0" r="2.05" fill="rgb(253,157,67)"/><circle cx="417.4" cy="67.8" r="2.05" fill="rgb(254,191,90)"/></g><line x1="290.4" y1="150.55" x2="453.5" y2="15.65" stroke="#000" stroke-width="0.9" stroke-dasharray="2.7 1.2"/><line x1="299.2" y1="77.7" x2="439.2" y2="59.0" stroke="#0000ff" stroke-width="0.9"/><text x="307.00" y="104.15" font-size="7.11" textLength="71.65" lengthAdjust="spacingAndGlyphs" fill="#0000ff" stroke="#0000ff" stroke-width="0.07">y=4.6e-02x+2.6e-05</text><text x="360.40" y="117.60" font-size="7.11" textLength="52.50" lengthAdjust="spacingAndGlyphs" fill="#000" stroke="#000" stroke-width="0.07">bias=-3.32e-05</text><text x="360.40" y="124.93" font-size="7.11" textLength="59.35" lengthAdjust="spacingAndGlyphs" fill="#000" stroke="#000" stroke-width="0.07">c-rmse=5.78e-05</text><text x="360.40" y="132.26" font-size="7.11" textLength="48.97" lengthAdjust="spacingAndGlyphs" fill="#000" stroke="#000" stroke-width="0.07">r²=0.11 (0.43)</text><rect x="290.4" y="15.65" width="163.1" height="134.9" fill="none" stroke="#000" stroke-width="0.75"/><path d="M290.40 150.55v2.38M297.41 150.55v1.36M301.52 150.55v1.36M304.43 150.55v1.36M306.69 150.55v1.36M308.53 150.55v1.36M310.09 150.55v1.36M311.44 150.55v1.36M312.63 150.55v1.36M313.70 150.55v2.38M320.71 150.55v1.36M324.82 150.55v1.36M327.73 150.55v1.36M329.99 150.55v1.36M331.83 150.55v1.36M333.39 150.55v1.36M334.74 150.55v1.36M335.93 150.55v1.36M337.00 150.55v2.38M344.01 150.55v1.36M348.12 150.55v1.36M351.03 150.55v1.36M353.29 150.55v1.36M355.13 150.55v1.36M356.69 150.55v1.36M358.04 150.55v1.36M359.23 150.55v1.36M360.30 150.55v2.38M367.31 150.55v1.36M371.42 150.55v1.36M374.33 150.55v1.36M376.59 150.55v1.36M378.43 150.55v1.36M379.99 150.55v1.36M381.34 150.55v1.36M382.53 150.55v1.36M383.60 150.55v2.38M390.61 150.55v1.36M394.72 150.55v1.36M397.63 150.55v1.36M399.89 150.55v1.36M401.73 150.55v1.36M403.29 150.55v1.36M404.64 150.55v1.36M405.83 150.55v1.36M406.90 150.55v2.38M413.91 150.55v1.36M418.02 150.55v1.36M420.93 150.55v1.36M423.19 150.55v1.36M425.03 150.55v1.36M426.59 150.55v1.36M427.94 150.55v1.36M429.13 150.55v1.36M430.20 150.55v2.38M437.21 150.55v1.36M441.32 150.55v1.36M444.23 150.55v1.36M446.49 150.55v1.36M448.33 150.55v1.36M449.89 150.55v1.36M451.24 150.55v1.36M452.43 150.55v1.36M453.50 150.55v2.38M290.40 150.55h-2.38M290.40 144.75h-1.36M290.40 141.36h-1.36M290.40 138.95h-1.36M290.40 137.08h-1.36M290.40 135.55h-1.36M290.40 134.26h-1.36M290.40 133.15h-1.36M290.40 132.16h-1.36M290.40 131.28h-2.38M290.40 125.48h-1.36M290.40 122.08h-1.36M290.40 119.68h-1.36M290.40 117.81h-1.36M290.40 116.28h-1.36M290.40 114.99h-1.36M290.40 113.87h-1.36M290.40 112.89h-1.36M290.40 112.01h-2.38M290.40 106.21h-1.36M290.40 102.81h-1.36M290.40 100.40h-1.36M290.40 98.54h-1.36M290.40 97.01h-1.36M290.40 95.72h-1.36M290.40 94.60h-1.36M290.40 93.62h-1.36M290.40 92.74h-2.38M290.40 86.93h-1.36M290.40 83.54h-1.36M290.40 81.13h-1.36M290.40 79.27h-1.36M290.40 77.74h-1.36M290.40 76.45h-1.36M290.40 75.33h-1.36M290.40 74.35h-1.36M290.40 73.46h-2.38M290.40 67.66h-1.36M290.40 64.27h-1.36M290.40 61.86h-1.36M290.40 59.99h-1.36M290.40 58.47h-1.36M290.40 57.18h-1.36M290.40 56.06h-1.36M290.40 55.07h-1.36M290.40 54.19h-2.38M290.40 48.39h-1.36M290.40 45.00h-1.36M290.40 42.59h-1.36M290.40 40.72h-1.36M290.40 39.20h-1.36M290.40 37.91h-1.36M290.40 36.79h-1.36M290.40 35.80h-1.36M290.40 34.92h-2.38M290.40 29.12h-1.36M290.40 25.73h-1.36M290.40 23.32h-1.36M290.40 21.45h-1.36M290.40 19.93h-1.36M290.40 18.64h-1.36M290.40 17.52h-1.36M290.40 16.53h-1.36M290.40 15.65h-2.38" stroke="#000" stroke-width="0.55" fill="none"/><text x="282.57" y="160.95" font-size="7.11" textLength="8.65" lengthAdjust="spacingAndGlyphs" fill="#000" stroke="#000" stroke-width="0.07">10</text><text x="291.22" y="158.35" font-size="4.97" textLength="7.02" lengthAdjust="spacingAndGlyphs" fill="#000" stroke="#000" stroke-width="0.07">−9</text><text x="329.17" y="160.95" font-size="7.11" textLength="8.65" lengthAdjust="spacingAndGlyphs" fill="#000" stroke="#000" stroke-width="0.07">10</text><text x="337.82" y="158.35" font-size="4.97" textLength="7.02" lengthAdjust="spacingAndGlyphs" fill="#000" stroke="#000" stroke-width="0.07">−7</text><text x="375.77" y="160.95" font-size="7.11" textLength="8.65" lengthAdjust="spacingAndGlyphs" fill="#000" stroke="#000" stroke-width="0.07">10</text><text x="384.42" y="158.35" font-size="4.97" textLength="7.02" lengthAdjust="spacingAndGlyphs" fill="#000" stroke="#000" stroke-width="0.07">−5</text><text x="422.37" y="160.95" font-size="7.11" textLength="8.65" lengthAdjust="spacingAndGlyphs" fill="#000" stroke="#000" stroke-width="0.07">10</text><text x="431.02" y="158.35" font-size="4.97" textLength="7.02" lengthAdjust="spacingAndGlyphs" fill="#000" stroke="#000" stroke-width="0.07">−3</text><text x="269.97" y="153.15" font-size="7.11" textLength="8.65" lengthAdjust="spacingAndGlyphs" fill="#000" stroke="#000" stroke-width="0.07">10</text><text x="278.62" y="150.55" font-size="4.97" textLength="7.02" lengthAdjust="spacingAndGlyphs" fill="#000" stroke="#000" stroke-width="0.07">−9</text><text x="269.97" y="133.88" font-size="7.11" textLength="8.65" lengthAdjust="spacingAndGlyphs" fill="#000" stroke="#000" stroke-width="0.07">10</text><text x="278.62" y="131.28" font-size="4.97" textLength="7.02" lengthAdjust="spacingAndGlyphs" fill="#000" stroke="#000" stroke-width="0.07">−8</text><text x="269.97" y="114.61" font-size="7.11" textLength="8.65" lengthAdjust="spacingAndGlyphs" fill="#000" stroke="#000" stroke-width="0.07">10</text><text x="278.62" y="112.01" font-size="4.97" textLength="7.02" lengthAdjust="spacingAndGlyphs" fill="#000" stroke="#000" stroke-width="0.07">−7</text><text x="269.97" y="95.34" font-size="7.11" textLength="8.65" lengthAdjust="spacingAndGlyphs" fill="#000" stroke="#000" stroke-width="0.07">10</text><text x="278.62" y="92.74" font-size="4.97" textLength="7.02" lengthAdjust="spacingAndGlyphs" fill="#000" stroke="#000" stroke-width="0.07">−6</text><text x="269.97" y="76.06" font-size="7.11" textLength="8.65" lengthAdjust="spacingAndGlyphs" fill="#000" stroke="#000" stroke-width="0.07">10</text><text x="278.62" y="73.46" font-size="4.97" textLength="7.02" lengthAdjust="spacingAndGlyphs" fill="#000" stroke="#000" stroke-width="0.07">−5</text><text x="269.97" y="56.79" font-size="7.11" textLength="8.65" lengthAdjust="spacingAndGlyphs" fill="#000" stroke="#000" stroke-width="0.07">10</text><text x="278.62" y="54.19" font-size="4.97" textLength="7.02" lengthAdjust="spacingAndGlyphs" fill="#000" stroke="#000" stroke-width="0.07">−4</text><text x="269.97" y="37.52" font-size="7.11" textLength="8.65" lengthAdjust="spacingAndGlyphs" fill="#000" stroke="#000" stroke-width="0.07">10</text><text x="278.62" y="34.92" font-size="4.97" textLength="7.02" lengthAdjust="spacingAndGlyphs" fill="#000" stroke="#000" stroke-width="0.07">−3</text><text x="269.97" y="18.25" font-size="7.11" textLength="8.65" lengthAdjust="spacingAndGlyphs" fill="#000" stroke="#000" stroke-width="0.07">10</text><text x="278.62" y="15.65" font-size="4.97" textLength="7.02" lengthAdjust="spacingAndGlyphs" fill="#000" stroke="#000" stroke-width="0.07">−2</text><text x="290.40" y="11.57" font-size="8.53" textLength="129.84" lengthAdjust="spacingAndGlyphs" fill="#000" stroke="#000" stroke-width="0.03" font-weight="bold">b) Lawrence &amp; Slater (2008)</text><defs><linearGradient id="g46415" x1="0" y1="0" x2="0" y2="1"><stop offset="0.000" stop-color="rgb(128,0,38)"/><stop offset="0.050" stop-color="rgb(150,0,38)"/><stop offset="0.100" stop-color="rgb(175,0,38)"/><stop offset="0.150" stop-color="rgb(196,4,36)"/><stop offset="0.200" stop-color="rgb(211,15,32)"/><stop offset="0.250" stop-color="rgb(226,25,28)"/><stop offset="0.300" stop-color="rgb(236,45,33)"/><stop offset="0.350" stop-color="rgb(246,67,39)"/><stop offset="0.400" stop-color="rgb(252,90,45)"/><stop offset="0.450" stop-color="rgb(252,116,52)"/><stop offset="0.500" stop-color="rgb(252,140,59)"/><stop offset="0.550" stop-color="rgb(253,155,66)"/><stop offset="0.600" stop-color="rgb(253,170,72)"/><stop offset="0.650" stop-color="rgb(254,186,84)"/><stop offset="0.700" stop-color="rgb(254,202,101)"/><stop offset="0.750" stop-color="rgb(254,216,117)"/><stop offset="0.800" stop-color="rgb(254,225,134)"/><stop offset="0.850" stop-color="rgb(254,233,151)"/><stop offset="0.900" stop-color="rgb(255,240,169)"/><stop offset="0.950" stop-color="rgb(255,248,187)"/><stop offset="1.000" stop-color="rgb(255,255,204)"/></linearGradient></defs><rect x="464.1" y="15.65" width="6.6" height="134.9" fill="url(#g46415)" stroke="#000" stroke-width="0.55"/><path d="M470.70 150.55h2.38M470.70 100.57h2.38M470.70 50.59h2.38M470.70 15.65h2.38M470.70 135.50h1.36M470.70 126.70h1.36M470.70 120.46h1.36M470.70 115.61h1.36M470.70 111.66h1.36M470.70 108.31h1.36M470.70 105.41h1.36M470.70 102.86h1.36M470.70 85.52h1.36M470.70 76.72h1.36M470.70 70.48h1.36M470.70 65.63h1.36M470.70 61.67h1.36M470.70 58.33h1.36M470.70 55.43h1.36M470.70 52.87h1.36M470.70 35.54h1.36M470.70 26.74h1.36M470.70 20.49h1.36" stroke="#000" stroke-width="0.55" fill="none"/><text x="475.46" y="153.05" font-size="7.11" textLength="10.81" lengthAdjust="spacingAndGlyphs" fill="#000" stroke="#000" stroke-width="0.07">0.1</text><text x="475.46" y="103.07" font-size="7.11" textLength="4.33" lengthAdjust="spacingAndGlyphs" fill="#000" stroke="#000" stroke-width="0.07">1</text><text x="475.46" y="53.09" font-size="7.11" textLength="8.65" lengthAdjust="spacingAndGlyphs" fill="#000" stroke="#000" stroke-width="0.07">10</text><text x="475.46" y="18.15" font-size="7.11" textLength="8.65" lengthAdjust="spacingAndGlyphs" fill="#000" stroke="#000" stroke-width="0.07">50</text><text x="465.47" y="83.10" font-size="7.11" textLength="57.66" lengthAdjust="spacingAndGlyphs" fill="#000" stroke="#000" stroke-width="0.07" transform="rotate(-90 494.30 83.10)">SOM content (%)</text><defs><clipPath id="c2"><rect x="36.15" y="191.3" width="163.1" height="134.4"/></clipPath></defs><g clip-path="url(#c2)" stroke="#000" stroke-opacity="0.5" stroke-width="0.22" fill-opacity="0.72"><circle cx="80.5" cy="237.3" r="2.05" fill="rgb(254,181,79)"/><circle cx="147.9" cy="234.6" r="2.05" fill="rgb(244,62,37)"/><circle cx="157.6" cy="244.0" r="2.05" fill="rgb(220,21,29)"/><circle cx="111.6" cy="245.1" r="2.05" fill="rgb(255,238,163)"/><circle cx="119.6" cy="248.3" r="2.05" fill="rgb(254,203,103)"/><circle cx="105.2" cy="260.4" r="2.05" fill="rgb(232,37,31)"/><circle cx="113.1" cy="252.2" r="2.05" fill="rgb(254,202,101)"/><circle cx="80.5" cy="264.6" r="2.05" fill="rgb(255,244,179)"/><circle cx="119.6" cy="262.8" r="2.05" fill="rgb(254,209,109)"/><circle cx="106.9" cy="248.0" r="2.05" fill="rgb(254,181,79)"/><circle cx="165.3" cy="231.5" r="2.05" fill="rgb(250,75,41)"/><circle cx="110.1" cy="243.9" r="2.05" fill="rgb(253,143,61)"/><circle cx="69.8" cy="254.5" r="2.05" fill="rgb(254,219,124)"/><circle cx="150.4" cy="260.3" r="2.05" fill="rgb(237,47,33)"/><circle cx="88.1" cy="257.2" r="2.05" fill="rgb(254,187,86)"/><circle cx="92.8" cy="263.3" r="2.05" fill="rgb(253,149,63)"/><circle cx="134.3" cy="258.2" r="2.05" fill="rgb(252,82,43)"/><circle cx="143.1" cy="236.5" r="2.05" fill="rgb(241,55,36)"/><circle cx="91.5" cy="258.3" r="2.05" fill="rgb(253,165,70)"/><circle cx="105.5" cy="238.0" r="2.05" fill="rgb(254,202,101)"/><circle cx="154.1" cy="251.1" r="2.05" fill="rgb(253,177,75)"/><circle cx="155.6" cy="244.9" r="2.05" fill="rgb(254,230,145)"/><circle cx="132.2" cy="230.7" r="2.05" fill="rgb(252,98,47)"/><circle cx="108.9" cy="249.2" r="2.05" fill="rgb(254,210,111)"/><circle cx="159.5" cy="247.8" r="2.05" fill="rgb(254,211,112)"/><circle cx="109.4" cy="247.3" r="2.05" fill="rgb(254,178,76)"/><circle cx="101.7" cy="244.0" r="2.05" fill="rgb(255,237,161)"/><circle cx="139.7" cy="237.9" r="2.05" fill="rgb(233,39,31)"/><circle cx="80.7" cy="245.2" r="2.05" fill="rgb(254,188,87)"/><circle cx="154.8" cy="238.6" r="2.05" fill="rgb(249,72,40)"/><circle cx="118.1" cy="262.2" r="2.05" fill="rgb(253,163,69)"/><circle cx="100.4" cy="258.2" r="2.05" fill="rgb(253,165,70)"/><circle cx="85.5" cy="244.4" r="2.05" fill="rgb(254,200,100)"/><circle cx="148.4" cy="243.1" r="2.05" fill="rgb(221,22,29)"/><circle cx="121.9" cy="250.5" r="2.05" fill="rgb(253,167,71)"/><circle cx="152.3" cy="252.2" r="2.05" fill="rgb(253,176,75)"/><circle cx="108.5" cy="260.2" r="2.05" fill="rgb(253,147,62)"/><circle cx="155.4" cy="226.6" r="2.05" fill="rgb(253,167,71)"/><circle cx="136.9" cy="254.2" r="2.05" fill="rgb(254,198,97)"/><circle cx="142.3" cy="236.4" r="2.05" fill="rgb(253,141,60)"/><circle cx="147.5" cy="261.1" r="2.05" fill="rgb(254,182,80)"/><circle cx="121.7" cy="244.6" r="2.05" fill="rgb(253,167,71)"/><circle cx="69.8" cy="245.4" r="2.05" fill="rgb(254,219,122)"/><circle cx="102.1" cy="251.9" r="2.05" fill="rgb(218,20,30)"/><circle cx="61.0" cy="248.6" r="2.05" fill="rgb(252,94,46)"/><circle cx="80.5" cy="250.2" r="2.05" fill="rgb(254,199,99)"/><circle cx="93.2" cy="254.6" r="2.05" fill="rgb(254,231,147)"/><circle cx="128.4" cy="239.4" r="2.05" fill="rgb(253,177,75)"/><circle cx="100.3" cy="243.1" r="2.05" fill="rgb(252,132,57)"/><circle cx="118.2" cy="256.7" r="2.05" fill="rgb(255,244,177)"/><circle cx="93.2" cy="254.7" r="2.05" fill="rgb(254,198,97)"/><circle cx="104.0" cy="243.1" r="2.05" fill="rgb(254,206,107)"/><circle cx="119.6" cy="266.1" r="2.05" fill="rgb(254,219,124)"/><circle cx="153.3" cy="239.3" r="2.05" fill="rgb(252,110,51)"/><circle cx="138.3" cy="262.9" r="2.05" fill="rgb(253,150,64)"/><circle cx="163.9" cy="232.2" r="2.05" fill="rgb(254,183,82)"/><circle cx="137.5" cy="241.1" r="2.05" fill="rgb(235,44,32)"/><circle cx="126.4" cy="236.2" r="2.05" fill="rgb(254,202,101)"/><circle cx="127.2" cy="253.2" r="2.05" fill="rgb(253,153,65)"/><circle cx="129.5" cy="261.3" r="2.05" fill="rgb(254,183,82)"/><circle cx="110.0" cy="241.3" r="2.05" fill="rgb(253,148,63)"/><circle cx="89.9" cy="256.9" r="2.05" fill="rgb(254,218,121)"/><circle cx="97.5" cy="256.9" r="2.05" fill="rgb(255,244,179)"/><circle cx="69.8" cy="262.5" r="2.05" fill="rgb(253,169,72)"/><circle cx="161.1" cy="240.5" r="2.05" fill="rgb(252,120,54)"/><circle cx="147.8" cy="237.2" r="2.05" fill="rgb(242,59,36)"/><circle cx="155.0" cy="235.9" r="2.05" fill="rgb(253,152,64)"/><circle cx="164.7" cy="224.4" r="2.05" fill="rgb(252,90,45)"/><circle cx="125.5" cy="255.5" r="2.05" fill="rgb(254,182,80)"/><circle cx="110.0" cy="248.5" r="2.05" fill="rgb(254,211,112)"/><circle cx="94.6" cy="248.6" r="2.05" fill="rgb(254,193,92)"/><circle cx="88.2" cy="245.6" r="2.05" fill="rgb(254,184,83)"/><circle cx="128.4" cy="258.3" r="2.05" fill="rgb(253,169,72)"/><circle cx="80.9" cy="257.0" r="2.05" fill="rgb(253,165,70)"/><circle cx="105.2" cy="251.4" r="2.05" fill="rgb(252,140,59)"/><circle cx="98.7" cy="251.1" r="2.05" fill="rgb(254,206,107)"/><circle cx="80.7" cy="256.0" r="2.05" fill="rgb(253,157,67)"/><circle cx="113.8" cy="247.3" r="2.05" fill="rgb(254,226,137)"/><circle cx="156.4" cy="247.2" r="2.05" fill="rgb(232,37,31)"/><circle cx="109.9" cy="256.8" r="2.05" fill="rgb(254,227,140)"/><circle cx="96.7" cy="236.2" r="2.05" fill="rgb(235,44,32)"/><circle cx="91.4" cy="266.0" r="2.05" fill="rgb(255,244,179)"/><circle cx="86.1" cy="258.8" r="2.05" fill="rgb(254,194,93)"/><circle cx="115.2" cy="237.3" r="2.05" fill="rgb(253,160,68)"/><circle cx="109.7" cy="247.3" r="2.05" fill="rgb(253,174,74)"/><circle cx="94.0" cy="258.9" r="2.05" fill="rgb(255,242,173)"/><circle cx="147.3" cy="238.9" r="2.05" fill="rgb(254,235,157)"/><circle cx="80.3" cy="254.1" r="2.05" fill="rgb(254,225,136)"/><circle cx="108.7" cy="249.3" r="2.05" fill="rgb(253,175,74)"/><circle cx="86.6" cy="261.1" r="2.05" fill="rgb(254,221,128)"/><circle cx="138.3" cy="262.9" r="2.05" fill="rgb(253,168,71)"/><circle cx="150.8" cy="246.2" r="2.05" fill="rgb(239,52,35)"/><circle cx="101.4" cy="267.6" r="2.05" fill="rgb(253,148,63)"/><circle cx="137.9" cy="247.2" r="2.05" fill="rgb(162,0,38)"/><circle cx="163.6" cy="236.5" r="2.05" fill="rgb(252,134,58)"/><circle cx="144.0" cy="254.2" r="2.05" fill="rgb(244,62,37)"/><circle cx="94.6" cy="253.9" r="2.05" fill="rgb(254,210,111)"/><circle cx="150.7" cy="260.4" r="2.05" fill="rgb(254,209,109)"/><circle cx="134.8" cy="234.5" r="2.05" fill="rgb(253,161,68)"/><circle cx="124.7" cy="243.4" r="2.05" fill="rgb(207,12,33)"/><circle cx="80.4" cy="246.1" r="2.05" fill="rgb(254,236,158)"/><circle cx="124.7" cy="241.8" r="2.05" fill="rgb(255,239,166)"/><circle cx="98.1" cy="239.4" r="2.05" fill="rgb(252,120,54)"/><circle cx="103.8" cy="256.2" r="2.05" fill="rgb(254,209,109)"/><circle cx="145.8" cy="248.7" r="2.05" fill="rgb(204,10,33)"/><circle cx="127.6" cy="248.4" r="2.05" fill="rgb(253,163,69)"/><circle cx="109.5" cy="246.3" r="2.05" fill="rgb(254,219,122)"/><circle cx="75.9" cy="240.8" r="2.05" fill="rgb(255,242,172)"/><circle cx="155.8" cy="239.4" r="2.05" fill="rgb(253,153,65)"/><circle cx="137.6" cy="258.3" r="2.05" fill="rgb(254,232,150)"/><circle cx="126.7" cy="246.7" r="2.05" fill="rgb(254,225,136)"/><circle cx="112.8" cy="257.5" r="2.05" fill="rgb(254,223,130)"/><circle cx="161.0" cy="246.1" r="2.05" fill="rgb(246,67,39)"/><circle cx="111.4" cy="252.6" r="2.05" fill="rgb(252,126,55)"/><circle cx="91.9" cy="253.6" r="2.05" fill="rgb(255,237,161)"/><circle cx="113.9" cy="250.9" r="2.05" fill="rgb(254,191,90)"/><circle cx="80.8" cy="257.1" r="2.05" fill="rgb(253,172,73)"/><circle cx="108.7" cy="253.4" r="2.05" fill="rgb(254,231,149)"/><circle cx="147.0" cy="250.6" r="2.05" fill="rgb(254,183,82)"/><circle cx="97.1" cy="246.0" r="2.05" fill="rgb(253,172,73)"/><circle cx="119.6" cy="252.2" r="2.05" fill="rgb(254,203,103)"/><circle cx="80.2" cy="257.4" r="2.05" fill="rgb(252,102,48)"/><circle cx="70.3" cy="258.0" r="2.05" fill="rgb(254,215,116)"/><circle cx="69.7" cy="260.8" r="2.05" fill="rgb(254,214,115)"/><circle cx="118.7" cy="254.3" r="2.05" fill="rgb(253,163,69)"/><circle cx="152.5" cy="229.7" r="2.05" fill="rgb(252,108,50)"/><circle cx="119.4" cy="261.9" r="2.05" fill="rgb(252,134,58)"/><circle cx="86.1" cy="241.2" r="2.05" fill="rgb(254,229,144)"/><circle cx="89.0" cy="269.2" r="2.05" fill="rgb(253,153,65)"/><circle cx="111.2" cy="243.8" r="2.05" fill="rgb(254,187,86)"/><circle cx="116.9" cy="244.8" r="2.05" fill="rgb(252,84,43)"/><circle cx="113.6" cy="246.4" r="2.05" fill="rgb(252,90,45)"/><circle cx="149.0" cy="257.1" r="2.05" fill="rgb(254,182,80)"/><circle cx="121.2" cy="251.1" r="2.05" fill="rgb(254,197,96)"/><circle cx="140.6" cy="230.2" r="2.05" fill="rgb(227,28,28)"/><circle cx="97.2" cy="233.2" r="2.05" fill="rgb(243,60,37)"/><circle cx="143.1" cy="250.6" r="2.05" fill="rgb(253,171,73)"/><circle cx="157.7" cy="255.8" r="2.05" fill="rgb(254,236,158)"/><circle cx="70.1" cy="253.4" r="2.05" fill="rgb(254,214,115)"/><circle cx="101.6" cy="264.7" r="2.05" fill="rgb(255,244,179)"/><circle cx="127.8" cy="256.0" r="2.05" fill="rgb(253,162,69)"/><circle cx="76.0" cy="243.4" r="2.05" fill="rgb(255,244,179)"/><circle cx="133.0" cy="254.6" r="2.05" fill="rgb(252,88,45)"/><circle cx="136.0" cy="240.6" r="2.05" fill="rgb(254,213,113)"/><circle cx="130.5" cy="243.5" r="2.05" fill="rgb(228,29,28)"/><circle cx="102.5" cy="251.3" r="2.05" fill="rgb(253,156,66)"/><circle cx="136.9" cy="229.8" r="2.05" fill="rgb(252,114,52)"/><circle cx="152.2" cy="252.5" r="2.05" fill="rgb(252,112,51)"/><circle cx="85.9" cy="252.7" r="2.05" fill="rgb(255,237,161)"/><circle cx="86.3" cy="237.2" r="2.05" fill="rgb(255,244,179)"/><circle cx="160.7" cy="254.4" r="2.05" fill="rgb(253,168,71)"/><circle cx="93.9" cy="261.0" r="2.05" fill="rgb(254,232,150)"/><circle cx="107.3" cy="266.9" r="2.05" fill="rgb(227,26,28)"/><circle cx="153.3" cy="226.7" r="2.05" fill="rgb(253,171,73)"/><circle cx="94.7" cy="253.7" r="2.05" fill="rgb(253,176,75)"/><circle cx="128.8" cy="258.6" r="2.05" fill="rgb(254,223,132)"/><circle cx="113.1" cy="242.8" r="2.05" fill="rgb(254,228,141)"/><circle cx="114.0" cy="247.3" r="2.05" fill="rgb(254,186,84)"/><circle cx="122.0" cy="243.6" r="2.05" fill="rgb(252,116,52)"/><circle cx="152.6" cy="244.4" r="2.05" fill="rgb(253,174,74)"/><circle cx="76.0" cy="237.3" r="2.05" fill="rgb(255,244,179)"/><circle cx="171.5" cy="250.2" r="2.05" fill="rgb(254,179,78)"/><circle cx="151.1" cy="245.1" r="2.05" fill="rgb(252,116,52)"/><circle cx="105.6" cy="249.9" r="2.05" fill="rgb(252,138,59)"/><circle cx="141.6" cy="249.9" r="2.05" fill="rgb(253,157,67)"/><circle cx="160.7" cy="225.2" r="2.05" fill="rgb(253,174,74)"/><circle cx="104.4" cy="262.1" r="2.05" fill="rgb(253,147,62)"/><circle cx="90.9" cy="236.8" r="2.05" fill="rgb(255,244,179)"/><circle cx="85.6" cy="252.4" r="2.05" fill="rgb(254,184,83)"/><circle cx="99.0" cy="235.9" r="2.05" fill="rgb(254,203,103)"/><circle cx="109.4" cy="259.7" r="2.05" fill="rgb(252,118,53)"/><circle cx="162.4" cy="246.3" r="2.05" fill="rgb(254,200,100)"/><circle cx="149.2" cy="260.7" r="2.05" fill="rgb(254,225,134)"/><circle cx="169.8" cy="246.8" r="2.05" fill="rgb(254,227,140)"/><circle cx="133.7" cy="247.9" r="2.05" fill="rgb(254,188,87)"/><circle cx="96.6" cy="255.1" r="2.05" fill="rgb(252,120,54)"/><circle cx="138.0" cy="242.6" r="2.05" fill="rgb(254,198,97)"/><circle cx="152.2" cy="258.2" r="2.05" fill="rgb(254,235,155)"/><circle cx="124.0" cy="237.8" r="2.05" fill="rgb(254,226,138)"/><circle cx="161.2" cy="236.0" r="2.05" fill="rgb(247,68,39)"/><circle cx="123.1" cy="246.4" r="2.05" fill="rgb(253,162,69)"/><circle cx="105.8" cy="264.4" r="2.05" fill="rgb(254,219,124)"/><circle cx="87.3" cy="244.6" r="2.05" fill="rgb(254,208,108)"/><circle cx="109.1" cy="257.6" r="2.05" fill="rgb(254,232,150)"/><circle cx="91.6" cy="253.3" r="2.05" fill="rgb(252,126,55)"/><circle cx="131.9" cy="247.9" r="2.05" fill="rgb(254,194,93)"/><circle cx="76.6" cy="242.8" r="2.05" fill="rgb(254,206,107)"/><circle cx="97.1" cy="245.0" r="2.05" fill="rgb(253,153,65)"/><circle cx="114.9" cy="240.3" r="2.05" fill="rgb(254,183,82)"/><circle cx="80.5" cy="256.2" r="2.05" fill="rgb(254,188,87)"/><circle cx="124.9" cy="263.5" r="2.05" fill="rgb(249,72,40)"/><circle cx="152.5" cy="238.4" r="2.05" fill="rgb(240,54,35)"/><circle cx="88.2" cy="243.6" r="2.05" fill="rgb(253,150,64)"/><circle cx="101.3" cy="241.0" r="2.05" fill="rgb(253,163,69)"/><circle cx="156.9" cy="227.7" r="2.05" fill="rgb(252,106,50)"/><circle cx="106.3" cy="243.3" r="2.05" fill="rgb(254,181,79)"/><circle cx="143.8" cy="242.9" r="2.05" fill="rgb(254,191,90)"/><circle cx="120.1" cy="266.0" r="2.05" fill="rgb(253,158,67)"/><circle cx="76.5" cy="247.5" r="2.05" fill="rgb(255,244,179)"/><circle cx="147.2" cy="245.6" r="2.05" fill="rgb(254,209,109)"/><circle cx="125.1" cy="234.8" r="2.05" fill="rgb(254,186,84)"/><circle cx="127.9" cy="260.0" r="2.05" fill="rgb(252,136,58)"/><circle cx="98.6" cy="260.8" r="2.05" fill="rgb(253,169,72)"/><circle cx="130.1" cy="246.4" r="2.05" fill="rgb(232,37,31)"/><circle cx="137.6" cy="248.6" r="2.05" fill="rgb(253,176,75)"/><circle cx="114.7" cy="249.9" r="2.05" fill="rgb(252,94,46)"/><circle cx="130.1" cy="240.7" r="2.05" fill="rgb(254,214,115)"/><circle cx="131.6" cy="237.7" r="2.05" fill="rgb(253,165,70)"/><circle cx="88.9" cy="247.2" r="2.05" fill="rgb(252,140,59)"/><circle cx="131.0" cy="248.1" r="2.05" fill="rgb(254,221,128)"/><circle cx="95.9" cy="268.7" r="2.05" fill="rgb(253,153,65)"/><circle cx="141.0" cy="237.1" r="2.05" fill="rgb(253,175,74)"/><circle cx="76.5" cy="254.8" r="2.05" fill="rgb(254,187,86)"/><circle cx="110.0" cy="267.3" r="2.05" fill="rgb(223,23,28)"/><circle cx="97.8" cy="243.2" r="2.05" fill="rgb(252,94,46)"/><circle cx="91.0" cy="240.4" r="2.05" fill="rgb(254,184,83)"/><circle cx="106.1" cy="243.6" r="2.05" fill="rgb(223,23,28)"/><circle cx="69.6" cy="237.5" r="2.05" fill="rgb(255,244,179)"/><circle cx="127.8" cy="246.9" r="2.05" fill="rgb(254,219,124)"/><circle cx="95.4" cy="243.4" r="2.05" fill="rgb(253,158,67)"/><circle cx="96.7" cy="244.1" r="2.05" fill="rgb(254,188,87)"/><circle cx="114.8" cy="252.5" r="2.05" fill="rgb(253,170,72)"/><circle cx="101.0" cy="246.5" r="2.05" fill="rgb(254,235,157)"/><circle cx="75.9" cy="239.1" r="2.05" fill="rgb(254,206,107)"/><circle cx="104.0" cy="245.7" r="2.05" fill="rgb(242,57,36)"/><circle cx="97.0" cy="253.7" r="2.05" fill="rgb(252,110,51)"/><circle cx="158.0" cy="247.1" r="2.05" fill="rgb(253,164,70)"/><circle cx="81.0" cy="253.1" r="2.05" fill="rgb(253,156,66)"/><circle cx="125.1" cy="237.8" r="2.05" fill="rgb(254,234,154)"/><circle cx="155.8" cy="242.7" r="2.05" fill="rgb(254,179,78)"/><circle cx="143.8" cy="231.7" r="2.05" fill="rgb(253,156,66)"/><circle cx="125.1" cy="253.8" r="2.05" fill="rgb(253,153,65)"/><circle cx="133.0" cy="247.0" r="2.05" fill="rgb(246,67,39)"/><circle cx="76.1" cy="248.6" r="2.05" fill="rgb(253,155,66)"/><circle cx="124.6" cy="232.0" r="2.05" fill="rgb(254,197,96)"/><circle cx="127.7" cy="256.2" r="2.05" fill="rgb(254,198,97)"/><circle cx="135.8" cy="259.5" r="2.05" fill="rgb(253,164,70)"/><circle cx="147.0" cy="252.4" r="2.05" fill="rgb(255,244,179)"/><circle cx="100.3" cy="249.2" r="2.05" fill="rgb(253,141,60)"/><circle cx="80.5" cy="253.6" r="2.05" fill="rgb(254,226,138)"/><circle cx="153.0" cy="259.9" r="2.05" fill="rgb(254,200,100)"/><circle cx="69.8" cy="253.4" r="2.05" fill="rgb(249,73,40)"/><circle cx="113.2" cy="233.9" r="2.05" fill="rgb(255,244,179)"/><circle cx="150.1" cy="228.8" r="2.05" fill="rgb(253,148,63)"/><circle cx="109.0" cy="249.1" r="2.05" fill="rgb(254,211,112)"/><circle cx="89.9" cy="236.9" r="2.05" fill="rgb(255,243,176)"/><circle cx="91.4" cy="245.2" r="2.05" fill="rgb(254,225,134)"/><circle cx="94.2" cy="257.4" r="2.05" fill="rgb(253,171,73)"/><circle cx="80.6" cy="246.3" r="2.05" fill="rgb(254,217,118)"/><circle cx="129.1" cy="251.2" r="2.05" fill="rgb(253,171,73)"/><circle cx="69.8" cy="252.1" r="2.05" fill="rgb(254,222,129)"/><circle cx="75.8" cy="255.7" r="2.05" fill="rgb(254,184,83)"/><circle cx="95.9" cy="246.2" r="2.05" fill="rgb(254,193,92)"/><circle cx="107.6" cy="255.1" r="2.05" fill="rgb(253,156,66)"/><circle cx="120.1" cy="265.2" r="2.05" fill="rgb(252,106,50)"/><circle cx="159.1" cy="242.3" r="2.05" fill="rgb(253,176,75)"/><circle cx="146.1" cy="234.5" r="2.05" fill="rgb(240,54,35)"/><circle cx="113.7" cy="233.8" r="2.05" fill="rgb(254,227,140)"/><circle cx="96.5" cy="251.4" r="2.05" fill="rgb(253,171,73)"/><circle cx="157.0" cy="240.2" r="2.05" fill="rgb(211,15,32)"/><circle cx="94.3" cy="255.9" r="2.05" fill="rgb(254,219,122)"/><circle cx="121.7" cy="257.9" r="2.05" fill="rgb(254,203,103)"/><circle cx="104.0" cy="256.0" r="2.05" fill="rgb(254,217,118)"/><circle cx="161.9" cy="249.1" r="2.05" fill="rgb(254,226,137)"/><circle cx="98.9" cy="247.3" r="2.05" fill="rgb(255,238,163)"/><circle cx="157.1" cy="240.9" r="2.05" fill="rgb(252,124,55)"/><circle cx="101.3" cy="250.0" r="2.05" fill="rgb(252,138,59)"/><circle cx="44.6" cy="254.9" r="2.05" fill="rgb(252,140,59)"/><circle cx="146.0" cy="239.2" r="2.05" fill="rgb(253,153,65)"/><circle cx="97.8" cy="240.6" r="2.05" fill="rgb(252,128,56)"/><circle cx="85.1" cy="252.3" r="2.05" fill="rgb(254,204,104)"/><circle cx="109.2" cy="250.3" r="2.05" fill="rgb(253,147,62)"/><circle cx="152.2" cy="253.2" r="2.05" fill="rgb(249,73,40)"/><circle cx="122.8" cy="257.4" r="2.05" fill="rgb(249,72,40)"/><circle cx="80.3" cy="251.4" r="2.05" fill="rgb(254,182,80)"/><circle cx="89.9" cy="255.6" r="2.05" fill="rgb(254,223,132)"/><circle cx="154.5" cy="240.9" r="2.05" fill="rgb(253,158,67)"/><circle cx="69.5" cy="243.4" r="2.05" fill="rgb(254,202,101)"/><circle cx="93.2" cy="248.4" r="2.05" fill="rgb(253,154,65)"/><circle cx="69.2" cy="246.7" r="2.05" fill="rgb(254,219,124)"/><circle cx="115.1" cy="243.2" r="2.05" fill="rgb(253,176,75)"/><circle cx="139.8" cy="238.2" r="2.05" fill="rgb(252,110,51)"/><circle cx="107.1" cy="244.0" r="2.05" fill="rgb(254,227,140)"/><circle cx="95.6" cy="240.5" r="2.05" fill="rgb(254,193,92)"/><circle cx="101.9" cy="245.0" r="2.05" fill="rgb(253,152,64)"/><circle cx="87.2" cy="243.2" r="2.05" fill="rgb(254,223,132)"/><circle cx="124.3" cy="246.7" r="2.05" fill="rgb(254,233,153)"/><circle cx="125.8" cy="251.8" r="2.05" fill="rgb(187,0,38)"/><circle cx="146.1" cy="242.7" r="2.05" fill="rgb(254,179,78)"/><circle cx="160.4" cy="226.5" r="2.05" fill="rgb(233,39,31)"/><circle cx="140.9" cy="238.3" r="2.05" fill="rgb(253,157,67)"/><circle cx="139.0" cy="242.3" r="2.05" fill="rgb(252,96,47)"/><circle cx="129.5" cy="239.3" r="2.05" fill="rgb(252,92,46)"/><circle cx="130.9" cy="252.0" r="2.05" fill="rgb(254,186,84)"/><circle cx="105.2" cy="265.1" r="2.05" fill="rgb(252,102,48)"/><circle cx="91.2" cy="260.2" r="2.05" fill="rgb(255,244,179)"/><circle cx="121.2" cy="247.6" r="2.05" fill="rgb(254,188,87)"/><circle cx="144.9" cy="257.6" r="2.05" fill="rgb(249,73,40)"/><circle cx="117.3" cy="244.4" r="2.05" fill="rgb(254,230,145)"/><circle cx="158.1" cy="229.6" r="2.05" fill="rgb(253,150,64)"/><circle cx="89.4" cy="236.9" r="2.05" fill="rgb(254,193,92)"/><circle cx="138.6" cy="262.8" r="2.05" fill="rgb(252,96,47)"/><circle cx="130.8" cy="246.4" r="2.05" fill="rgb(254,187,86)"/><circle cx="97.6" cy="251.4" r="2.05" fill="rgb(255,239,166)"/><circle cx="122.1" cy="265.7" r="2.05" fill="rgb(254,230,146)"/><circle cx="100.8" cy="244.1" r="2.05" fill="rgb(254,221,126)"/><circle cx="98.4" cy="238.2" r="2.05" fill="rgb(254,181,79)"/><circle cx="97.4" cy="244.4" r="2.05" fill="rgb(254,215,116)"/><circle cx="76.5" cy="250.3" r="2.05" fill="rgb(253,162,69)"/><circle cx="156.2" cy="254.4" r="2.05" fill="rgb(253,162,69)"/><circle cx="116.3" cy="251.6" r="2.05" fill="rgb(254,215,116)"/><circle cx="75.8" cy="255.3" r="2.05" fill="rgb(254,214,115)"/><circle cx="80.1" cy="254.1" r="2.05" fill="rgb(252,80,42)"/><circle cx="138.4" cy="252.5" r="2.05" fill="rgb(253,167,71)"/><circle cx="105.9" cy="263.4" r="2.05" fill="rgb(254,179,78)"/><circle cx="93.7" cy="253.7" r="2.05" fill="rgb(254,218,121)"/><circle cx="129.6" cy="253.0" r="2.05" fill="rgb(255,239,165)"/><circle cx="101.7" cy="243.4" r="2.05" fill="rgb(252,140,59)"/><circle cx="125.0" cy="258.1" r="2.05" fill="rgb(253,153,65)"/><circle cx="84.8" cy="243.8" r="2.05" fill="rgb(254,223,132)"/><circle cx="101.3" cy="246.8" r="2.05" fill="rgb(254,228,142)"/><circle cx="131.3" cy="242.4" r="2.05" fill="rgb(253,152,64)"/><circle cx="116.4" cy="243.9" r="2.05" fill="rgb(254,188,87)"/><circle cx="134.3" cy="233.5" r="2.05" fill="rgb(208,13,32)"/><circle cx="76.6" cy="249.0" r="2.05" fill="rgb(253,150,64)"/><circle cx="109.2" cy="262.1" r="2.05" fill="rgb(252,80,42)"/><circle cx="69.5" cy="254.1" r="2.05" fill="rgb(253,165,70)"/><circle cx="76.5" cy="250.5" r="2.05" fill="rgb(253,147,62)"/><circle cx="112.0" cy="267.1" r="2.05" fill="rgb(254,222,129)"/><circle cx="115.0" cy="249.0" r="2.05" fill="rgb(254,211,112)"/><circle cx="134.0" cy="253.4" r="2.05" fill="rgb(254,217,118)"/><circle cx="161.1" cy="228.3" r="2.05" fill="rgb(246,65,38)"/><circle cx="91.1" cy="254.6" r="2.05" fill="rgb(254,184,83)"/><circle cx="102.6" cy="249.3" r="2.05" fill="rgb(253,169,72)"/><circle cx="139.3" cy="244.2" r="2.05" fill="rgb(252,138,59)"/><circle cx="117.3" cy="241.9" r="2.05" fill="rgb(254,192,91)"/><circle cx="90.6" cy="236.8" r="2.05" fill="rgb(254,183,82)"/><circle cx="76.1" cy="250.0" r="2.05" fill="rgb(254,202,101)"/><circle cx="161.0" cy="244.4" r="2.05" fill="rgb(252,122,54)"/><circle cx="107.1" cy="243.9" r="2.05" fill="rgb(254,231,147)"/><circle cx="129.9" cy="263.2" r="2.05" fill="rgb(253,175,74)"/><circle cx="123.6" cy="253.3" r="2.05" fill="rgb(254,228,141)"/><circle cx="87.2" cy="237.1" r="2.05" fill="rgb(255,240,169)"/><circle cx="108.6" cy="250.8" r="2.05" fill="rgb(254,193,92)"/><circle cx="139.9" cy="231.9" r="2.05" fill="rgb(252,82,43)"/><circle cx="91.8" cy="247.2" r="2.05" fill="rgb(255,244,179)"/><circle cx="87.7" cy="248.3" r="2.05" fill="rgb(253,172,73)"/><circle cx="103.8" cy="235.2" r="2.05" fill="rgb(254,225,134)"/><circle cx="116.4" cy="239.7" r="2.05" fill="rgb(253,160,68)"/><circle cx="102.7" cy="260.3" r="2.05" fill="rgb(252,104,49)"/><circle cx="69.4" cy="269.3" r="2.05" fill="rgb(254,202,101)"/><circle cx="103.8" cy="247.6" r="2.05" fill="rgb(254,230,145)"/><circle cx="140.1" cy="239.0" r="2.05" fill="rgb(254,231,147)"/><circle cx="126.5" cy="250.5" r="2.05" fill="rgb(253,146,62)"/><circle cx="147.5" cy="257.2" r="2.05" fill="rgb(253,164,70)"/><circle cx="153.0" cy="246.3" r="2.05" fill="rgb(253,145,61)"/><circle cx="124.6" cy="251.9" r="2.05" fill="rgb(252,128,56)"/><circle cx="133.2" cy="253.0" r="2.05" fill="rgb(240,54,35)"/><circle cx="163.6" cy="246.4" r="2.05" fill="rgb(253,156,66)"/><circle cx="144.2" cy="245.4" r="2.05" fill="rgb(233,39,31)"/><circle cx="96.2" cy="260.9" r="2.05" fill="rgb(253,175,74)"/><circle cx="106.6" cy="260.6" r="2.05" fill="rgb(254,198,97)"/><circle cx="137.2" cy="252.2" r="2.05" fill="rgb(252,136,58)"/><circle cx="111.7" cy="239.7" r="2.05" fill="rgb(253,161,68)"/><circle cx="142.8" cy="241.3" r="2.05" fill="rgb(254,208,108)"/><circle cx="107.4" cy="244.4" r="2.05" fill="rgb(254,209,109)"/><circle cx="130.1" cy="255.1" r="2.05" fill="rgb(254,194,93)"/><circle cx="175.7" cy="245.9" r="2.05" fill="rgb(252,112,51)"/><circle cx="110.6" cy="259.4" r="2.05" fill="rgb(252,130,56)"/><circle cx="155.6" cy="226.3" r="2.05" fill="rgb(252,88,45)"/><circle cx="160.6" cy="235.8" r="2.05" fill="rgb(252,108,50)"/><circle cx="152.2" cy="245.6" r="2.05" fill="rgb(254,179,78)"/><circle cx="144.0" cy="253.0" r="2.05" fill="rgb(253,153,65)"/><circle cx="75.8" cy="249.5" r="2.05" fill="rgb(255,244,179)"/><circle cx="160.5" cy="230.3" r="2.05" fill="rgb(211,15,32)"/><circle cx="147.4" cy="230.6" r="2.05" fill="rgb(250,75,41)"/><circle cx="130.3" cy="264.3" r="2.05" fill="rgb(255,244,179)"/><circle cx="143.9" cy="256.6" r="2.05" fill="rgb(254,219,122)"/><circle cx="87.8" cy="249.9" r="2.05" fill="rgb(255,244,179)"/><circle cx="112.5" cy="246.0" r="2.05" fill="rgb(253,155,66)"/><circle cx="118.7" cy="256.3" r="2.05" fill="rgb(254,215,116)"/><circle cx="125.3" cy="249.3" r="2.05" fill="rgb(253,152,64)"/><circle cx="107.8" cy="241.2" r="2.05" fill="rgb(254,234,154)"/><circle cx="102.0" cy="254.5" r="2.05" fill="rgb(251,76,41)"/><circle cx="81.0" cy="258.4" r="2.05" fill="rgb(253,143,61)"/><circle cx="69.9" cy="245.6" r="2.05" fill="rgb(254,218,121)"/><circle cx="147.0" cy="253.1" r="2.05" fill="rgb(254,197,96)"/><circle cx="142.5" cy="233.5" r="2.05" fill="rgb(254,183,82)"/><circle cx="96.6" cy="241.5" r="2.05" fill="rgb(254,205,105)"/><circle cx="149.7" cy="237.8" r="2.05" fill="rgb(254,210,111)"/><circle cx="160.9" cy="240.6" r="2.05" fill="rgb(252,96,47)"/><circle cx="80.0" cy="259.5" r="2.05" fill="rgb(253,168,71)"/><circle cx="76.3" cy="260.0" r="2.05" fill="rgb(253,152,64)"/><circle cx="89.5" cy="236.9" r="2.05" fill="rgb(253,170,72)"/><circle cx="112.4" cy="258.6" r="2.05" fill="rgb(252,132,57)"/><circle cx="110.0" cy="256.6" r="2.05" fill="rgb(254,189,88)"/><circle cx="76.5" cy="267.6" r="2.05" fill="rgb(246,67,39)"/><circle cx="158.2" cy="237.2" r="2.05" fill="rgb(215,18,31)"/><circle cx="129.9" cy="242.1" r="2.05" fill="rgb(227,26,28)"/><circle cx="142.9" cy="247.5" r="2.05" fill="rgb(247,68,39)"/><circle cx="161.6" cy="225.0" r="2.05" fill="rgb(253,146,62)"/><circle cx="147.5" cy="245.9" r="2.05" fill="rgb(253,164,70)"/><circle cx="154.0" cy="236.2" r="2.05" fill="rgb(238,50,34)"/><circle cx="137.6" cy="247.5" r="2.05" fill="rgb(249,73,40)"/><circle cx="150.3" cy="239.8" r="2.05" fill="rgb(246,67,39)"/><circle cx="140.6" cy="246.0" r="2.05" fill="rgb(224,24,28)"/><circle cx="162.3" cy="243.8" r="2.05" fill="rgb(252,86,44)"/><circle cx="131.6" cy="257.6" r="2.05" fill="rgb(254,186,84)"/><circle cx="115.1" cy="263.2" r="2.05" fill="rgb(254,199,99)"/><circle cx="148.2" cy="256.0" r="2.05" fill="rgb(253,167,71)"/><circle cx="144.6" cy="244.3" r="2.05" fill="rgb(253,146,62)"/><circle cx="94.2" cy="248.4" r="2.05" fill="rgb(254,188,87)"/><circle cx="119.6" cy="252.7" r="2.05" fill="rgb(242,59,36)"/><circle cx="152.6" cy="250.5" r="2.05" fill="rgb(254,183,82)"/><circle cx="142.6" cy="232.2" r="2.05" fill="rgb(231,36,30)"/><circle cx="85.1" cy="240.7" r="2.05" fill="rgb(255,237,161)"/><circle cx="126.0" cy="249.7" r="2.05" fill="rgb(254,197,96)"/><circle cx="127.5" cy="241.4" r="2.05" fill="rgb(254,225,134)"/><circle cx="113.8" cy="256.7" r="2.05" fill="rgb(253,160,68)"/><circle cx="94.5" cy="252.0" r="2.05" fill="rgb(254,208,108)"/><circle cx="164.9" cy="233.5" r="2.05" fill="rgb(204,10,33)"/><circle cx="127.9" cy="239.4" r="2.05" fill="rgb(254,225,134)"/><circle cx="127.8" cy="254.4" r="2.05" fill="rgb(253,174,74)"/><circle cx="76.4" cy="255.3" r="2.05" fill="rgb(254,228,142)"/><circle cx="140.4" cy="237.3" r="2.05" fill="rgb(254,231,149)"/><circle cx="115.4" cy="246.8" r="2.05" fill="rgb(253,150,64)"/><circle cx="110.6" cy="257.1" r="2.05" fill="rgb(254,178,76)"/><circle cx="86.9" cy="250.1" r="2.05" fill="rgb(254,228,141)"/><circle cx="86.8" cy="238.7" r="2.05" fill="rgb(254,202,101)"/><circle cx="120.9" cy="247.8" r="2.05" fill="rgb(253,160,68)"/><circle cx="139.4" cy="252.5" r="2.05" fill="rgb(253,177,75)"/><circle cx="99.9" cy="243.0" r="2.05" fill="rgb(252,128,56)"/><circle cx="147.7" cy="248.2" r="2.05" fill="rgb(253,170,72)"/><circle cx="159.9" cy="233.7" r="2.05" fill="rgb(249,73,40)"/><circle cx="93.8" cy="258.6" r="2.05" fill="rgb(254,187,86)"/><circle cx="97.1" cy="241.0" r="2.05" fill="rgb(254,232,150)"/><circle cx="118.7" cy="245.4" r="2.05" fill="rgb(253,174,74)"/><circle cx="139.0" cy="239.5" r="2.05" fill="rgb(231,34,30)"/><circle cx="90.2" cy="248.7" r="2.05" fill="rgb(253,176,75)"/><circle cx="158.5" cy="233.1" r="2.05" fill="rgb(235,44,32)"/><circle cx="118.6" cy="234.2" r="2.05" fill="rgb(254,229,144)"/><circle cx="95.4" cy="260.0" r="2.05" fill="rgb(254,214,115)"/><circle cx="122.2" cy="245.2" r="2.05" fill="rgb(253,158,67)"/><circle cx="160.1" cy="234.5" r="2.05" fill="rgb(230,32,29)"/><circle cx="111.9" cy="237.2" r="2.05" fill="rgb(254,232,150)"/><circle cx="119.2" cy="241.8" r="2.05" fill="rgb(251,76,41)"/><circle cx="87.9" cy="249.3" r="2.05" fill="rgb(254,226,138)"/><circle cx="117.5" cy="256.5" r="2.05" fill="rgb(254,229,144)"/><circle cx="105.0" cy="255.2" r="2.05" fill="rgb(253,161,68)"/><circle cx="131.0" cy="239.2" r="2.05" fill="rgb(220,21,29)"/><circle cx="147.1" cy="251.3" r="2.05" fill="rgb(253,165,70)"/><circle cx="169.2" cy="226.4" r="2.05" fill="rgb(252,112,51)"/><circle cx="103.2" cy="243.2" r="2.05" fill="rgb(254,214,115)"/><circle cx="131.0" cy="264.2" r="2.05" fill="rgb(254,199,99)"/><circle cx="95.9" cy="244.0" r="2.05" fill="rgb(254,223,132)"/><circle cx="157.5" cy="228.4" r="2.05" fill="rgb(254,186,84)"/><circle cx="143.3" cy="250.0" r="2.05" fill="rgb(255,239,166)"/><circle cx="99.9" cy="256.7" r="2.05" fill="rgb(253,172,73)"/><circle cx="139.8" cy="262.6" r="2.05" fill="rgb(254,187,86)"/><circle cx="150.7" cy="232.4" r="2.05" fill="rgb(252,78,42)"/><circle cx="138.9" cy="245.3" r="2.05" fill="rgb(253,171,73)"/><circle cx="80.8" cy="262.3" r="2.05" fill="rgb(253,175,74)"/><circle cx="117.1" cy="240.1" r="2.05" fill="rgb(254,223,130)"/><circle cx="130.4" cy="254.0" r="2.05" fill="rgb(254,208,108)"/><circle cx="151.2" cy="236.0" r="2.05" fill="rgb(234,41,32)"/><circle cx="132.3" cy="254.5" r="2.05" fill="rgb(254,193,92)"/><circle cx="75.9" cy="239.1" r="2.05" fill="rgb(254,218,120)"/><circle cx="148.7" cy="227.6" r="2.05" fill="rgb(230,32,29)"/><circle cx="114.9" cy="257.0" r="2.05" fill="rgb(254,192,91)"/><circle cx="162.7" cy="246.5" r="2.05" fill="rgb(254,200,100)"/><circle cx="152.3" cy="252.0" r="2.05" fill="rgb(254,210,111)"/><circle cx="117.0" cy="242.5" r="2.05" fill="rgb(253,142,60)"/><circle cx="156.9" cy="245.0" r="2.05" fill="rgb(254,223,132)"/><circle cx="136.2" cy="230.0" r="2.05" fill="rgb(238,49,34)"/><circle cx="80.3" cy="243.2" r="2.05" fill="rgb(254,203,103)"/><circle cx="85.6" cy="237.2" r="2.05" fill="rgb(254,219,124)"/><circle cx="100.4" cy="251.4" r="2.05" fill="rgb(253,158,67)"/><circle cx="159.3" cy="231.7" r="2.05" fill="rgb(236,45,33)"/><circle cx="175.7" cy="237.4" r="2.05" fill="rgb(228,29,28)"/><circle cx="145.4" cy="255.4" r="2.05" fill="rgb(252,106,50)"/><circle cx="142.0" cy="248.0" r="2.05" fill="rgb(235,44,32)"/><circle cx="56.0" cy="265.6" r="2.05" fill="rgb(253,157,67)"/><circle cx="113.4" cy="255.7" r="2.05" fill="rgb(253,167,71)"/><circle cx="150.7" cy="238.7" r="2.05" fill="rgb(253,160,68)"/><circle cx="104.7" cy="247.2" r="2.05" fill="rgb(254,217,118)"/><circle cx="134.2" cy="242.9" r="2.05" fill="rgb(223,23,28)"/><circle cx="107.1" cy="253.6" r="2.05" fill="rgb(254,231,147)"/><circle cx="146.0" cy="250.0" r="2.05" fill="rgb(253,149,63)"/><circle cx="89.1" cy="261.4" r="2.05" fill="rgb(254,178,76)"/><circle cx="90.8" cy="256.9" r="2.05" fill="rgb(254,214,115)"/><circle cx="123.6" cy="254.7" r="2.05" fill="rgb(244,62,37)"/><circle cx="153.0" cy="247.8" r="2.05" fill="rgb(254,210,111)"/><circle cx="146.3" cy="252.9" r="2.05" fill="rgb(253,155,66)"/><circle cx="142.3" cy="247.4" r="2.05" fill="rgb(253,146,62)"/><circle cx="142.8" cy="235.3" r="2.05" fill="rgb(203,9,34)"/><circle cx="108.8" cy="255.4" r="2.05" fill="rgb(252,92,46)"/><circle cx="133.5" cy="262.2" r="2.05" fill="rgb(253,163,69)"/><circle cx="137.7" cy="241.5" r="2.05" fill="rgb(238,49,34)"/><circle cx="129.7" cy="245.9" r="2.05" fill="rgb(251,76,41)"/><circle cx="69.8" cy="269.3" r="2.05" fill="rgb(254,231,147)"/><circle cx="145.7" cy="251.2" r="2.05" fill="rgb(253,157,67)"/><circle cx="184.2" cy="239.5" r="2.05" fill="rgb(252,112,51)"/><circle cx="141.4" cy="240.1" r="2.05" fill="rgb(253,153,65)"/><circle cx="119.7" cy="241.2" r="2.05" fill="rgb(253,162,69)"/><circle cx="158.1" cy="245.4" r="2.05" fill="rgb(252,122,54)"/><circle cx="80.9" cy="251.7" r="2.05" fill="rgb(254,220,125)"/><circle cx="141.0" cy="233.5" r="2.05" fill="rgb(252,100,48)"/><circle cx="96.3" cy="248.7" r="2.05" fill="rgb(255,240,168)"/><circle cx="142.5" cy="236.4" r="2.05" fill="rgb(252,98,47)"/><circle cx="111.6" cy="234.1" r="2.05" fill="rgb(255,244,179)"/><circle cx="138.1" cy="248.2" r="2.05" fill="rgb(254,183,82)"/><circle cx="105.0" cy="237.2" r="2.05" fill="rgb(255,244,179)"/><circle cx="104.5" cy="249.8" r="2.05" fill="rgb(254,189,88)"/><circle cx="151.9" cy="237.1" r="2.05" fill="rgb(252,118,53)"/><circle cx="105.5" cy="247.2" r="2.05" fill="rgb(253,174,74)"/><circle cx="147.0" cy="242.4" r="2.05" fill="rgb(252,80,42)"/><circle cx="154.4" cy="226.5" r="2.05" fill="rgb(246,65,38)"/><circle cx="104.1" cy="263.8" r="2.05" fill="rgb(254,230,145)"/><circle cx="113.0" cy="259.8" r="2.05" fill="rgb(254,230,145)"/><circle cx="131.9" cy="256.7" r="2.05" fill="rgb(255,244,179)"/><circle cx="135.2" cy="250.5" r="2.05" fill="rgb(253,153,65)"/><circle cx="107.1" cy="255.5" r="2.05" fill="rgb(254,183,82)"/><circle cx="121.9" cy="246.7" r="2.05" fill="rgb(254,191,90)"/><circle cx="90.2" cy="238.9" r="2.05" fill="rgb(254,203,103)"/><circle cx="154.7" cy="233.0" r="2.05" fill="rgb(253,171,73)"/><circle cx="99.6" cy="268.4" r="2.05" fill="rgb(222,22,29)"/><circle cx="94.4" cy="268.2" r="2.05" fill="rgb(240,54,35)"/><circle cx="115.5" cy="248.4" r="2.05" fill="rgb(253,171,73)"/><circle cx="128.6" cy="240.3" r="2.05" fill="rgb(254,186,84)"/><circle cx="132.8" cy="235.7" r="2.05" fill="rgb(252,92,46)"/><circle cx="155.3" cy="230.4" r="2.05" fill="rgb(221,22,29)"/><circle cx="142.9" cy="257.5" r="2.05" fill="rgb(244,62,37)"/><circle cx="157.1" cy="246.6" r="2.05" fill="rgb(253,149,63)"/><circle cx="119.6" cy="259.6" r="2.05" fill="rgb(192,2,37)"/><circle cx="107.9" cy="241.0" r="2.05" fill="rgb(254,195,95)"/><circle cx="112.9" cy="265.6" r="2.05" fill="rgb(253,174,74)"/><circle cx="155.6" cy="237.8" r="2.05" fill="rgb(253,170,72)"/><circle cx="118.7" cy="257.8" r="2.05" fill="rgb(223,23,28)"/><circle cx="133.3" cy="237.7" r="2.05" fill="rgb(252,138,59)"/><circle cx="97.3" cy="258.4" r="2.05" fill="rgb(253,170,72)"/><circle cx="104.8" cy="246.7" r="2.05" fill="rgb(254,205,105)"/><circle cx="97.4" cy="260.4" r="2.05" fill="rgb(251,76,41)"/><circle cx="115.4" cy="245.2" r="2.05" fill="rgb(244,62,37)"/><circle cx="115.1" cy="259.6" r="2.05" fill="rgb(253,174,74)"/><circle cx="97.1" cy="261.0" r="2.05" fill="rgb(255,239,165)"/><circle cx="154.1" cy="245.4" r="2.05" fill="rgb(254,181,79)"/><circle cx="138.5" cy="247.7" r="2.05" fill="rgb(252,124,55)"/><circle cx="126.9" cy="243.8" r="2.05" fill="rgb(254,221,128)"/><circle cx="110.5" cy="245.9" r="2.05" fill="rgb(254,191,90)"/><circle cx="118.6" cy="250.9" r="2.05" fill="rgb(252,88,45)"/><circle cx="146.8" cy="235.0" r="2.05" fill="rgb(234,41,32)"/><circle cx="139.9" cy="253.1" r="2.05" fill="rgb(235,42,32)"/><circle cx="88.3" cy="248.7" r="2.05" fill="rgb(254,215,116)"/><circle cx="88.6" cy="237.7" r="2.05" fill="rgb(255,237,161)"/><circle cx="69.9" cy="246.0" r="2.05" fill="rgb(254,221,126)"/><circle cx="86.9" cy="243.2" r="2.05" fill="rgb(254,205,105)"/><circle cx="154.0" cy="241.3" r="2.05" fill="rgb(253,172,73)"/><circle cx="113.1" cy="242.3" r="2.05" fill="rgb(252,88,45)"/><circle cx="131.3" cy="238.9" r="2.05" fill="rgb(253,177,75)"/><circle cx="134.5" cy="230.6" r="2.05" fill="rgb(254,221,128)"/><circle cx="127.8" cy="242.5" r="2.05" fill="rgb(254,229,144)"/><circle cx="106.9" cy="256.7" r="2.05" fill="rgb(254,188,87)"/><circle cx="103.8" cy="253.3" r="2.05" fill="rgb(253,156,66)"/><circle cx="123.5" cy="262.4" r="2.05" fill="rgb(254,188,87)"/><circle cx="101.9" cy="255.4" r="2.05" fill="rgb(252,122,54)"/><circle cx="156.1" cy="234.0" r="2.05" fill="rgb(250,75,41)"/><circle cx="111.1" cy="243.0" r="2.05" fill="rgb(253,155,66)"/><circle cx="154.9" cy="245.8" r="2.05" fill="rgb(253,165,70)"/><circle cx="153.0" cy="227.2" r="2.05" fill="rgb(246,67,39)"/><circle cx="86.0" cy="237.2" r="2.05" fill="rgb(254,213,113)"/><circle cx="80.9" cy="254.0" r="2.05" fill="rgb(254,219,122)"/><circle cx="127.3" cy="241.2" r="2.05" fill="rgb(253,145,61)"/><circle cx="91.2" cy="236.8" r="2.05" fill="rgb(252,110,51)"/><circle cx="156.0" cy="241.0" r="2.05" fill="rgb(252,118,53)"/><circle cx="136.4" cy="248.4" r="2.05" fill="rgb(231,36,30)"/><circle cx="101.6" cy="257.4" r="2.05" fill="rgb(255,244,179)"/><circle cx="123.3" cy="240.9" r="2.05" fill="rgb(254,188,87)"/><circle cx="76.3" cy="251.2" r="2.05" fill="rgb(255,244,179)"/><circle cx="116.4" cy="233.4" r="2.05" fill="rgb(254,227,140)"/><circle cx="95.9" cy="248.6" r="2.05" fill="rgb(254,216,117)"/><circle cx="105.8" cy="267.8" r="2.05" fill="rgb(255,241,170)"/><circle cx="104.4" cy="255.5" r="2.05" fill="rgb(254,211,112)"/><circle cx="131.1" cy="243.4" r="2.05" fill="rgb(250,75,41)"/><circle cx="97.7" cy="252.7" r="2.05" fill="rgb(253,167,71)"/><circle cx="145.5" cy="249.8" r="2.05" fill="rgb(253,162,69)"/><circle cx="133.0" cy="238.4" r="2.05" fill="rgb(252,112,51)"/><circle cx="144.3" cy="260.0" r="2.05" fill="rgb(253,162,69)"/><circle cx="102.3" cy="240.9" r="2.05" fill="rgb(253,146,62)"/><circle cx="132.0" cy="254.8" r="2.05" fill="rgb(254,198,97)"/><circle cx="95.4" cy="265.6" r="2.05" fill="rgb(203,9,34)"/><circle cx="113.7" cy="259.1" r="2.05" fill="rgb(253,158,67)"/><circle cx="89.5" cy="246.7" r="2.05" fill="rgb(254,216,117)"/><circle cx="91.0" cy="251.6" r="2.05" fill="rgb(234,41,32)"/><circle cx="110.3" cy="243.3" r="2.05" fill="rgb(253,164,70)"/><circle cx="114.2" cy="259.5" r="2.05" fill="rgb(252,120,54)"/><circle cx="152.4" cy="235.2" r="2.05" fill="rgb(254,233,151)"/><circle cx="114.5" cy="242.1" r="2.05" fill="rgb(253,154,65)"/><circle cx="161.2" cy="232.8" r="2.05" fill="rgb(254,194,93)"/><circle cx="158.0" cy="249.2" r="2.05" fill="rgb(252,132,57)"/><circle cx="139.8" cy="251.1" r="2.05" fill="rgb(254,221,128)"/><circle cx="156.2" cy="234.6" r="2.05" fill="rgb(253,164,70)"/><circle cx="136.9" cy="261.5" r="2.05" fill="rgb(254,209,109)"/><circle cx="144.4" cy="250.3" r="2.05" fill="rgb(235,44,32)"/><circle cx="94.8" cy="266.7" r="2.05" fill="rgb(254,209,109)"/><circle cx="122.6" cy="252.8" r="2.05" fill="rgb(244,62,37)"/><circle cx="143.1" cy="247.7" r="2.05" fill="rgb(254,189,88)"/><circle cx="94.7" cy="249.5" r="2.05" fill="rgb(253,176,75)"/><circle cx="112.2" cy="249.7" r="2.05" fill="rgb(253,160,68)"/><circle cx="132.2" cy="230.7" r="2.05" fill="rgb(254,232,150)"/><circle cx="80.3" cy="237.3" r="2.05" fill="rgb(254,183,82)"/><circle cx="147.8" cy="227.8" r="2.05" fill="rgb(210,14,32)"/><circle cx="86.0" cy="249.3" r="2.05" fill="rgb(254,230,145)"/><circle cx="147.0" cy="230.6" r="2.05" fill="rgb(232,37,31)"/><circle cx="113.1" cy="259.5" r="2.05" fill="rgb(254,193,92)"/><circle cx="76.1" cy="256.9" r="2.05" fill="rgb(254,209,109)"/><circle cx="163.4" cy="235.9" r="2.05" fill="rgb(252,126,55)"/><circle cx="132.1" cy="254.8" r="2.05" fill="rgb(254,195,95)"/><circle cx="88.2" cy="263.4" r="2.05" fill="rgb(254,188,87)"/><circle cx="69.3" cy="259.4" r="2.05" fill="rgb(252,108,50)"/><circle cx="124.5" cy="232.0" r="2.05" fill="rgb(253,161,68)"/><circle cx="92.6" cy="250.4" r="2.05" fill="rgb(254,199,99)"/><circle cx="61.0" cy="263.4" r="2.05" fill="rgb(254,227,140)"/><circle cx="69.7" cy="257.9" r="2.05" fill="rgb(254,209,109)"/><circle cx="92.0" cy="237.8" r="2.05" fill="rgb(255,244,179)"/><circle cx="99.2" cy="248.4" r="2.05" fill="rgb(254,188,87)"/><circle cx="93.5" cy="261.8" r="2.05" fill="rgb(239,52,35)"/><circle cx="91.7" cy="256.7" r="2.05" fill="rgb(254,222,129)"/><circle cx="94.2" cy="241.9" r="2.05" fill="rgb(254,228,142)"/><circle cx="148.5" cy="245.8" r="2.05" fill="rgb(253,156,66)"/><circle cx="123.8" cy="244.5" r="2.05" fill="rgb(253,145,61)"/><circle cx="133.6" cy="253.0" r="2.05" fill="rgb(254,182,80)"/><circle cx="112.8" cy="264.4" r="2.05" fill="rgb(253,177,75)"/><circle cx="159.3" cy="225.5" r="2.05" fill="rgb(217,19,30)"/><circle cx="64.5" cy="267.7" r="2.05" fill="rgb(253,157,67)"/><circle cx="116.2" cy="241.5" r="2.05" fill="rgb(255,238,162)"/><circle cx="85.5" cy="249.3" r="2.05" fill="rgb(254,211,112)"/><circle cx="97.1" cy="265.9" r="2.05" fill="rgb(243,60,37)"/><circle cx="162.8" cy="244.8" r="2.05" fill="rgb(252,116,52)"/><circle cx="165.6" cy="237.9" r="2.05" fill="rgb(252,116,52)"/><circle cx="95.0" cy="251.8" r="2.05" fill="rgb(253,174,74)"/><circle cx="87.1" cy="248.9" r="2.05" fill="rgb(254,218,121)"/><circle cx="76.5" cy="249.8" r="2.05" fill="rgb(255,244,179)"/><circle cx="129.8" cy="260.4" r="2.05" fill="rgb(254,189,88)"/><circle cx="87.2" cy="247.4" r="2.05" fill="rgb(254,229,144)"/><circle cx="153.9" cy="249.3" r="2.05" fill="rgb(254,218,120)"/><circle cx="112.1" cy="253.9" r="2.05" fill="rgb(254,204,104)"/><circle cx="107.5" cy="250.2" r="2.05" fill="rgb(254,181,79)"/><circle cx="131.1" cy="238.2" r="2.05" fill="rgb(245,63,38)"/><circle cx="132.5" cy="255.0" r="2.05" fill="rgb(254,178,76)"/><circle cx="69.2" cy="266.5" r="2.05" fill="rgb(253,169,72)"/><circle cx="126.6" cy="258.4" r="2.05" fill="rgb(226,25,28)"/><circle cx="134.8" cy="247.3" r="2.05" fill="rgb(254,186,84)"/><circle cx="115.8" cy="245.5" r="2.05" fill="rgb(248,70,39)"/><circle cx="120.5" cy="234.7" r="2.05" fill="rgb(254,211,112)"/><circle cx="117.7" cy="257.0" r="2.05" fill="rgb(238,49,34)"/><circle cx="112.2" cy="264.0" r="2.05" fill="rgb(252,86,44)"/><circle cx="158.5" cy="231.7" r="2.05" fill="rgb(238,49,34)"/><circle cx="143.9" cy="259.1" r="2.05" fill="rgb(254,199,99)"/><circle cx="165.1" cy="233.2" r="2.05" fill="rgb(205,11,33)"/><circle cx="136.3" cy="238.9" r="2.05" fill="rgb(252,118,53)"/><circle cx="86.8" cy="238.1" r="2.05" fill="rgb(254,211,112)"/><circle cx="116.3" cy="241.4" r="2.05" fill="rgb(255,244,179)"/><circle cx="69.7" cy="250.7" r="2.05" fill="rgb(255,244,179)"/><circle cx="69.4" cy="263.2" r="2.05" fill="rgb(254,184,83)"/><circle cx="155.0" cy="245.9" r="2.05" fill="rgb(252,134,58)"/><circle cx="119.7" cy="237.7" r="2.05" fill="rgb(243,60,37)"/><circle cx="120.5" cy="265.9" r="2.05" fill="rgb(254,231,149)"/><circle cx="137.9" cy="253.2" r="2.05" fill="rgb(254,194,93)"/><circle cx="76.3" cy="245.3" r="2.05" fill="rgb(254,225,134)"/><circle cx="96.4" cy="242.2" r="2.05" fill="rgb(254,218,121)"/><circle cx="140.1" cy="229.2" r="2.05" fill="rgb(252,80,42)"/><circle cx="137.2" cy="255.3" r="2.05" fill="rgb(252,128,56)"/><circle cx="148.5" cy="236.4" r="2.05" fill="rgb(254,211,112)"/><circle cx="162.0" cy="235.4" r="2.05" fill="rgb(252,88,45)"/><circle cx="153.5" cy="236.0" r="2.05" fill="rgb(254,189,88)"/><circle cx="131.2" cy="264.2" r="2.05" fill="rgb(244,62,37)"/><circle cx="97.1" cy="262.8" r="2.05" fill="rgb(254,210,111)"/><circle cx="132.0" cy="264.0" r="2.05" fill="rgb(252,140,59)"/><circle cx="122.2" cy="248.2" r="2.05" fill="rgb(255,242,172)"/><circle cx="102.5" cy="260.9" r="2.05" fill="rgb(252,128,56)"/><circle cx="125.3" cy="265.2" r="2.05" fill="rgb(252,90,45)"/><circle cx="119.6" cy="260.3" r="2.05" fill="rgb(253,143,61)"/><circle cx="155.2" cy="249.2" r="2.05" fill="rgb(254,197,96)"/><circle cx="101.8" cy="251.8" r="2.05" fill="rgb(254,197,96)"/><circle cx="76.5" cy="239.8" r="2.05" fill="rgb(254,226,137)"/><circle cx="152.9" cy="233.2" r="2.05" fill="rgb(253,146,62)"/><circle cx="76.3" cy="250.3" r="2.05" fill="rgb(254,204,104)"/><circle cx="140.4" cy="246.4" r="2.05" fill="rgb(254,186,84)"/><circle cx="117.0" cy="238.2" r="2.05" fill="rgb(254,218,121)"/><circle cx="95.0" cy="259.0" r="2.05" fill="rgb(254,233,153)"/><circle cx="109.2" cy="257.7" r="2.05" fill="rgb(253,168,71)"/><circle cx="158.6" cy="244.0" r="2.05" fill="rgb(254,202,101)"/><circle cx="104.6" cy="241.6" r="2.05" fill="rgb(254,204,104)"/><circle cx="69.7" cy="249.9" r="2.05" fill="rgb(254,200,100)"/><circle cx="106.0" cy="257.9" r="2.05" fill="rgb(228,29,28)"/><circle cx="106.3" cy="256.9" r="2.05" fill="rgb(254,211,112)"/><circle cx="173.2" cy="264.2" r="2.05" fill="rgb(252,112,51)"/><circle cx="143.3" cy="228.6" r="2.05" fill="rgb(222,22,29)"/><circle cx="123.5" cy="236.4" r="2.05" fill="rgb(236,45,33)"/><circle cx="108.5" cy="247.3" r="2.05" fill="rgb(253,154,65)"/><circle cx="153.4" cy="228.5" r="2.05" fill="rgb(254,195,95)"/><circle cx="121.9" cy="232.5" r="2.05" fill="rgb(250,75,41)"/><circle cx="104.4" cy="243.9" r="2.05" fill="rgb(252,112,51)"/><circle cx="86.9" cy="251.7" r="2.05" fill="rgb(254,220,125)"/><circle cx="92.3" cy="254.3" r="2.05" fill="rgb(252,124,55)"/><circle cx="147.0" cy="251.9" r="2.05" fill="rgb(254,222,129)"/><circle cx="108.2" cy="239.8" r="2.05" fill="rgb(254,236,158)"/><circle cx="118.7" cy="249.2" r="2.05" fill="rgb(254,225,136)"/><circle cx="154.5" cy="234.7" r="2.05" fill="rgb(237,47,33)"/><circle cx="98.7" cy="257.3" r="2.05" fill="rgb(252,108,50)"/><circle cx="141.7" cy="241.5" r="2.05" fill="rgb(254,195,95)"/><circle cx="130.5" cy="264.1" r="2.05" fill="rgb(254,194,93)"/><circle cx="93.8" cy="244.8" r="2.05" fill="rgb(254,198,97)"/><circle cx="108.0" cy="243.1" r="2.05" fill="rgb(254,213,113)"/><circle cx="134.9" cy="250.2" r="2.05" fill="rgb(253,149,63)"/><circle cx="129.0" cy="258.7" r="2.05" fill="rgb(226,25,28)"/><circle cx="107.1" cy="253.3" r="2.05" fill="rgb(254,218,121)"/><circle cx="113.0" cy="257.0" r="2.05" fill="rgb(218,20,30)"/><circle cx="121.7" cy="244.2" r="2.05" fill="rgb(252,88,45)"/><circle cx="93.7" cy="258.3" r="2.05" fill="rgb(253,164,70)"/><circle cx="86.9" cy="237.4" r="2.05" fill="rgb(254,233,151)"/><circle cx="161.8" cy="235.6" r="2.05" fill="rgb(253,163,69)"/><circle cx="133.9" cy="239.8" r="2.05" fill="rgb(252,82,43)"/><circle cx="89.5" cy="246.4" r="2.05" fill="rgb(255,243,176)"/><circle cx="156.0" cy="245.7" r="2.05" fill="rgb(253,162,69)"/><circle cx="118.7" cy="251.4" r="2.05" fill="rgb(254,203,103)"/><circle cx="157.8" cy="225.8" r="2.05" fill="rgb(237,47,33)"/><circle cx="126.7" cy="250.2" r="2.05" fill="rgb(254,234,154)"/><circle cx="165.6" cy="237.6" r="2.05" fill="rgb(253,164,70)"/><circle cx="76.4" cy="237.3" r="2.05" fill="rgb(254,226,138)"/><circle cx="57.3" cy="255.7" r="2.05" fill="rgb(253,146,62)"/><circle cx="93.4" cy="261.5" r="2.05" fill="rgb(254,210,111)"/><circle cx="133.2" cy="244.6" r="2.05" fill="rgb(211,15,32)"/><circle cx="140.5" cy="235.9" r="2.05" fill="rgb(242,57,36)"/><circle cx="119.1" cy="251.4" r="2.05" fill="rgb(252,132,57)"/><circle cx="115.4" cy="238.4" r="2.05" fill="rgb(254,206,107)"/><circle cx="70.1" cy="269.3" r="2.05" fill="rgb(253,147,62)"/><circle cx="61.0" cy="255.7" r="2.05" fill="rgb(252,94,46)"/><circle cx="80.6" cy="253.6" r="2.05" fill="rgb(252,112,51)"/><circle cx="126.9" cy="237.9" r="2.05" fill="rgb(254,198,97)"/><circle cx="149.5" cy="243.2" r="2.05" fill="rgb(235,44,32)"/><circle cx="163.5" cy="237.1" r="2.05" fill="rgb(247,68,39)"/><circle cx="98.0" cy="255.4" r="2.05" fill="rgb(254,179,78)"/><circle cx="118.8" cy="248.6" r="2.05" fill="rgb(254,218,121)"/><circle cx="137.2" cy="263.1" r="2.05" fill="rgb(242,57,36)"/><circle cx="130.7" cy="245.3" r="2.05" fill="rgb(254,182,80)"/><circle cx="97.9" cy="236.0" r="2.05" fill="rgb(254,230,145)"/><circle cx="85.2" cy="248.0" r="2.05" fill="rgb(254,206,107)"/><circle cx="90.8" cy="251.5" r="2.05" fill="rgb(254,220,125)"/><circle cx="100.5" cy="247.6" r="2.05" fill="rgb(253,147,62)"/><circle cx="119.2" cy="257.5" r="2.05" fill="rgb(254,208,108)"/><circle cx="165.5" cy="224.2" r="2.05" fill="rgb(252,98,47)"/><circle cx="138.9" cy="229.5" r="2.05" fill="rgb(242,59,36)"/><circle cx="156.5" cy="248.0" r="2.05" fill="rgb(253,148,63)"/><circle cx="133.3" cy="258.4" r="2.05" fill="rgb(254,187,86)"/><circle cx="96.8" cy="244.0" r="2.05" fill="rgb(253,172,73)"/><circle cx="134.3" cy="257.1" r="2.05" fill="rgb(255,239,166)"/><circle cx="93.1" cy="247.0" r="2.05" fill="rgb(253,141,60)"/><circle cx="75.6" cy="248.1" r="2.05" fill="rgb(254,232,150)"/><circle cx="146.2" cy="253.3" r="2.05" fill="rgb(253,152,64)"/><circle cx="161.6" cy="253.6" r="2.05" fill="rgb(252,80,42)"/><circle cx="95.7" cy="228.8" r="2.05" fill="rgb(228,29,28)"/><circle cx="147.0" cy="240.8" r="2.05" fill="rgb(254,203,103)"/><circle cx="93.0" cy="268.1" r="2.05" fill="rgb(254,194,93)"/><circle cx="159.3" cy="250.7" r="2.05" fill="rgb(254,228,142)"/><circle cx="131.6" cy="246.5" r="2.05" fill="rgb(254,199,99)"/><circle cx="155.8" cy="243.0" r="2.05" fill="rgb(254,203,103)"/><circle cx="80.8" cy="237.3" r="2.05" fill="rgb(253,164,70)"/><circle cx="105.1" cy="250.9" r="2.05" fill="rgb(255,244,179)"/><circle cx="80.9" cy="246.2" r="2.05" fill="rgb(254,236,159)"/><circle cx="134.1" cy="249.2" r="2.05" fill="rgb(254,233,153)"/><circle cx="115.5" cy="254.1" r="2.05" fill="rgb(253,175,74)"/><circle cx="125.6" cy="241.4" r="2.05" fill="rgb(254,200,100)"/><circle cx="159.1" cy="226.6" r="2.05" fill="rgb(221,22,29)"/><circle cx="95.1" cy="255.1" r="2.05" fill="rgb(255,244,179)"/><circle cx="105.3" cy="255.3" r="2.05" fill="rgb(253,170,72)"/><circle cx="88.2" cy="250.4" r="2.05" fill="rgb(253,164,70)"/><circle cx="159.7" cy="235.3" r="2.05" fill="rgb(253,150,64)"/><circle cx="151.1" cy="251.0" r="2.05" fill="rgb(254,225,134)"/><circle cx="138.2" cy="248.9" r="2.05" fill="rgb(254,208,108)"/><circle cx="163.8" cy="227.2" r="2.05" fill="rgb(254,221,128)"/><circle cx="160.1" cy="255.0" r="2.05" fill="rgb(254,217,118)"/><circle cx="159.8" cy="228.3" r="2.05" fill="rgb(252,88,45)"/><circle cx="112.5" cy="241.3" r="2.05" fill="rgb(254,203,103)"/><circle cx="145.6" cy="239.0" r="2.05" fill="rgb(253,152,64)"/><circle cx="124.6" cy="265.3" r="2.05" fill="rgb(252,98,47)"/><circle cx="69.3" cy="243.1" r="2.05" fill="rgb(254,197,96)"/><circle cx="132.4" cy="253.9" r="2.05" fill="rgb(253,162,69)"/><circle cx="108.5" cy="234.6" r="2.05" fill="rgb(253,167,71)"/><circle cx="138.6" cy="256.9" r="2.05" fill="rgb(253,147,62)"/><circle cx="120.6" cy="249.9" r="2.05" fill="rgb(253,161,68)"/><circle cx="147.7" cy="227.8" r="2.05" fill="rgb(236,45,33)"/><circle cx="119.8" cy="242.5" r="2.05" fill="rgb(254,218,121)"/><circle cx="125.0" cy="258.2" r="2.05" fill="rgb(254,181,79)"/><circle cx="111.2" cy="254.7" r="2.05" fill="rgb(254,193,92)"/><circle cx="114.7" cy="245.5" r="2.05" fill="rgb(255,244,179)"/><circle cx="81.2" cy="237.3" r="2.05" fill="rgb(254,221,126)"/><circle cx="141.4" cy="250.0" r="2.05" fill="rgb(244,62,37)"/><circle cx="70.1" cy="250.9" r="2.05" fill="rgb(254,219,122)"/><circle cx="158.1" cy="237.1" r="2.05" fill="rgb(254,216,117)"/><circle cx="147.5" cy="240.9" r="2.05" fill="rgb(254,205,105)"/><circle cx="110.9" cy="250.2" r="2.05" fill="rgb(254,213,113)"/><circle cx="113.8" cy="265.7" r="2.05" fill="rgb(254,231,147)"/><circle cx="100.1" cy="257.5" r="2.05" fill="rgb(253,164,70)"/><circle cx="88.5" cy="256.2" r="2.05" fill="rgb(253,165,70)"/><circle cx="69.3" cy="247.3" r="2.05" fill="rgb(254,233,153)"/><circle cx="150.9" cy="230.3" r="2.05" fill="rgb(229,31,29)"/><circle cx="91.9" cy="266.7" r="2.05" fill="rgb(253,175,74)"/><circle cx="90.8" cy="243.1" r="2.05" fill="rgb(254,192,91)"/><circle cx="87.2" cy="251.4" r="2.05" fill="rgb(255,244,179)"/><circle cx="109.7" cy="249.6" r="2.05" fill="rgb(254,178,76)"/><circle cx="126.5" cy="261.6" r="2.05" fill="rgb(252,134,58)"/><circle cx="69.8" cy="249.1" r="2.05" fill="rgb(253,175,74)"/><circle cx="124.5" cy="248.8" r="2.05" fill="rgb(254,202,101)"/><circle cx="102.0" cy="242.9" r="2.05" fill="rgb(254,179,78)"/><circle cx="106.7" cy="251.0" r="2.05" fill="rgb(254,188,87)"/><circle cx="132.5" cy="253.9" r="2.05" fill="rgb(254,218,120)"/><circle cx="157.4" cy="245.5" r="2.05" fill="rgb(252,120,54)"/><circle cx="113.9" cy="242.8" r="2.05" fill="rgb(252,98,47)"/><circle cx="80.5" cy="237.3" r="2.05" fill="rgb(253,174,74)"/><circle cx="76.0" cy="255.5" r="2.05" fill="rgb(253,164,70)"/><circle cx="70.4" cy="254.7" r="2.05" fill="rgb(255,244,179)"/><circle cx="110.9" cy="243.8" r="2.05" fill="rgb(254,221,126)"/><circle cx="142.5" cy="250.2" r="2.05" fill="rgb(253,150,64)"/><circle cx="129.5" cy="247.3" r="2.05" fill="rgb(254,223,132)"/><circle cx="159.2" cy="239.2" r="2.05" fill="rgb(254,181,79)"/><circle cx="102.5" cy="256.5" r="2.05" fill="rgb(254,184,83)"/><circle cx="161.1" cy="232.7" r="2.05" fill="rgb(244,62,37)"/><circle cx="76.4" cy="238.3" r="2.05" fill="rgb(252,134,58)"/><circle cx="128.3" cy="239.9" r="2.05" fill="rgb(254,198,97)"/><circle cx="92.1" cy="243.4" r="2.05" fill="rgb(254,199,99)"/><circle cx="106.3" cy="246.8" r="2.05" fill="rgb(254,199,99)"/><circle cx="151.2" cy="237.1" r="2.05" fill="rgb(253,165,70)"/><circle cx="129.6" cy="238.0" r="2.05" fill="rgb(254,189,88)"/><circle cx="154.6" cy="237.7" r="2.05" fill="rgb(237,47,33)"/><circle cx="76.7" cy="245.5" r="2.05" fill="rgb(254,218,120)"/><circle cx="155.0" cy="227.6" r="2.05" fill="rgb(252,124,55)"/><circle cx="165.4" cy="242.2" r="2.05" fill="rgb(209,13,32)"/><circle cx="88.6" cy="261.5" r="2.05" fill="rgb(253,160,68)"/><circle cx="112.7" cy="240.5" r="2.05" fill="rgb(253,155,66)"/><circle cx="110.5" cy="249.3" r="2.05" fill="rgb(253,174,74)"/><circle cx="120.0" cy="260.2" r="2.05" fill="rgb(253,176,75)"/><circle cx="69.6" cy="264.4" r="2.05" fill="rgb(254,226,138)"/><circle cx="91.7" cy="257.4" r="2.05" fill="rgb(224,24,28)"/><circle cx="101.7" cy="239.3" r="2.05" fill="rgb(254,217,118)"/><circle cx="147.2" cy="230.2" r="2.05" fill="rgb(253,170,72)"/><circle cx="86.9" cy="247.5" r="2.05" fill="rgb(254,217,118)"/><circle cx="112.3" cy="256.4" r="2.05" fill="rgb(252,138,59)"/><circle cx="160.4" cy="241.1" r="2.05" fill="rgb(230,32,29)"/><circle cx="115.8" cy="256.9" r="2.05" fill="rgb(253,170,72)"/><circle cx="153.1" cy="249.2" r="2.05" fill="rgb(253,174,74)"/><circle cx="98.0" cy="251.0" r="2.05" fill="rgb(253,164,70)"/><circle cx="90.4" cy="253.7" r="2.05" fill="rgb(254,191,90)"/><circle cx="86.3" cy="245.7" r="2.05" fill="rgb(253,177,75)"/><circle cx="103.0" cy="244.3" r="2.05" fill="rgb(254,188,87)"/><circle cx="106.6" cy="263.1" r="2.05" fill="rgb(254,219,124)"/><circle cx="70.4" cy="243.0" r="2.05" fill="rgb(254,224,133)"/><circle cx="162.6" cy="231.8" r="2.05" fill="rgb(231,36,30)"/><circle cx="85.3" cy="247.4" r="2.05" fill="rgb(253,168,71)"/><circle cx="131.6" cy="239.6" r="2.05" fill="rgb(254,206,107)"/><circle cx="121.4" cy="249.9" r="2.05" fill="rgb(207,12,33)"/><circle cx="160.3" cy="218.7" r="2.05" fill="rgb(228,29,28)"/><circle cx="88.6" cy="254.3" r="2.05" fill="rgb(254,194,93)"/><circle cx="115.2" cy="248.6" r="2.05" fill="rgb(253,162,69)"/><circle cx="126.0" cy="251.6" r="2.05" fill="rgb(254,179,78)"/><circle cx="135.2" cy="263.5" r="2.05" fill="rgb(254,228,141)"/><circle cx="94.8" cy="258.8" r="2.05" fill="rgb(232,37,31)"/><circle cx="105.6" cy="254.9" r="2.05" fill="rgb(254,214,115)"/><circle cx="97.4" cy="236.1" r="2.05" fill="rgb(253,172,73)"/><circle cx="92.3" cy="252.5" r="2.05" fill="rgb(252,84,43)"/><circle cx="75.6" cy="237.3" r="2.05" fill="rgb(255,244,179)"/><circle cx="122.4" cy="253.1" r="2.05" fill="rgb(254,183,82)"/><circle cx="137.0" cy="242.1" r="2.05" fill="rgb(254,224,133)"/><circle cx="69.0" cy="251.3" r="2.05" fill="rgb(253,157,67)"/><circle cx="131.2" cy="233.7" r="2.05" fill="rgb(253,146,62)"/><circle cx="115.0" cy="257.6" r="2.05" fill="rgb(241,55,36)"/><circle cx="140.7" cy="254.2" r="2.05" fill="rgb(252,80,42)"/><circle cx="156.0" cy="247.1" r="2.05" fill="rgb(253,162,69)"/><circle cx="125.9" cy="237.4" r="2.05" fill="rgb(254,194,93)"/><circle cx="80.7" cy="260.8" r="2.05" fill="rgb(254,199,99)"/><circle cx="96.3" cy="248.2" r="2.05" fill="rgb(254,231,149)"/><circle cx="88.8" cy="237.6" r="2.05" fill="rgb(255,239,165)"/><circle cx="128.8" cy="244.5" r="2.05" fill="rgb(253,167,71)"/><circle cx="121.0" cy="257.1" r="2.05" fill="rgb(254,198,97)"/><circle cx="115.6" cy="252.7" r="2.05" fill="rgb(254,204,104)"/><circle cx="101.7" cy="255.7" r="2.05" fill="rgb(253,142,60)"/><circle cx="102.1" cy="262.2" r="2.05" fill="rgb(254,182,80)"/><circle cx="155.3" cy="242.7" r="2.05" fill="rgb(252,106,50)"/><circle cx="116.8" cy="257.8" r="2.05" fill="rgb(254,181,79)"/><circle cx="93.6" cy="262.8" r="2.05" fill="rgb(253,158,67)"/><circle cx="92.1" cy="265.4" r="2.05" fill="rgb(254,182,80)"/><circle cx="120.8" cy="235.9" r="2.05" fill="rgb(254,181,79)"/><circle cx="157.7" cy="236.2" r="2.05" fill="rgb(251,76,41)"/><circle cx="87.4" cy="250.2" r="2.05" fill="rgb(254,235,157)"/><circle cx="141.9" cy="252.9" r="2.05" fill="rgb(254,187,86)"/><circle cx="133.5" cy="254.9" r="2.05" fill="rgb(254,216,117)"/><circle cx="160.1" cy="245.7" r="2.05" fill="rgb(253,161,68)"/><circle cx="118.0" cy="245.4" r="2.05" fill="rgb(252,88,45)"/><circle cx="137.1" cy="240.3" r="2.05" fill="rgb(246,67,39)"/><circle cx="150.6" cy="227.2" r="2.05" fill="rgb(240,54,35)"/><circle cx="89.9" cy="259.3" r="2.05" fill="rgb(252,106,50)"/><circle cx="129.0" cy="246.6" r="2.05" fill="rgb(254,193,92)"/><circle cx="116.4" cy="248.3" r="2.05" fill="rgb(254,230,145)"/><circle cx="115.3" cy="244.3" r="2.05" fill="rgb(254,191,90)"/><circle cx="92.8" cy="238.0" r="2.05" fill="rgb(254,232,150)"/><circle cx="88.1" cy="257.3" r="2.05" fill="rgb(253,146,62)"/><circle cx="108.5" cy="251.0" r="2.05" fill="rgb(254,223,130)"/><circle cx="87.9" cy="244.3" r="2.05" fill="rgb(253,174,74)"/><circle cx="99.5" cy="267.0" r="2.05" fill="rgb(254,206,107)"/><circle cx="90.1" cy="249.8" r="2.05" fill="rgb(255,242,172)"/><circle cx="142.8" cy="239.1" r="2.05" fill="rgb(254,197,96)"/><circle cx="161.1" cy="237.4" r="2.05" fill="rgb(252,136,58)"/><circle cx="93.1" cy="258.4" r="2.05" fill="rgb(244,62,37)"/><circle cx="88.5" cy="247.8" r="2.05" fill="rgb(254,221,126)"/><circle cx="93.6" cy="261.1" r="2.05" fill="rgb(254,215,116)"/><circle cx="164.2" cy="258.7" r="2.05" fill="rgb(228,29,28)"/><circle cx="86.6" cy="237.2" r="2.05" fill="rgb(254,210,111)"/><circle cx="122.1" cy="239.2" r="2.05" fill="rgb(252,118,53)"/><circle cx="146.4" cy="234.8" r="2.05" fill="rgb(242,57,36)"/><circle cx="96.2" cy="255.7" r="2.05" fill="rgb(255,244,179)"/><circle cx="141.4" cy="242.4" r="2.05" fill="rgb(254,199,99)"/><circle cx="150.6" cy="244.5" r="2.05" fill="rgb(252,128,56)"/><circle cx="121.1" cy="249.4" r="2.05" fill="rgb(253,156,66)"/><circle cx="130.5" cy="242.3" r="2.05" fill="rgb(254,199,99)"/><circle cx="100.6" cy="241.9" r="2.05" fill="rgb(254,189,88)"/><circle cx="106.1" cy="234.9" r="2.05" fill="rgb(254,208,108)"/><circle cx="103.4" cy="252.1" r="2.05" fill="rgb(253,177,75)"/><circle cx="123.8" cy="238.0" r="2.05" fill="rgb(254,211,112)"/><circle cx="122.3" cy="252.5" r="2.05" fill="rgb(252,116,52)"/><circle cx="134.1" cy="236.2" r="2.05" fill="rgb(252,118,53)"/><circle cx="142.2" cy="243.6" r="2.05" fill="rgb(254,193,92)"/><circle cx="87.4" cy="263.5" r="2.05" fill="rgb(254,228,141)"/><circle cx="110.1" cy="260.0" r="2.05" fill="rgb(253,172,73)"/><circle cx="70.0" cy="254.6" r="2.05" fill="rgb(254,213,113)"/><circle cx="163.5" cy="245.3" r="2.05" fill="rgb(253,145,61)"/><circle cx="132.8" cy="250.9" r="2.05" fill="rgb(239,52,35)"/><circle cx="134.3" cy="243.4" r="2.05" fill="rgb(252,78,42)"/><circle cx="103.7" cy="266.2" r="2.05" fill="rgb(254,183,82)"/><circle cx="131.0" cy="242.1" r="2.05" fill="rgb(246,65,38)"/><circle cx="143.7" cy="243.0" r="2.05" fill="rgb(254,236,158)"/><circle cx="102.8" cy="240.0" r="2.05" fill="rgb(254,233,153)"/><circle cx="119.9" cy="260.8" r="2.05" fill="rgb(254,204,104)"/><circle cx="103.9" cy="253.8" r="2.05" fill="rgb(254,182,80)"/><circle cx="155.0" cy="242.0" r="2.05" fill="rgb(253,161,68)"/><circle cx="129.0" cy="239.2" r="2.05" fill="rgb(202,9,34)"/><circle cx="89.8" cy="238.0" r="2.05" fill="rgb(254,215,116)"/><circle cx="126.5" cy="234.3" r="2.05" fill="rgb(254,184,83)"/><circle cx="134.7" cy="245.1" r="2.05" fill="rgb(255,242,172)"/><circle cx="131.6" cy="237.7" r="2.05" fill="rgb(252,118,53)"/><circle cx="128.5" cy="252.3" r="2.05" fill="rgb(252,126,55)"/><circle cx="80.7" cy="254.6" r="2.05" fill="rgb(253,161,68)"/><circle cx="87.4" cy="247.4" r="2.05" fill="rgb(255,244,179)"/><circle cx="136.4" cy="252.5" r="2.05" fill="rgb(255,240,169)"/><circle cx="146.0" cy="228.1" r="2.05" fill="rgb(208,13,32)"/><circle cx="96.6" cy="259.7" r="2.05" fill="rgb(253,161,68)"/><circle cx="110.0" cy="240.3" r="2.05" fill="rgb(254,203,103)"/><circle cx="119.9" cy="243.4" r="2.05" fill="rgb(252,88,45)"/><circle cx="126.8" cy="242.0" r="2.05" fill="rgb(197,5,35)"/><circle cx="130.2" cy="253.2" r="2.05" fill="rgb(253,163,69)"/><circle cx="69.7" cy="246.0" r="2.05" fill="rgb(253,167,71)"/><circle cx="138.7" cy="257.9" r="2.05" fill="rgb(254,236,158)"/><circle cx="131.3" cy="246.2" r="2.05" fill="rgb(244,62,37)"/><circle cx="128.7" cy="256.8" r="2.05" fill="rgb(254,184,83)"/><circle cx="94.6" cy="261.0" r="2.05" fill="rgb(254,202,101)"/><circle cx="150.1" cy="256.3" r="2.05" fill="rgb(254,215,116)"/><circle cx="114.7" cy="256.5" r="2.05" fill="rgb(254,183,82)"/><circle cx="76.2" cy="243.2" r="2.05" fill="rgb(255,244,179)"/><circle cx="97.1" cy="240.7" r="2.05" fill="rgb(254,198,97)"/><circle cx="153.6" cy="253.9" r="2.05" fill="rgb(254,227,140)"/><circle cx="89.9" cy="250.7" r="2.05" fill="rgb(254,202,101)"/><circle cx="155.0" cy="236.5" r="2.05" fill="rgb(253,171,73)"/><circle cx="108.7" cy="255.0" r="2.05" fill="rgb(253,174,74)"/><circle cx="134.1" cy="230.3" r="2.05" fill="rgb(253,172,73)"/><circle cx="138.6" cy="244.9" r="2.05" fill="rgb(226,25,28)"/><circle cx="141.6" cy="240.5" r="2.05" fill="rgb(253,163,69)"/><circle cx="107.7" cy="249.9" r="2.05" fill="rgb(252,108,50)"/><circle cx="123.7" cy="255.8" r="2.05" fill="rgb(254,184,83)"/><circle cx="69.6" cy="249.5" r="2.05" fill="rgb(254,195,95)"/><circle cx="142.7" cy="239.4" r="2.05" fill="rgb(215,18,31)"/><circle cx="119.2" cy="252.7" r="2.05" fill="rgb(254,197,96)"/><circle cx="104.8" cy="251.7" r="2.05" fill="rgb(255,239,166)"/><circle cx="102.8" cy="244.7" r="2.05" fill="rgb(255,244,179)"/><circle cx="90.6" cy="261.6" r="2.05" fill="rgb(255,244,179)"/><circle cx="137.8" cy="251.0" r="2.05" fill="rgb(252,132,57)"/><circle cx="121.0" cy="248.8" r="2.05" fill="rgb(254,226,138)"/><circle cx="90.5" cy="239.3" r="2.05" fill="rgb(254,234,154)"/><circle cx="86.1" cy="254.0" r="2.05" fill="rgb(254,200,100)"/><circle cx="117.2" cy="254.0" r="2.05" fill="rgb(252,110,51)"/><circle cx="137.8" cy="232.4" r="2.05" fill="rgb(253,141,60)"/><circle cx="163.1" cy="233.2" r="2.05" fill="rgb(252,138,59)"/><circle cx="97.1" cy="250.7" r="2.05" fill="rgb(252,134,58)"/><circle cx="89.5" cy="251.1" r="2.05" fill="rgb(253,154,65)"/><circle cx="158.5" cy="237.5" r="2.05" fill="rgb(253,157,67)"/><circle cx="111.9" cy="234.1" r="2.05" fill="rgb(245,63,38)"/><circle cx="152.0" cy="252.9" r="2.05" fill="rgb(229,31,29)"/><circle cx="148.1" cy="245.3" r="2.05" fill="rgb(252,138,59)"/><circle cx="152.8" cy="251.2" r="2.05" fill="rgb(254,223,130)"/><circle cx="103.6" cy="243.3" r="2.05" fill="rgb(249,73,40)"/><circle cx="128.7" cy="238.9" r="2.05" fill="rgb(252,92,46)"/><circle cx="154.5" cy="254.9" r="2.05" fill="rgb(254,183,82)"/><circle cx="76.0" cy="251.0" r="2.05" fill="rgb(253,158,67)"/><circle cx="94.6" cy="265.5" r="2.05" fill="rgb(253,168,71)"/><circle cx="137.4" cy="243.3" r="2.05" fill="rgb(242,57,36)"/><circle cx="128.0" cy="247.7" r="2.05" fill="rgb(254,205,105)"/><circle cx="127.5" cy="252.3" r="2.05" fill="rgb(254,183,82)"/><circle cx="119.9" cy="247.3" r="2.05" fill="rgb(244,62,37)"/><circle cx="90.8" cy="257.3" r="2.05" fill="rgb(242,59,36)"/><circle cx="112.6" cy="236.4" r="2.05" fill="rgb(254,178,76)"/><circle cx="133.3" cy="236.2" r="2.05" fill="rgb(254,187,86)"/><circle cx="143.6" cy="248.3" r="2.05" fill="rgb(254,231,147)"/><circle cx="153.9" cy="246.9" r="2.05" fill="rgb(254,200,100)"/><circle cx="111.8" cy="252.4" r="2.05" fill="rgb(254,230,145)"/><circle cx="129.1" cy="249.4" r="2.05" fill="rgb(245,63,38)"/><circle cx="76.2" cy="251.0" r="2.05" fill="rgb(253,163,69)"/><circle cx="148.8" cy="255.8" r="2.05" fill="rgb(240,54,35)"/><circle cx="163.1" cy="249.9" r="2.05" fill="rgb(253,168,71)"/></g><line x1="36.15" y1="325.70000000000005" x2="199.25" y2="191.3" stroke="#000" stroke-width="0.9" stroke-dasharray="2.7 1.2"/><line x1="44.2" y1="260.8" x2="184.2" y2="233.6" stroke="#0000ff" stroke-width="0.9"/><text x="52.75" y="279.80" font-size="7.11" textLength="71.65" lengthAdjust="spacingAndGlyphs" fill="#0000ff" stroke="#0000ff" stroke-width="0.07">y=7.5e-02x+2.2e-05</text><text x="106.15" y="293.25" font-size="7.11" textLength="52.50" lengthAdjust="spacingAndGlyphs" fill="#000" stroke="#000" stroke-width="0.07">bias=-3.57e-05</text><text x="106.15" y="300.58" font-size="7.11" textLength="59.35" lengthAdjust="spacingAndGlyphs" fill="#000" stroke="#000" stroke-width="0.07">c-rmse=5.63e-05</text><text x="106.15" y="307.91" font-size="7.11" textLength="48.97" lengthAdjust="spacingAndGlyphs" fill="#000" stroke="#000" stroke-width="0.07">r²=0.21 (0.46)</text><rect x="36.15" y="191.3" width="163.1" height="134.4" fill="none" stroke="#000" stroke-width="0.75"/><path d="M36.15 325.70v2.38M43.16 325.70v1.36M47.27 325.70v1.36M50.18 325.70v1.36M52.44 325.70v1.36M54.28 325.70v1.36M55.84 325.70v1.36M57.19 325.70v1.36M58.38 325.70v1.36M59.45 325.70v2.38M66.46 325.70v1.36M70.57 325.70v1.36M73.48 325.70v1.36M75.74 325.70v1.36M77.58 325.70v1.36M79.14 325.70v1.36M80.49 325.70v1.36M81.68 325.70v1.36M82.75 325.70v2.38M89.76 325.70v1.36M93.87 325.70v1.36M96.78 325.70v1.36M99.04 325.70v1.36M100.88 325.70v1.36M102.44 325.70v1.36M103.79 325.70v1.36M104.98 325.70v1.36M106.05 325.70v2.38M113.06 325.70v1.36M117.17 325.70v1.36M120.08 325.70v1.36M122.34 325.70v1.36M124.18 325.70v1.36M125.74 325.70v1.36M127.09 325.70v1.36M128.28 325.70v1.36M129.35 325.70v2.38M136.36 325.70v1.36M140.47 325.70v1.36M143.38 325.70v1.36M145.64 325.70v1.36M147.48 325.70v1.36M149.04 325.70v1.36M150.39 325.70v1.36M151.58 325.70v1.36M152.65 325.70v2.38M159.66 325.70v1.36M163.77 325.70v1.36M166.68 325.70v1.36M168.94 325.70v1.36M170.78 325.70v1.36M172.34 325.70v1.36M173.69 325.70v1.36M174.88 325.70v1.36M175.95 325.70v2.38M182.96 325.70v1.36M187.07 325.70v1.36M189.98 325.70v1.36M192.24 325.70v1.36M194.08 325.70v1.36M195.64 325.70v1.36M196.99 325.70v1.36M198.18 325.70v1.36M199.25 325.70v2.38M36.15 325.70h-2.38M36.15 319.92h-1.36M36.15 316.54h-1.36M36.15 314.14h-1.36M36.15 312.28h-1.36M36.15 310.76h-1.36M36.15 309.47h-1.36M36.15 308.36h-1.36M36.15 307.38h-1.36M36.15 306.50h-2.38M36.15 300.72h-1.36M36.15 297.34h-1.36M36.15 294.94h-1.36M36.15 293.08h-1.36M36.15 291.56h-1.36M36.15 290.27h-1.36M36.15 289.16h-1.36M36.15 288.18h-1.36M36.15 287.30h-2.38M36.15 281.52h-1.36M36.15 278.14h-1.36M36.15 275.74h-1.36M36.15 273.88h-1.36M36.15 272.36h-1.36M36.15 271.07h-1.36M36.15 269.96h-1.36M36.15 268.98h-1.36M36.15 268.10h-2.38M36.15 262.32h-1.36M36.15 258.94h-1.36M36.15 256.54h-1.36M36.15 254.68h-1.36M36.15 253.16h-1.36M36.15 251.87h-1.36M36.15 250.76h-1.36M36.15 249.78h-1.36M36.15 248.90h-2.38M36.15 243.12h-1.36M36.15 239.74h-1.36M36.15 237.34h-1.36M36.15 235.48h-1.36M36.15 233.96h-1.36M36.15 232.67h-1.36M36.15 231.56h-1.36M36.15 230.58h-1.36M36.15 229.70h-2.38M36.15 223.92h-1.36M36.15 220.54h-1.36M36.15 218.14h-1.36M36.15 216.28h-1.36M36.15 214.76h-1.36M36.15 213.47h-1.36M36.15 212.36h-1.36M36.15 211.38h-1.36M36.15 210.50h-2.38M36.15 204.72h-1.36M36.15 201.34h-1.36M36.15 198.94h-1.36M36.15 197.08h-1.36M36.15 195.56h-1.36M36.15 194.27h-1.36M36.15 193.16h-1.36M36.15 192.18h-1.36M36.15 191.30h-2.38" stroke="#000" stroke-width="0.55" fill="none"/><text x="28.32" y="336.10" font-size="7.11" textLength="8.65" lengthAdjust="spacingAndGlyphs" fill="#000" stroke="#000" stroke-width="0.07">10</text><text x="36.97" y="333.50" font-size="4.97" textLength="7.02" lengthAdjust="spacingAndGlyphs" fill="#000" stroke="#000" stroke-width="0.07">−9</text><text x="74.92" y="336.10" font-size="7.11" textLength="8.65" lengthAdjust="spacingAndGlyphs" fill="#000" stroke="#000" stroke-width="0.07">10</text><text x="83.57" y="333.50" font-size="4.97" textLength="7.02" lengthAdjust="spacingAndGlyphs" fill="#000" stroke="#000" stroke-width="0.07">−7</text><text x="121.52" y="336.10" font-size="7.11" textLength="8.65" lengthAdjust="spacingAndGlyphs" fill="#000" stroke="#000" stroke-width="0.07">10</text><text x="130.17" y="333.50" font-size="4.97" textLength="7.02" lengthAdjust="spacingAndGlyphs" fill="#000" stroke="#000" stroke-width="0.07">−5</text><text x="168.12" y="336.10" font-size="7.11" textLength="8.65" lengthAdjust="spacingAndGlyphs" fill="#000" stroke="#000" stroke-width="0.07">10</text><text x="176.77" y="333.50" font-size="4.97" textLength="7.02" lengthAdjust="spacingAndGlyphs" fill="#000" stroke="#000" stroke-width="0.07">−3</text><text x="15.72" y="328.30" font-size="7.11" textLength="8.65" lengthAdjust="spacingAndGlyphs" fill="#000" stroke="#000" stroke-width="0.07">10</text><text x="24.37" y="325.70" font-size="4.97" textLength="7.02" lengthAdjust="spacingAndGlyphs" fill="#000" stroke="#000" stroke-width="0.07">−9</text><text x="15.72" y="309.10" font-size="7.11" textLength="8.65" lengthAdjust="spacingAndGlyphs" fill="#000" stroke="#000" stroke-width="0.07">10</text><text x="24.37" y="306.50" font-size="4.97" textLength="7.02" lengthAdjust="spacingAndGlyphs" fill="#000" stroke="#000" stroke-width="0.07">−8</text><text x="15.72" y="289.90" font-size="7.11" textLength="8.65" lengthAdjust="spacingAndGlyphs" fill="#000" stroke="#000" stroke-width="0.07">10</text><text x="24.37" y="287.30" font-size="4.97" textLength="7.02" lengthAdjust="spacingAndGlyphs" fill="#000" stroke="#000" stroke-width="0.07">−7</text><text x="15.72" y="270.70" font-size="7.11" textLength="8.65" lengthAdjust="spacingAndGlyphs" fill="#000" stroke="#000" stroke-width="0.07">10</text><text x="24.37" y="268.10" font-size="4.97" textLength="7.02" lengthAdjust="spacingAndGlyphs" fill="#000" stroke="#000" stroke-width="0.07">−6</text><text x="15.72" y="251.50" font-size="7.11" textLength="8.65" lengthAdjust="spacingAndGlyphs" fill="#000" stroke="#000" stroke-width="0.07">10</text><text x="24.37" y="248.90" font-size="4.97" textLength="7.02" lengthAdjust="spacingAndGlyphs" fill="#000" stroke="#000" stroke-width="0.07">−5</text><text x="15.72" y="232.30" font-size="7.11" textLength="8.65" lengthAdjust="spacingAndGlyphs" fill="#000" stroke="#000" stroke-width="0.07">10</text><text x="24.37" y="229.70" font-size="4.97" textLength="7.02" lengthAdjust="spacingAndGlyphs" fill="#000" stroke="#000" stroke-width="0.07">−4</text><text x="15.72" y="213.10" font-size="7.11" textLength="8.65" lengthAdjust="spacingAndGlyphs" fill="#000" stroke="#000" stroke-width="0.07">10</text><text x="24.37" y="210.50" font-size="4.97" textLength="7.02" lengthAdjust="spacingAndGlyphs" fill="#000" stroke="#000" stroke-width="0.07">−3</text><text x="15.72" y="193.90" font-size="7.11" textLength="8.65" lengthAdjust="spacingAndGlyphs" fill="#000" stroke="#000" stroke-width="0.07">10</text><text x="24.37" y="191.30" font-size="4.97" textLength="7.02" lengthAdjust="spacingAndGlyphs" fill="#000" stroke="#000" stroke-width="0.07">−2</text><text x="36.15" y="187.22" font-size="8.53" textLength="59.00" lengthAdjust="spacingAndGlyphs" fill="#000" stroke="#000" stroke-width="0.03" font-weight="bold">c) This study</text><defs><linearGradient id="g209191" x1="0" y1="0" x2="0" y2="1"><stop offset="0.000" stop-color="rgb(128,0,38)"/><stop offset="0.050" stop-color="rgb(150,0,38)"/><stop offset="0.100" stop-color="rgb(175,0,38)"/><stop offset="0.150" stop-color="rgb(196,4,36)"/><stop offset="0.200" stop-color="rgb(211,15,32)"/><stop offset="0.250" stop-color="rgb(226,25,28)"/><stop offset="0.300" stop-color="rgb(236,45,33)"/><stop offset="0.350" stop-color="rgb(246,67,39)"/><stop offset="0.400" stop-color="rgb(252,90,45)"/><stop offset="0.450" stop-color="rgb(252,116,52)"/><stop offset="0.500" stop-color="rgb(252,140,59)"/><stop offset="0.550" stop-color="rgb(253,155,66)"/><stop offset="0.600" stop-color="rgb(253,170,72)"/><stop offset="0.650" stop-color="rgb(254,186,84)"/><stop offset="0.700" stop-color="rgb(254,202,101)"/><stop offset="0.750" stop-color="rgb(254,216,117)"/><stop offset="0.800" stop-color="rgb(254,225,134)"/><stop offset="0.850" stop-color="rgb(254,233,151)"/><stop offset="0.900" stop-color="rgb(255,240,169)"/><stop offset="0.950" stop-color="rgb(255,248,187)"/><stop offset="1.000" stop-color="rgb(255,255,204)"/></linearGradient></defs><rect x="209.3" y="191.3" width="6.6" height="134.4" fill="url(#g209191)" stroke="#000" stroke-width="0.55"/><path d="M215.90 325.70h2.38M215.90 275.90h2.38M215.90 226.11h2.38M215.90 191.30h2.38M215.90 310.71h1.36M215.90 301.94h1.36M215.90 295.72h1.36M215.90 290.89h1.36M215.90 286.95h1.36M215.90 283.62h1.36M215.90 280.73h1.36M215.90 278.18h1.36M215.90 260.91h1.36M215.90 252.14h1.36M215.90 245.92h1.36M215.90 241.10h1.36M215.90 237.15h1.36M215.90 233.82h1.36M215.90 230.93h1.36M215.90 228.39h1.36M215.90 211.12h1.36M215.90 202.35h1.36M215.90 196.13h1.36" stroke="#000" stroke-width="0.55" fill="none"/><text x="220.66" y="328.20" font-size="7.11" textLength="10.81" lengthAdjust="spacingAndGlyphs" fill="#000" stroke="#000" stroke-width="0.07">0.1</text><text x="220.66" y="278.40" font-size="7.11" textLength="4.33" lengthAdjust="spacingAndGlyphs" fill="#000" stroke="#000" stroke-width="0.07">1</text><text x="220.66" y="228.61" font-size="7.11" textLength="8.65" lengthAdjust="spacingAndGlyphs" fill="#000" stroke="#000" stroke-width="0.07">10</text><text x="220.66" y="193.80" font-size="7.11" textLength="8.65" lengthAdjust="spacingAndGlyphs" fill="#000" stroke="#000" stroke-width="0.07">50</text><text x="210.67" y="258.50" font-size="7.11" textLength="57.66" lengthAdjust="spacingAndGlyphs" fill="#000" stroke="#000" stroke-width="0.07" transform="rotate(-90 239.50 258.50)">SOM content (%)</text><g transform="translate(11.2 258.5) rotate(-90)"><text x="-36.95" y="0.00" font-size="7.11" textLength="31.92" lengthAdjust="spacingAndGlyphs" fill="#000" stroke="#000" stroke-width="0.07">Predicted</text><text x="-2.87" y="0.00" font-size="7.11" textLength="3.94" lengthAdjust="spacingAndGlyphs" fill="#000" stroke="#000" stroke-width="0.07" font-style="italic">k</text><text x="1.07" y="1.40" font-size="4.97" textLength="7.26" lengthAdjust="spacingAndGlyphs" fill="#000" stroke="#000" stroke-width="0.07">sat</text><text x="11.10" y="0.00" font-size="7.11" textLength="14.98" lengthAdjust="spacingAndGlyphs" fill="#000" stroke="#000" stroke-width="0.07">(m s</text><text x="26.68" y="-2.10" font-size="4.97" textLength="7.02" lengthAdjust="spacingAndGlyphs" fill="#000" stroke="#000" stroke-width="0.07">−1</text><text x="34.30" y="0.00" font-size="7.11" textLength="2.65" lengthAdjust="spacingAndGlyphs" fill="#000" stroke="#000" stroke-width="0.07">)</text></g><text x="81.25" y="346.60" font-size="7.11" textLength="32.72" lengthAdjust="spacingAndGlyphs" fill="#000" stroke="#000" stroke-width="0.07">Observed</text><text x="116.13" y="346.60" font-size="7.11" textLength="3.94" lengthAdjust="spacingAndGlyphs" fill="#000" stroke="#000" stroke-width="0.07" font-style="italic">k</text><text x="120.07" y="348.00" font-size="4.97" textLength="7.26" lengthAdjust="spacingAndGlyphs" fill="#000" stroke="#000" stroke-width="0.07">sat</text><text x="129.99" y="346.60" font-size="7.11" textLength="14.98" lengthAdjust="spacingAndGlyphs" fill="#000" stroke="#000" stroke-width="0.07">(m s</text><text x="145.18" y="344.50" font-size="4.97" textLength="7.02" lengthAdjust="spacingAndGlyphs" fill="#000" stroke="#000" stroke-width="0.07">−1</text><text x="152.39" y="346.60" font-size="7.11" textLength="2.65" lengthAdjust="spacingAndGlyphs" fill="#000" stroke="#000" stroke-width="0.07">)</text><defs><clipPath id="c3"><rect x="290.4" y="191.3" width="163.1" height="134.4"/></clipPath></defs><line x1="290.4" y1="325.70000000000005" x2="453.5" y2="191.3" stroke="#000" stroke-width="0.9" stroke-dasharray="2.7 1.2"/><line x1="329.3" y1="227" x2="439" y2="234.6" stroke="#0000ff" stroke-width="0.9"/><line x1="330.4" y1="267.5" x2="439" y2="239.2" stroke="#ff0000" stroke-width="0.9"/><line x1="330.4" y1="267.5" x2="439" y2="259.9" stroke="#008000" stroke-width="0.9"/><g clip-path="url(#c3)" stroke="#000" stroke-opacity="0.8" stroke-width="0.4" fill-opacity="0.85"><circle cx="369.6" cy="257.2" r="2.25" fill="#008000"/><circle cx="388.5" cy="242.3" r="2.25" fill="#008000"/><circle cx="403.1" cy="250.8" r="2.25" fill="#008000"/><circle cx="419" cy="248" r="2.25" fill="#008000"/><circle cx="426.8" cy="246.5" r="2.25" fill="#008000"/><circle cx="426.8" cy="255.3" r="2.25" fill="#008000"/><circle cx="432.5" cy="256" r="2.25" fill="#008000"/><circle cx="402.7" cy="256.4" r="2.25" fill="#008000"/><circle cx="408.4" cy="261.3" r="2.25" fill="#008000"/><circle cx="425.4" cy="260.2" r="2.25" fill="#008000"/><circle cx="431.7" cy="258.8" r="2.25" fill="#008000"/><circle cx="330.2" cy="278.6" r="2.25" fill="#008000"/><circle cx="375.7" cy="275.1" r="2.25" fill="#008000"/><circle cx="381.2" cy="275.8" r="2.25" fill="#008000"/><circle cx="388.1" cy="273.1" r="2.25" fill="#008000"/><circle cx="413" cy="280.9" r="2.25" fill="#008000"/><circle cx="396.3" cy="286.8" r="2.25" fill="#008000"/><circle cx="438.5" cy="289.7" r="2.25" fill="#008000"/><circle cx="330.2" cy="224.6" r="2.25" fill="#0000ff"/><circle cx="330.2" cy="228.7" r="2.25" fill="#0000ff"/><circle cx="369.6" cy="228.9" r="2.25" fill="#0000ff"/><circle cx="376" cy="234.1" r="2.25" fill="#0000ff"/><circle cx="381.2" cy="238.4" r="2.25" fill="#0000ff"/><circle cx="388.1" cy="228.7" r="2.25" fill="#0000ff"/><circle cx="388.1" cy="236.9" r="2.25" fill="#0000ff"/><circle cx="402.3" cy="224.2" r="2.25" fill="#0000ff"/><circle cx="404.8" cy="225.9" r="2.25" fill="#0000ff"/><circle cx="413.3" cy="224.4" r="2.25" fill="#0000ff"/><circle cx="426.8" cy="224.4" r="2.25" fill="#0000ff"/><circle cx="403.1" cy="229.5" r="2.25" fill="#0000ff"/><circle cx="396.3" cy="233.8" r="2.25" fill="#0000ff"/><circle cx="408.4" cy="232.4" r="2.25" fill="#0000ff"/><circle cx="419" cy="231" r="2.25" fill="#0000ff"/><circle cx="425.4" cy="233.8" r="2.25" fill="#0000ff"/><circle cx="431.7" cy="233.4" r="2.25" fill="#0000ff"/><circle cx="426.8" cy="235.2" r="2.25" fill="#0000ff"/><circle cx="369.6" cy="247.9" r="2.25" fill="#ff0000"/><circle cx="381.2" cy="244.7" r="2.25" fill="#ff0000"/><circle cx="330.2" cy="256.8" r="2.25" fill="#ff0000"/><circle cx="375.7" cy="260.3" r="2.25" fill="#ff0000"/><circle cx="388.1" cy="256.5" r="2.25" fill="#ff0000"/><circle cx="419" cy="234.4" r="2.25" fill="#ff0000"/><circle cx="431.7" cy="235.8" r="2.25" fill="#ff0000"/><circle cx="426.1" cy="238" r="2.25" fill="#ff0000"/><circle cx="408.4" cy="239.3" r="2.25" fill="#ff0000"/><circle cx="403.1" cy="241.9" r="2.25" fill="#ff0000"/><circle cx="426.8" cy="242.9" r="2.25" fill="#ff0000"/><circle cx="432.5" cy="240.5" r="2.25" fill="#ff0000"/><circle cx="404.8" cy="246.8" r="2.25" fill="#ff0000"/><circle cx="396.3" cy="250" r="2.25" fill="#ff0000"/><circle cx="438.8" cy="250.1" r="2.25" fill="#ff0000"/><circle cx="402.7" cy="259.6" r="2.25" fill="#ff0000"/><circle cx="413" cy="271" r="2.25" fill="#ff0000"/><circle cx="330.2" cy="283.7" r="2.25" fill="#ff0000"/><circle cx="330.2" cy="256.8" r="2.25" fill="#b0102a"/><circle cx="438.8" cy="250.1" r="2.25" fill="#b0102a"/></g><text x="294.00" y="239.50" font-size="6.40" textLength="47.25" lengthAdjust="spacingAndGlyphs" fill="#0000ff" stroke="#0000ff" stroke-width="0.07">bias=-4.79e-05</text><text x="294.00" y="246.50" font-size="6.40" textLength="53.41" lengthAdjust="spacingAndGlyphs" fill="#0000ff" stroke="#0000ff" stroke-width="0.07">c-rmse=1.31e-04</text><text x="294.00" y="253.50" font-size="6.40" textLength="44.07" lengthAdjust="spacingAndGlyphs" fill="#0000ff" stroke="#0000ff" stroke-width="0.07">r²=0.19 (0.13)</text><text x="331.70" y="306.90" font-size="6.40" textLength="47.25" lengthAdjust="spacingAndGlyphs" fill="#ff0000" stroke="#ff0000" stroke-width="0.07">bias=-9.03e-05</text><text x="331.70" y="313.90" font-size="6.40" textLength="53.41" lengthAdjust="spacingAndGlyphs" fill="#ff0000" stroke="#ff0000" stroke-width="0.07">c-rmse=1.13e-04</text><text x="331.70" y="320.90" font-size="6.40" textLength="44.07" lengthAdjust="spacingAndGlyphs" fill="#ff0000" stroke="#ff0000" stroke-width="0.07">r²=0.25 (0.42)</text><text x="396.90" y="306.90" font-size="6.40" textLength="47.25" lengthAdjust="spacingAndGlyphs" fill="#008000" stroke="#008000" stroke-width="0.07">bias=-1.03e-04</text><text x="396.90" y="313.90" font-size="6.40" textLength="53.41" lengthAdjust="spacingAndGlyphs" fill="#008000" stroke="#008000" stroke-width="0.07">c-rmse=1.20e-04</text><text x="396.90" y="320.90" font-size="6.40" textLength="44.07" lengthAdjust="spacingAndGlyphs" fill="#008000" stroke="#008000" stroke-width="0.07">r²=0.00 (0.02)</text><circle cx="303.6" cy="200.7" r="2.25" fill="#008000" fill-opacity="0.85" stroke="#000" stroke-opacity="0.8" stroke-width="0.4"/><text x="316.40" y="203.20" font-size="7.11" textLength="64.96" lengthAdjust="spacingAndGlyphs" fill="#000" stroke="#000" stroke-width="0.07">Cosby et al. (1984)</text><circle cx="303.6" cy="210.89999999999998" r="2.25" fill="#0000ff" fill-opacity="0.85" stroke="#000" stroke-opacity="0.8" stroke-width="0.4"/><text x="316.40" y="213.40" font-size="7.11" textLength="87.00" lengthAdjust="spacingAndGlyphs" fill="#000" stroke="#000" stroke-width="0.07">Lawrence &amp; Slater (2008)</text><circle cx="303.6" cy="221.1" r="2.25" fill="#ff0000" fill-opacity="0.85" stroke="#000" stroke-opacity="0.8" stroke-width="0.4"/><text x="316.40" y="223.60" font-size="7.11" textLength="34.92" lengthAdjust="spacingAndGlyphs" fill="#000" stroke="#000" stroke-width="0.07">This study</text><rect x="290.4" y="191.3" width="163.1" height="134.4" fill="none" stroke="#000" stroke-width="0.75"/><path d="M290.40 325.70v2.38M302.67 325.70v1.36M309.85 325.70v1.36M314.95 325.70v1.36M318.90 325.70v1.36M322.13 325.70v1.36M324.86 325.70v1.36M327.22 325.70v1.36M329.31 325.70v1.36M331.17 325.70v2.38M343.45 325.70v1.36M350.63 325.70v1.36M355.72 325.70v1.36M359.68 325.70v1.36M362.90 325.70v1.36M365.63 325.70v1.36M368.00 325.70v1.36M370.08 325.70v1.36M371.95 325.70v2.38M384.22 325.70v1.36M391.40 325.70v1.36M396.50 325.70v1.36M400.45 325.70v1.36M403.68 325.70v1.36M406.41 325.70v1.36M408.77 325.70v1.36M410.86 325.70v1.36M412.72 325.70v2.38M425.00 325.70v1.36M432.18 325.70v1.36M437.27 325.70v1.36M441.23 325.70v1.36M444.45 325.70v1.36M447.18 325.70v1.36M449.55 325.70v1.36M451.63 325.70v1.36M453.50 325.70v2.38M290.40 325.70h-2.38M290.40 315.59h-1.36M290.40 309.67h-1.36M290.40 305.47h-1.36M290.40 302.21h-1.36M290.40 299.55h-1.36M290.40 297.30h-1.36M290.40 295.36h-1.36M290.40 293.64h-1.36M290.40 292.10h-2.38M290.40 281.99h-1.36M290.40 276.07h-1.36M290.40 271.87h-1.36M290.40 268.61h-1.36M290.40 265.95h-1.36M290.40 263.70h-1.36M290.40 261.76h-1.36M290.40 260.04h-1.36M290.40 258.50h-2.38M290.40 248.39h-1.36M290.40 242.47h-1.36M290.40 238.27h-1.36M290.40 235.01h-1.36M290.40 232.35h-1.36M290.40 230.10h-1.36M290.40 228.16h-1.36M290.40 226.44h-1.36M290.40 224.90h-2.38M290.40 214.79h-1.36M290.40 208.87h-1.36M290.40 204.67h-1.36M290.40 201.41h-1.36M290.40 198.75h-1.36M290.40 196.50h-1.36M290.40 194.56h-1.36M290.40 192.84h-1.36M290.40 191.30h-2.38" stroke="#000" stroke-width="0.55" fill="none"/><text x="282.57" y="336.10" font-size="7.11" textLength="8.65" lengthAdjust="spacingAndGlyphs" fill="#000" stroke="#000" stroke-width="0.07">10</text><text x="291.22" y="333.50" font-size="4.97" textLength="7.02" lengthAdjust="spacingAndGlyphs" fill="#000" stroke="#000" stroke-width="0.07">−7</text><text x="323.34" y="336.10" font-size="7.11" textLength="8.65" lengthAdjust="spacingAndGlyphs" fill="#000" stroke="#000" stroke-width="0.07">10</text><text x="331.99" y="333.50" font-size="4.97" textLength="7.02" lengthAdjust="spacingAndGlyphs" fill="#000" stroke="#000" stroke-width="0.07">−6</text><text x="364.12" y="336.10" font-size="7.11" textLength="8.65" lengthAdjust="spacingAndGlyphs" fill="#000" stroke="#000" stroke-width="0.07">10</text><text x="372.77" y="333.50" font-size="4.97" textLength="7.02" lengthAdjust="spacingAndGlyphs" fill="#000" stroke="#000" stroke-width="0.07">−5</text><text x="404.89" y="336.10" font-size="7.11" textLength="8.65" lengthAdjust="spacingAndGlyphs" fill="#000" stroke="#000" stroke-width="0.07">10</text><text x="413.54" y="333.50" font-size="4.97" textLength="7.02" lengthAdjust="spacingAndGlyphs" fill="#000" stroke="#000" stroke-width="0.07">−4</text><text x="445.67" y="336.10" font-size="7.11" textLength="8.65" lengthAdjust="spacingAndGlyphs" fill="#000" stroke="#000" stroke-width="0.07">10</text><text x="454.32" y="333.50" font-size="4.97" textLength="7.02" lengthAdjust="spacingAndGlyphs" fill="#000" stroke="#000" stroke-width="0.07">−3</text><text x="269.97" y="328.30" font-size="7.11" textLength="8.65" lengthAdjust="spacingAndGlyphs" fill="#000" stroke="#000" stroke-width="0.07">10</text><text x="278.62" y="325.70" font-size="4.97" textLength="7.02" lengthAdjust="spacingAndGlyphs" fill="#000" stroke="#000" stroke-width="0.07">−7</text><text x="269.97" y="294.70" font-size="7.11" textLength="8.65" lengthAdjust="spacingAndGlyphs" fill="#000" stroke="#000" stroke-width="0.07">10</text><text x="278.62" y="292.10" font-size="4.97" textLength="7.02" lengthAdjust="spacingAndGlyphs" fill="#000" stroke="#000" stroke-width="0.07">−6</text><text x="269.97" y="261.10" font-size="7.11" textLength="8.65" lengthAdjust="spacingAndGlyphs" fill="#000" stroke="#000" stroke-width="0.07">10</text><text x="278.62" y="258.50" font-size="4.97" textLength="7.02" lengthAdjust="spacingAndGlyphs" fill="#000" stroke="#000" stroke-width="0.07">−5</text><text x="269.97" y="227.50" font-size="7.11" textLength="8.65" lengthAdjust="spacingAndGlyphs" fill="#000" stroke="#000" stroke-width="0.07">10</text><text x="278.62" y="224.90" font-size="4.97" textLength="7.02" lengthAdjust="spacingAndGlyphs" fill="#000" stroke="#000" stroke-width="0.07">−4</text><text x="269.97" y="193.90" font-size="7.11" textLength="8.65" lengthAdjust="spacingAndGlyphs" fill="#000" stroke="#000" stroke-width="0.07">10</text><text x="278.62" y="191.30" font-size="4.97" textLength="7.02" lengthAdjust="spacingAndGlyphs" fill="#000" stroke="#000" stroke-width="0.07">−3</text><text x="290.40" y="187.22" font-size="8.53" textLength="69.45" lengthAdjust="spacingAndGlyphs" fill="#000" stroke="#000" stroke-width="0.03" font-weight="bold">d) SOC content</text><text x="365.99" y="187.22" font-size="8.10" textLength="6.50" lengthAdjust="spacingAndGlyphs" fill="#000" stroke="#000" stroke-width="0.07">≥</text><text x="376.59" y="187.22" font-size="8.53" textLength="13.85" lengthAdjust="spacingAndGlyphs" fill="#000" stroke="#000" stroke-width="0.03" font-weight="bold">8%</text><text x="335.50" y="346.60" font-size="7.11" textLength="32.72" lengthAdjust="spacingAndGlyphs" fill="#000" stroke="#000" stroke-width="0.07">Observed</text><text x="370.38" y="346.60" font-size="7.11" textLength="3.94" lengthAdjust="spacingAndGlyphs" fill="#000" stroke="#000" stroke-width="0.07" font-style="italic">k</text><text x="374.32" y="348.00" font-size="4.97" textLength="7.26" lengthAdjust="spacingAndGlyphs" fill="#000" stroke="#000" stroke-width="0.07">sat</text><text x="384.24" y="346.60" font-size="7.11" textLength="14.98" lengthAdjust="spacingAndGlyphs" fill="#000" stroke="#000" stroke-width="0.07">(m s</text><text x="399.43" y="344.50" font-size="4.97" textLength="7.02" lengthAdjust="spacingAndGlyphs" fill="#000" stroke="#000" stroke-width="0.07">−1</text><text x="406.64" y="346.60" font-size="7.11" textLength="2.65" lengthAdjust="spacingAndGlyphs" fill="#000" stroke="#000" stroke-width="0.07">)</text></svg></body></html>
